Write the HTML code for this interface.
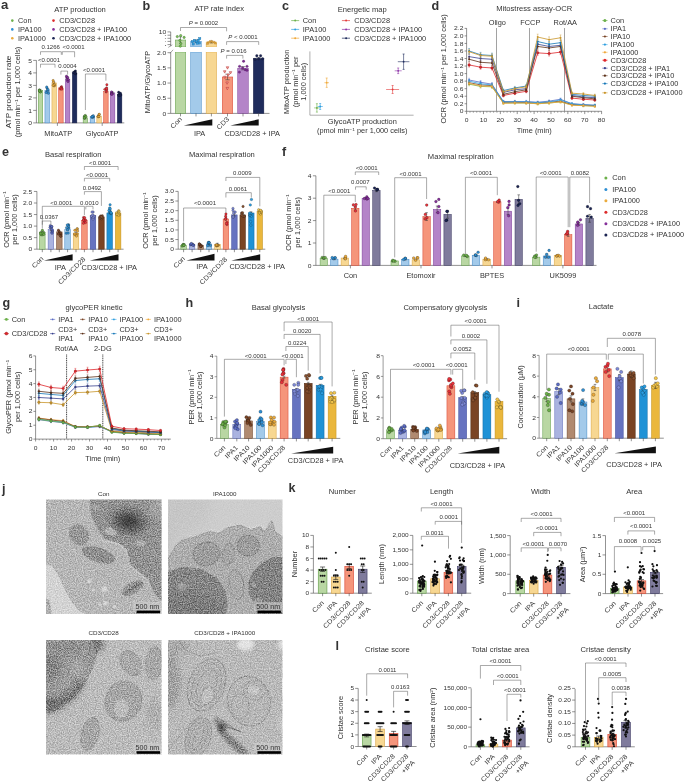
<!DOCTYPE html>
<html lang="en"><head><meta charset="utf-8"><title>Figure</title>
<style>
html,body{margin:0;padding:0;background:#fff}
svg{display:block}
text{font-family:"Liberation Sans",sans-serif;fill:#333}
</style></head><body>
<svg width="685" height="782" viewBox="0 0 685 782">
<defs>
<filter id="grain" x="0" y="0" width="100%" height="100%" color-interpolation-filters="sRGB">
<feTurbulence type="fractalNoise" baseFrequency="0.85" numOctaves="2" seed="5" result="n"/>
<feColorMatrix in="n" type="matrix" values="1.9 0 0 0 -0.45  1.9 0 0 0 -0.45  1.9 0 0 0 -0.45  0 0 0 0 1"/>
</filter>
<filter id="grainc" x="0" y="0" width="100%" height="100%" color-interpolation-filters="sRGB">
<feTurbulence type="fractalNoise" baseFrequency="0.25" numOctaves="3" seed="8" result="n"/>
<feColorMatrix in="n" type="matrix" values="2.6 0 0 0 -0.8  2.6 0 0 0 -0.8  2.6 0 0 0 -0.8  0 0 0 0 1"/>
</filter>
<filter id="b1" x="-30%" y="-30%" width="160%" height="160%"><feGaussianBlur stdDeviation="0.6"/></filter>
<filter id="b2" x="-40%" y="-40%" width="180%" height="180%"><feGaussianBlur stdDeviation="1.6"/></filter>
<filter id="b3" x="-50%" y="-50%" width="200%" height="200%"><feGaussianBlur stdDeviation="3"/></filter>
<filter id="b6" x="-50%" y="-50%" width="200%" height="200%"><feGaussianBlur stdDeviation="7"/></filter>
<clipPath id="cj1"><rect x="46" y="499.4" width="115.6" height="114.6"/></clipPath>
<clipPath id="cj2"><rect x="168" y="499.4" width="114.5" height="114.6"/></clipPath>
<clipPath id="cj3"><rect x="46" y="640" width="115.6" height="114.6"/></clipPath>
<clipPath id="cj4"><rect x="168" y="640" width="114.5" height="114.6"/></clipPath>
</defs>

<text font-size="12" transform="translate(1 8.8) scale(1.1 1)" font-weight="bold" fill="#000">a</text>
<text font-size="6.8" text-anchor="middle" transform="translate(80 11.6) scale(1.12 1)">ATP production</text>
<circle cx="12.3" cy="20.6" r="1.3" fill="#6cb04a"/>
<text font-size="6.6" transform="translate(18 23) scale(1.12 1)">Con</text>
<circle cx="12.3" cy="29.4" r="1.3" fill="#2f8fd3"/>
<text font-size="6.6" transform="translate(18 31.8) scale(1.12 1)">IPA100</text>
<circle cx="12.3" cy="38.2" r="1.3" fill="#eaaa3c"/>
<text font-size="6.6" transform="translate(18 40.6) scale(1.12 1)">IPA1000</text>
<circle cx="53.5" cy="20.6" r="1.3" fill="#dc2a2a"/>
<text font-size="6.6" transform="translate(59.3 23) scale(1.12 1)">CD3/CD28</text>
<circle cx="53.5" cy="29.4" r="1.3" fill="#85309a"/>
<text font-size="6.6" transform="translate(59.3 31.8) scale(1.12 1)">CD3/CD28 + IPA100</text>
<circle cx="53.5" cy="38.2" r="1.3" fill="#1b2452"/>
<text font-size="6.6" transform="translate(59.3 40.6) scale(1.12 1)">CD3/CD28 + IPA1000</text>
<line x1="36.4" y1="60.3" x2="36.4" y2="122.9" stroke="#4a4a4a" stroke-width="0.6"/>
<line x1="33.2" y1="122.9" x2="36.4" y2="122.9" stroke="#4a4a4a" stroke-width="0.6"/>
<text font-size="6" text-anchor="end" transform="translate(32 125) scale(1.12 1)">0</text>
<line x1="33.2" y1="110.4" x2="36.4" y2="110.4" stroke="#4a4a4a" stroke-width="0.6"/>
<text font-size="6" text-anchor="end" transform="translate(32 112.5) scale(1.12 1)">1</text>
<line x1="33.2" y1="97.9" x2="36.4" y2="97.9" stroke="#4a4a4a" stroke-width="0.6"/>
<text font-size="6" text-anchor="end" transform="translate(32 100) scale(1.12 1)">2</text>
<line x1="33.2" y1="85.4" x2="36.4" y2="85.4" stroke="#4a4a4a" stroke-width="0.6"/>
<text font-size="6" text-anchor="end" transform="translate(32 87.5) scale(1.12 1)">3</text>
<line x1="33.2" y1="72.9" x2="36.4" y2="72.9" stroke="#4a4a4a" stroke-width="0.6"/>
<text font-size="6" text-anchor="end" transform="translate(32 75) scale(1.12 1)">4</text>
<line x1="33.2" y1="60.4" x2="36.4" y2="60.4" stroke="#4a4a4a" stroke-width="0.6"/>
<text font-size="6" text-anchor="end" transform="translate(32 62.5) scale(1.12 1)">5</text>
<line x1="36.4" y1="122.9" x2="124.3" y2="122.9" stroke="#4a4a4a" stroke-width="0.6"/>
<line x1="57.4" y1="122.9" x2="57.4" y2="125.9" stroke="#4a4a4a" stroke-width="0.6"/>
<line x1="102.2" y1="122.9" x2="102.2" y2="125.9" stroke="#4a4a4a" stroke-width="0.6"/>
<rect x="38.25" y="90.4" width="4.5" height="32.5" fill="#b9d7a3" stroke="#5e9c45" stroke-width="0.5"/>
<path d="M40.5 89.4V91.4M39.5 89.4H41.5M39.5 91.4H41.5" stroke="#333" stroke-width="0.5" fill="none"/>
<circle cx="39.44" cy="91.06" r="1.2" fill="#6cb04a" stroke="#00000099" stroke-width="0.35"/>
<circle cx="40.52" cy="91.71" r="1.2" fill="#6cb04a" stroke="#00000099" stroke-width="0.35"/>
<circle cx="39.39" cy="89.83" r="1.2" fill="#6cb04a" stroke="#00000099" stroke-width="0.35"/>
<circle cx="40.34" cy="92" r="1.2" fill="#6cb04a" stroke="#00000099" stroke-width="0.35"/>
<circle cx="39.47" cy="90.27" r="1.2" fill="#6cb04a" stroke="#00000099" stroke-width="0.35"/>
<circle cx="39.52" cy="90.9" r="1.2" fill="#6cb04a" stroke="#00000099" stroke-width="0.35"/>
<rect x="44.95" y="90.4" width="4.5" height="32.5" fill="#a3caea" stroke="#3d86c6" stroke-width="0.5"/>
<path d="M47.2 89.4V91.4M46.2 89.4H48.2M46.2 91.4H48.2" stroke="#333" stroke-width="0.5" fill="none"/>
<circle cx="47.39" cy="90.97" r="1.2" fill="#2f8fd3" stroke="#00000099" stroke-width="0.35"/>
<circle cx="46.95" cy="87.95" r="1.2" fill="#2f8fd3" stroke="#00000099" stroke-width="0.35"/>
<circle cx="48.34" cy="93.22" r="1.2" fill="#2f8fd3" stroke="#00000099" stroke-width="0.35"/>
<circle cx="46.11" cy="92.48" r="1.2" fill="#2f8fd3" stroke="#00000099" stroke-width="0.35"/>
<circle cx="48.06" cy="89.44" r="1.2" fill="#2f8fd3" stroke="#00000099" stroke-width="0.35"/>
<circle cx="46.7" cy="87.04" r="1.2" fill="#2f8fd3" stroke="#00000099" stroke-width="0.35"/>
<rect x="51.95" y="82.9" width="4.5" height="40" fill="#f7d792" stroke="#d9a441" stroke-width="0.5"/>
<path d="M54.2 81.9V83.9M53.2 81.9H55.2M53.2 83.9H55.2" stroke="#333" stroke-width="0.5" fill="none"/>
<circle cx="54.53" cy="85.57" r="1.2" fill="#eaaa3c" stroke="#00000099" stroke-width="0.35"/>
<circle cx="53.89" cy="85.77" r="1.2" fill="#eaaa3c" stroke="#00000099" stroke-width="0.35"/>
<circle cx="54.31" cy="84.34" r="1.2" fill="#eaaa3c" stroke="#00000099" stroke-width="0.35"/>
<circle cx="53.15" cy="80.53" r="1.2" fill="#eaaa3c" stroke="#00000099" stroke-width="0.35"/>
<circle cx="53.14" cy="85.29" r="1.2" fill="#eaaa3c" stroke="#00000099" stroke-width="0.35"/>
<circle cx="53.49" cy="82.29" r="1.2" fill="#eaaa3c" stroke="#00000099" stroke-width="0.35"/>
<rect x="58.65" y="87.9" width="4.5" height="35" fill="#f5957b" stroke="#d8432f" stroke-width="0.5"/>
<path d="M60.9 86.9V88.9M59.9 86.9H61.9M59.9 88.9H61.9" stroke="#333" stroke-width="0.5" fill="none"/>
<circle cx="61.61" cy="86.77" r="1.2" fill="#e8323a" stroke="#00000099" stroke-width="0.35"/>
<circle cx="61.38" cy="88.35" r="1.2" fill="#e8323a" stroke="#00000099" stroke-width="0.35"/>
<circle cx="60.29" cy="89.06" r="1.2" fill="#e8323a" stroke="#00000099" stroke-width="0.35"/>
<circle cx="61.08" cy="87.37" r="1.2" fill="#e8323a" stroke="#00000099" stroke-width="0.35"/>
<circle cx="60.96" cy="88.19" r="1.2" fill="#e8323a" stroke="#00000099" stroke-width="0.35"/>
<circle cx="61.8" cy="89.15" r="1.2" fill="#e8323a" stroke="#00000099" stroke-width="0.35"/>
<rect x="65.35" y="79.15" width="4.5" height="43.75" fill="#b484c8" stroke="#7d3c98" stroke-width="0.5"/>
<path d="M67.6 78.15V80.15M66.6 78.15H68.6M66.6 80.15H68.6" stroke="#333" stroke-width="0.5" fill="none"/>
<circle cx="66.76" cy="77.72" r="1.2" fill="#85309a" stroke="#00000099" stroke-width="0.35"/>
<circle cx="67.57" cy="80.48" r="1.2" fill="#85309a" stroke="#00000099" stroke-width="0.35"/>
<circle cx="66.49" cy="76.15" r="1.2" fill="#85309a" stroke="#00000099" stroke-width="0.35"/>
<circle cx="68" cy="81.54" r="1.2" fill="#85309a" stroke="#00000099" stroke-width="0.35"/>
<circle cx="68.23" cy="79.66" r="1.2" fill="#85309a" stroke="#00000099" stroke-width="0.35"/>
<circle cx="67.78" cy="77.54" r="1.2" fill="#85309a" stroke="#00000099" stroke-width="0.35"/>
<rect x="72.35" y="72.9" width="4.5" height="50" fill="#1f2c5c" stroke="#141d45" stroke-width="0.5"/>
<path d="M74.6 71.9V73.9M73.6 71.9H75.6M73.6 73.9H75.6" stroke="#333" stroke-width="0.5" fill="none"/>
<circle cx="75.42" cy="71.02" r="1.2" fill="#1b2452" stroke="#00000099" stroke-width="0.35"/>
<circle cx="75.67" cy="73.83" r="1.2" fill="#1b2452" stroke="#00000099" stroke-width="0.35"/>
<circle cx="74.54" cy="71.92" r="1.2" fill="#1b2452" stroke="#00000099" stroke-width="0.35"/>
<circle cx="74.99" cy="72.43" r="1.2" fill="#1b2452" stroke="#00000099" stroke-width="0.35"/>
<circle cx="73.55" cy="72.5" r="1.2" fill="#1b2452" stroke="#00000099" stroke-width="0.35"/>
<circle cx="75.08" cy="73.12" r="1.2" fill="#1b2452" stroke="#00000099" stroke-width="0.35"/>
<rect x="83.15" y="117.9" width="4.5" height="5" fill="#b9d7a3" stroke="#5e9c45" stroke-width="0.5"/>
<path d="M85.4 116.9V118.9M84.4 116.9H86.4M84.4 118.9H86.4" stroke="#333" stroke-width="0.5" fill="none"/>
<circle cx="84.25" cy="116.81" r="1.2" fill="#6cb04a" stroke="#00000099" stroke-width="0.35"/>
<circle cx="85.31" cy="115.43" r="1.2" fill="#6cb04a" stroke="#00000099" stroke-width="0.35"/>
<circle cx="84.6" cy="116.11" r="1.2" fill="#6cb04a" stroke="#00000099" stroke-width="0.35"/>
<circle cx="84.48" cy="118.26" r="1.2" fill="#6cb04a" stroke="#00000099" stroke-width="0.35"/>
<circle cx="84.34" cy="117.86" r="1.2" fill="#6cb04a" stroke="#00000099" stroke-width="0.35"/>
<circle cx="86.04" cy="116.73" r="1.2" fill="#6cb04a" stroke="#00000099" stroke-width="0.35"/>
<rect x="90.15" y="116.65" width="4.5" height="6.25" fill="#a3caea" stroke="#3d86c6" stroke-width="0.5"/>
<path d="M92.4 115.65V117.65M91.4 115.65H93.4M91.4 117.65H93.4" stroke="#333" stroke-width="0.5" fill="none"/>
<circle cx="92.52" cy="117.14" r="1.2" fill="#2f8fd3" stroke="#00000099" stroke-width="0.35"/>
<circle cx="93.32" cy="116.9" r="1.2" fill="#2f8fd3" stroke="#00000099" stroke-width="0.35"/>
<circle cx="93.17" cy="116.62" r="1.2" fill="#2f8fd3" stroke="#00000099" stroke-width="0.35"/>
<circle cx="93.27" cy="115.66" r="1.2" fill="#2f8fd3" stroke="#00000099" stroke-width="0.35"/>
<circle cx="91.87" cy="117.24" r="1.2" fill="#2f8fd3" stroke="#00000099" stroke-width="0.35"/>
<circle cx="92.2" cy="116.5" r="1.2" fill="#2f8fd3" stroke="#00000099" stroke-width="0.35"/>
<rect x="96.85" y="116.03" width="4.5" height="6.88" fill="#f7d792" stroke="#d9a441" stroke-width="0.5"/>
<path d="M99.1 115.03V117.03M98.1 115.03H100.1M98.1 117.03H100.1" stroke="#333" stroke-width="0.5" fill="none"/>
<circle cx="98.46" cy="116.07" r="1.2" fill="#eaaa3c" stroke="#00000099" stroke-width="0.35"/>
<circle cx="99.06" cy="114.5" r="1.2" fill="#eaaa3c" stroke="#00000099" stroke-width="0.35"/>
<circle cx="99.31" cy="114.28" r="1.2" fill="#eaaa3c" stroke="#00000099" stroke-width="0.35"/>
<circle cx="98.53" cy="116.7" r="1.2" fill="#eaaa3c" stroke="#00000099" stroke-width="0.35"/>
<circle cx="97.91" cy="116.62" r="1.2" fill="#eaaa3c" stroke="#00000099" stroke-width="0.35"/>
<circle cx="98.91" cy="116.45" r="1.2" fill="#eaaa3c" stroke="#00000099" stroke-width="0.35"/>
<rect x="103.65" y="91.65" width="4.5" height="31.25" fill="#f5957b" stroke="#d8432f" stroke-width="0.5"/>
<path d="M105.9 90.65V92.65M104.9 90.65H106.9M104.9 92.65H106.9" stroke="#333" stroke-width="0.5" fill="none"/>
<circle cx="106.32" cy="91.72" r="1.2" fill="#e8323a" stroke="#00000099" stroke-width="0.35"/>
<circle cx="104.83" cy="89.35" r="1.2" fill="#e8323a" stroke="#00000099" stroke-width="0.35"/>
<circle cx="106.86" cy="84.71" r="1.2" fill="#e8323a" stroke="#00000099" stroke-width="0.35"/>
<circle cx="106.57" cy="87.86" r="1.2" fill="#e8323a" stroke="#00000099" stroke-width="0.35"/>
<circle cx="106.8" cy="89.96" r="1.2" fill="#e8323a" stroke="#00000099" stroke-width="0.35"/>
<circle cx="106.61" cy="88.74" r="1.2" fill="#e8323a" stroke="#00000099" stroke-width="0.35"/>
<rect x="110.35" y="92.9" width="4.5" height="30" fill="#b484c8" stroke="#7d3c98" stroke-width="0.5"/>
<path d="M112.6 91.9V93.9M111.6 91.9H113.6M111.6 93.9H113.6" stroke="#333" stroke-width="0.5" fill="none"/>
<circle cx="111.9" cy="92.83" r="1.2" fill="#85309a" stroke="#00000099" stroke-width="0.35"/>
<circle cx="111.79" cy="92.8" r="1.2" fill="#85309a" stroke="#00000099" stroke-width="0.35"/>
<circle cx="112.22" cy="93.99" r="1.2" fill="#85309a" stroke="#00000099" stroke-width="0.35"/>
<circle cx="111.53" cy="91.86" r="1.2" fill="#85309a" stroke="#00000099" stroke-width="0.35"/>
<circle cx="111.4" cy="94.15" r="1.2" fill="#85309a" stroke="#00000099" stroke-width="0.35"/>
<circle cx="111.76" cy="94.13" r="1.2" fill="#85309a" stroke="#00000099" stroke-width="0.35"/>
<rect x="117.35" y="94.15" width="4.5" height="28.75" fill="#1f2c5c" stroke="#141d45" stroke-width="0.5"/>
<path d="M119.6 93.15V95.15M118.6 93.15H120.6M118.6 95.15H120.6" stroke="#333" stroke-width="0.5" fill="none"/>
<circle cx="119.01" cy="95.24" r="1.2" fill="#1b2452" stroke="#00000099" stroke-width="0.35"/>
<circle cx="119.23" cy="94.2" r="1.2" fill="#1b2452" stroke="#00000099" stroke-width="0.35"/>
<circle cx="119.27" cy="95.55" r="1.2" fill="#1b2452" stroke="#00000099" stroke-width="0.35"/>
<circle cx="118.69" cy="92.15" r="1.2" fill="#1b2452" stroke="#00000099" stroke-width="0.35"/>
<circle cx="120.44" cy="93.19" r="1.2" fill="#1b2452" stroke="#00000099" stroke-width="0.35"/>
<circle cx="120.78" cy="95.06" r="1.2" fill="#1b2452" stroke="#00000099" stroke-width="0.35"/>
<text font-size="6.6" text-anchor="middle" transform="translate(58.2 136.2) scale(1.12 1)">MitoATP</text>
<text font-size="6.6" text-anchor="middle" transform="translate(102.2 136.2) scale(1.12 1)">GlycoATP</text>
<text font-size="6.6" text-anchor="middle" transform="translate(10.8 92) rotate(-90) scale(1.25 1)">ATP production rate</text>
<text font-size="6.6" text-anchor="middle" transform="translate(20.3 92) rotate(-90) scale(1.12 1)">(pmol min<tspan dy="-2.4" font-size="4.4">−1</tspan><tspan dy="2.4"> per 1,000 cells)</tspan></text>
<path d="M40.5 54.8V51.7H61.3V54.8" stroke="#555" stroke-width="0.5" fill="none"/>
<path d="M62.3 54.8V51.7H74.6V57.2" stroke="#555" stroke-width="0.5" fill="none"/>
<text font-size="5.4" text-anchor="middle" transform="translate(50.7 49.2) scale(1.12 1)">0.1266</text>
<text font-size="5.4" text-anchor="middle" transform="translate(73.6 49.2) scale(1.12 1)">&lt;0.0001</text>
<path d="M40.5 67.6V64.2H55V67.6" stroke="#555" stroke-width="0.5" fill="none"/>
<text font-size="5.4" text-anchor="middle" transform="translate(49 62.4) scale(1.12 1)">&lt;0.0001</text>
<path d="M60.9 74.6V71.1H67.6V74.6" stroke="#555" stroke-width="0.5" fill="none"/>
<text font-size="5.4" text-anchor="middle" transform="translate(67.4 68) scale(1.12 1)">0.0004</text>
<path d="M85.4 110V74H105.9V80.7" stroke="#555" stroke-width="0.5" fill="none"/>
<text font-size="5.4" text-anchor="middle" transform="translate(94 71.6) scale(1.12 1)">&lt;0.0001</text>
<text font-size="12" transform="translate(142.5 9.5) scale(1.05 1)" font-weight="bold" fill="#000">b</text>
<text font-size="6.8" text-anchor="middle" transform="translate(219.3 11.4) scale(1.12 1)">ATP rate index</text>
<line x1="170.7" y1="52.4" x2="170.7" y2="113.4" stroke="#4a4a4a" stroke-width="0.6"/>
<line x1="167.5" y1="113.4" x2="170.7" y2="113.4" stroke="#4a4a4a" stroke-width="0.6"/>
<text font-size="6" text-anchor="end" transform="translate(166.3 115.5) scale(1.12 1)">0</text>
<line x1="167.5" y1="98.23" x2="170.7" y2="98.23" stroke="#4a4a4a" stroke-width="0.6"/>
<text font-size="6" text-anchor="end" transform="translate(166.3 100.33) scale(1.12 1)">0.5</text>
<line x1="167.5" y1="83.05" x2="170.7" y2="83.05" stroke="#4a4a4a" stroke-width="0.6"/>
<text font-size="6" text-anchor="end" transform="translate(166.3 85.15) scale(1.12 1)">1.0</text>
<line x1="167.5" y1="67.88" x2="170.7" y2="67.88" stroke="#4a4a4a" stroke-width="0.6"/>
<text font-size="6" text-anchor="end" transform="translate(166.3 69.97) scale(1.12 1)">1.5</text>
<line x1="167.5" y1="52.7" x2="170.7" y2="52.7" stroke="#4a4a4a" stroke-width="0.6"/>
<text font-size="6" text-anchor="end" transform="translate(166.3 54.8) scale(1.12 1)">2.0</text>
<line x1="170.7" y1="113.4" x2="269.5" y2="113.4" stroke="#4a4a4a" stroke-width="0.6"/>
<line x1="170.7" y1="31.9" x2="170.7" y2="46.2" stroke="#4a4a4a" stroke-width="0.6"/>
<line x1="167.5" y1="31.9" x2="170.7" y2="31.9" stroke="#4a4a4a" stroke-width="0.6"/>
<line x1="167.5" y1="35.2" x2="170.7" y2="35.2" stroke="#4a4a4a" stroke-width="0.6"/>
<line x1="167.5" y1="38.3" x2="170.7" y2="38.3" stroke="#4a4a4a" stroke-width="0.6"/>
<line x1="167.5" y1="41.4" x2="170.7" y2="41.4" stroke="#4a4a4a" stroke-width="0.6"/>
<line x1="167.5" y1="44.6" x2="170.7" y2="44.6" stroke="#4a4a4a" stroke-width="0.6"/>
<text font-size="6" text-anchor="end" transform="translate(166.3 34.3) scale(1.12 1)">10</text>
<text font-size="2.4" text-anchor="end" transform="translate(166.3 36.4) scale(1.12 1)">8</text>
<text font-size="2.4" text-anchor="end" transform="translate(166.3 39.3) scale(1.12 1)">6</text>
<text font-size="2.4" text-anchor="end" transform="translate(166.3 42.4) scale(1.12 1)">4</text>
<text font-size="2.4" text-anchor="end" transform="translate(166.3 45.6) scale(1.12 1)">2</text>
<line x1="168.3" y1="47.4" x2="172.3" y2="44.8" stroke="#4a4a4a" stroke-width="0.5"/>
<line x1="170.1" y1="53.2" x2="173.1" y2="49.8" stroke="#4a4a4a" stroke-width="0.5"/>
<rect x="175.25" y="52" width="10.5" height="61.4" fill="#b9d7a3" stroke="#5e9c45" stroke-width="0.5"/>
<rect x="175.25" y="40" width="10.5" height="7" fill="#b9d7a3" stroke="#5e9c45" stroke-width="0.5"/>
<rect x="174.75" y="47" width="11.5" height="5" fill="#fff"/>
<rect x="190.75" y="52" width="10.5" height="61.4" fill="#a3caea" stroke="#3d86c6" stroke-width="0.5"/>
<rect x="190.75" y="41.2" width="10.5" height="5.8" fill="#a3caea" stroke="#3d86c6" stroke-width="0.5"/>
<rect x="190.25" y="47" width="11.5" height="5" fill="#fff"/>
<rect x="206.15" y="52" width="10.5" height="61.4" fill="#f7d792" stroke="#d9a441" stroke-width="0.5"/>
<rect x="206.15" y="42" width="10.5" height="5" fill="#f7d792" stroke="#d9a441" stroke-width="0.5"/>
<rect x="205.65" y="47" width="11.5" height="5" fill="#fff"/>
<path d="M180.5 36.8V43.2M179 36.8H182M179 43.2H182" stroke="#333" stroke-width="0.5" fill="none"/>
<path d="M196 39.8V42.6M194.5 39.8H197.5M194.5 42.6H197.5" stroke="#333" stroke-width="0.5" fill="none"/>
<path d="M211.4 41V43M209.9 41H212.9M209.9 43H212.9" stroke="#333" stroke-width="0.5" fill="none"/>
<circle cx="177.3" cy="36.6" r="1.15" fill="#7dc05a" stroke="#3e7a2a" stroke-width="0.5"/>
<circle cx="180.7" cy="35.6" r="1.15" fill="#7dc05a" stroke="#3e7a2a" stroke-width="0.5"/>
<circle cx="184.1" cy="37.4" r="1.15" fill="#7dc05a" stroke="#3e7a2a" stroke-width="0.5"/>
<circle cx="179.9" cy="40.4" r="1.15" fill="#7dc05a" stroke="#3e7a2a" stroke-width="0.5"/>
<circle cx="180.8" cy="43.6" r="1.15" fill="#7dc05a" stroke="#3e7a2a" stroke-width="0.5"/>
<circle cx="180.3" cy="46.2" r="1.15" fill="#7dc05a" stroke="#3e7a2a" stroke-width="0.5"/>
<rect x="191.35" y="40.55" width="2.1" height="2.1" fill="#2f9fe0" stroke="#1b6fa8" stroke-width="0.4"/>
<rect x="193.35" y="39.35" width="2.1" height="2.1" fill="#2f9fe0" stroke="#1b6fa8" stroke-width="0.4"/>
<rect x="195.35" y="40.75" width="2.1" height="2.1" fill="#2f9fe0" stroke="#1b6fa8" stroke-width="0.4"/>
<rect x="197.15" y="39.15" width="2.1" height="2.1" fill="#2f9fe0" stroke="#1b6fa8" stroke-width="0.4"/>
<rect x="198.75" y="37.55" width="2.1" height="2.1" fill="#2f9fe0" stroke="#1b6fa8" stroke-width="0.4"/>
<rect x="192.15" y="42.95" width="2.1" height="2.1" fill="#2f9fe0" stroke="#1b6fa8" stroke-width="0.4"/>
<rect x="196.15" y="42.15" width="2.1" height="2.1" fill="#2f9fe0" stroke="#1b6fa8" stroke-width="0.4"/>
<rect x="198.35" y="41.95" width="2.1" height="2.1" fill="#2f9fe0" stroke="#1b6fa8" stroke-width="0.4"/>
<path d="M206.9 43.4L209.1 43.4L208 41.3Z" stroke="#b07a1e" stroke-width="0.4" fill="#f0b244"/>
<path d="M208.5 42.4L210.7 42.4L209.6 40.3Z" stroke="#b07a1e" stroke-width="0.4" fill="#f0b244"/>
<path d="M210.1 42L212.3 42L211.2 39.9Z" stroke="#b07a1e" stroke-width="0.4" fill="#f0b244"/>
<path d="M211.7 42.6L213.9 42.6L212.8 40.5Z" stroke="#b07a1e" stroke-width="0.4" fill="#f0b244"/>
<path d="M213.3 43L215.5 43L214.4 40.9Z" stroke="#b07a1e" stroke-width="0.4" fill="#f0b244"/>
<path d="M214.3 44L216.5 44L215.4 41.9Z" stroke="#b07a1e" stroke-width="0.4" fill="#f0b244"/>
<path d="M206.3 44.4L208.5 44.4L207.4 42.3Z" stroke="#b07a1e" stroke-width="0.4" fill="#f0b244"/>
<rect x="222.25" y="76.98" width="10.5" height="36.42" fill="#f5957b" stroke="#d8432f" stroke-width="0.5"/>
<rect x="237.75" y="68.18" width="10.5" height="45.22" fill="#b484c8" stroke="#7d3c98" stroke-width="0.5"/>
<rect x="253.35" y="58.62" width="10.5" height="54.78" fill="#1f2c5c" stroke="#141d45" stroke-width="0.5"/>
<path d="M227.5 74.18V79.78M225.3 74.18H229.7M225.3 79.78H229.7" stroke="#333" stroke-width="0.5" fill="none"/>
<path d="M243 66.58V69.78M240.8 66.58H245.2M240.8 69.78H245.2" stroke="#333" stroke-width="0.5" fill="none"/>
<path d="M258.6 57.72V59.52M256.4 57.72H260.8M256.4 59.52H260.8" stroke="#333" stroke-width="0.5" fill="none"/>
<path d="M226 87.41L228.6 87.41L227.3 89.81Z" stroke="#b3242a" stroke-width="0.5" fill="#f7b0a0"/>
<path d="M225.8 81.95L228.4 81.95L227.1 84.35Z" stroke="#b3242a" stroke-width="0.5" fill="#f7b0a0"/>
<path d="M223.6 76.18L226.2 76.18L224.9 78.58Z" stroke="#b3242a" stroke-width="0.5" fill="#f7b0a0"/>
<path d="M226.8 74.06L229.4 74.06L228.1 76.46Z" stroke="#b3242a" stroke-width="0.5" fill="#f7b0a0"/>
<path d="M223.4 70.72L226 70.72L224.7 73.12Z" stroke="#b3242a" stroke-width="0.5" fill="#f7b0a0"/>
<path d="M229.2 71.63L231.8 71.63L230.5 74.03Z" stroke="#b3242a" stroke-width="0.5" fill="#f7b0a0"/>
<path d="M226.2 66.78L228.8 66.78L227.5 69.17Z" stroke="#b3242a" stroke-width="0.5" fill="#f7b0a0"/>
<circle cx="239.4" cy="72.12" r="1.2" fill="#7b2d8e" stroke="#4f1a60" stroke-width="0.3"/>
<circle cx="239.6" cy="66.36" r="1.2" fill="#7b2d8e" stroke="#4f1a60" stroke-width="0.3"/>
<circle cx="242.6" cy="67.88" r="1.2" fill="#7b2d8e" stroke="#4f1a60" stroke-width="0.3"/>
<circle cx="245.2" cy="69.7" r="1.2" fill="#7b2d8e" stroke="#4f1a60" stroke-width="0.3"/>
<circle cx="247" cy="70.3" r="1.2" fill="#7b2d8e" stroke="#4f1a60" stroke-width="0.3"/>
<circle cx="247" cy="66.36" r="1.2" fill="#7b2d8e" stroke="#4f1a60" stroke-width="0.3"/>
<circle cx="243.6" cy="61.2" r="1.2" fill="#7b2d8e" stroke="#4f1a60" stroke-width="0.3"/>
<circle cx="255" cy="59.38" r="1.25" fill="#1b2452" stroke="#0d1330" stroke-width="0.3"/>
<circle cx="256.8" cy="55.74" r="1.25" fill="#1b2452" stroke="#0d1330" stroke-width="0.3"/>
<circle cx="258.8" cy="58.77" r="1.25" fill="#1b2452" stroke="#0d1330" stroke-width="0.3"/>
<circle cx="260.6" cy="55.74" r="1.25" fill="#1b2452" stroke="#0d1330" stroke-width="0.3"/>
<circle cx="262.6" cy="58.77" r="1.25" fill="#1b2452" stroke="#0d1330" stroke-width="0.3"/>
<line x1="180.5" y1="113.4" x2="180.5" y2="116.4" stroke="#4a4a4a" stroke-width="0.6"/>
<line x1="196" y1="113.4" x2="196" y2="116.4" stroke="#4a4a4a" stroke-width="0.6"/>
<line x1="211.4" y1="113.4" x2="211.4" y2="116.4" stroke="#4a4a4a" stroke-width="0.6"/>
<line x1="227.5" y1="113.4" x2="227.5" y2="116.4" stroke="#4a4a4a" stroke-width="0.6"/>
<line x1="243" y1="113.4" x2="243" y2="116.4" stroke="#4a4a4a" stroke-width="0.6"/>
<line x1="258.6" y1="113.4" x2="258.6" y2="116.4" stroke="#4a4a4a" stroke-width="0.6"/>
<path d="M180.5 31V27.5H226.6V31.3" stroke="#555" stroke-width="0.5" fill="none"/>
<text font-size="5.4" text-anchor="middle" transform="translate(203.5 24.6) scale(1.12 1)"><tspan font-style="italic">P</tspan> = 0.0002</text>
<path d="M226.6 44.9V41.6H258.7V44.9" stroke="#555" stroke-width="0.5" fill="none"/>
<text font-size="5.4" text-anchor="middle" transform="translate(242.9 39.4) scale(1.12 1)"><tspan font-style="italic">P</tspan> &lt; 0.0001</text>
<path d="M226.6 58.6V55.4H242.9V58.6" stroke="#555" stroke-width="0.5" fill="none"/>
<text font-size="5.4" text-anchor="middle" transform="translate(233.6 52.6) scale(1.12 1)"><tspan font-style="italic">P</tspan> = 0.016</text>
<text font-size="6.6" text-anchor="end" transform="translate(182.5 119.5) rotate(-45) scale(1.12 1)">Con</text>
<path d="M183.8 125.6L212.3 125.6L212.3 119.3Z" stroke="none" stroke-width="0.6" fill="#111"/>
<text font-size="6.6" text-anchor="middle" transform="translate(199.6 136.4) scale(1.12 1)">IPA</text>
<text font-size="6.6" text-anchor="end" transform="translate(229.6 119.5) rotate(-45) scale(1.12 1)">CD3</text>
<path d="M230.3 125.6L258.7 125.6L258.7 119.3Z" stroke="none" stroke-width="0.6" fill="#111"/>
<text font-size="6.6" text-anchor="middle" transform="translate(252.2 136.4) scale(1.12 1)">CD3/CD28 + IPA</text>
<text font-size="6.6" text-anchor="middle" transform="translate(150 82) rotate(-90) scale(1.12 1)">MitoATP/GlycoATP</text>
<text font-size="12" transform="translate(282 9.5) scale(1.05 1)" font-weight="bold" fill="#000">c</text>
<text font-size="6.8" text-anchor="middle" transform="translate(362.2 11.6) scale(1.12 1)">Energetic map</text>
<line x1="291.2" y1="20.6" x2="299.2" y2="20.6" stroke="#6cb04a" stroke-width="0.7"/>
<circle cx="295.2" cy="20.6" r="1" fill="#6cb04a"/>
<text font-size="6.6" transform="translate(302.7 23) scale(1.12 1)">Con</text>
<line x1="291.2" y1="29.4" x2="299.2" y2="29.4" stroke="#2f9fe0" stroke-width="0.7"/>
<circle cx="295.2" cy="29.4" r="1" fill="#2f9fe0"/>
<text font-size="6.6" transform="translate(302.7 31.8) scale(1.12 1)">IPA100</text>
<line x1="291.2" y1="38.2" x2="299.2" y2="38.2" stroke="#f0a93a" stroke-width="0.7"/>
<circle cx="295.2" cy="38.2" r="1" fill="#f0a93a"/>
<text font-size="6.6" transform="translate(302.7 40.6) scale(1.12 1)">IPA1000</text>
<line x1="341.9" y1="20.6" x2="350" y2="20.6" stroke="#e23b3b" stroke-width="0.7"/>
<circle cx="346.1" cy="20.6" r="1" fill="#e23b3b"/>
<text font-size="6.6" transform="translate(354.3 23) scale(1.12 1)">CD3/CD28</text>
<line x1="341.9" y1="29.4" x2="350" y2="29.4" stroke="#8e35a8" stroke-width="0.7"/>
<circle cx="346.1" cy="29.4" r="1" fill="#8e35a8"/>
<text font-size="6.6" transform="translate(354.3 31.8) scale(1.12 1)">CD3/CD28 + IPA100</text>
<line x1="341.9" y1="38.2" x2="350" y2="38.2" stroke="#1f2c5c" stroke-width="0.7"/>
<circle cx="346.1" cy="38.2" r="1" fill="#1f2c5c"/>
<text font-size="6.6" transform="translate(354.3 40.6) scale(1.12 1)">CD3/CD28 + IPA1000</text>
<path d="M309.9 51.4V115.2H413.6" stroke="#777" stroke-width="0.6" fill="none"/>
<path d="M314.1 107.9H319.7M316.9 103.7V112.1M315.9 103.7H317.9M315.9 112.1H317.9" stroke="#6cb04a" stroke-width="0.6" fill="none"/>
<circle cx="316.9" cy="107.9" r="0.9" fill="#6cb04a"/>
<path d="M317.6 106.5H322.8M320.2 103.5V109.5M319.2 103.5H321.2M319.2 109.5H321.2" stroke="#2f9fe0" stroke-width="0.6" fill="none"/>
<circle cx="320.2" cy="106.5" r="0.9" fill="#2f9fe0"/>
<path d="M324.4 82.7H329M326.7 78V87.4M325.7 78H327.7M325.7 87.4H327.7" stroke="#f0a93a" stroke-width="0.6" fill="none"/>
<circle cx="326.7" cy="82.7" r="0.9" fill="#f0a93a"/>
<path d="M386.1 89.5H399.1M392.6 85.5V93.5M391.6 85.5H393.6M391.6 93.5H393.6" stroke="#e23b3b" stroke-width="0.6" fill="none"/>
<circle cx="392.6" cy="89.5" r="0.9" fill="#e23b3b"/>
<path d="M394.7 70.8H401.7M398.2 68V73.6M397.2 68H399.2M397.2 73.6H399.2" stroke="#8e35a8" stroke-width="0.6" fill="none"/>
<circle cx="398.2" cy="70.8" r="0.9" fill="#8e35a8"/>
<path d="M397.8 61.7H409.4M403.6 54V69.4M402.6 54H404.6M402.6 69.4H404.6" stroke="#1f2c5c" stroke-width="0.6" fill="none"/>
<circle cx="403.6" cy="61.7" r="0.9" fill="#1f2c5c"/>
<text font-size="6.6" text-anchor="middle" transform="translate(362.2 124.2) scale(1.12 1)">GlycoATP production</text>
<text font-size="6.6" text-anchor="middle" transform="translate(362.2 133.2) scale(1.12 1)">(pmol min<tspan dy="-2.4" font-size="4.4">−1</tspan><tspan dy="2.4"> per 1,000 cells)</tspan></text>
<text font-size="6.6" text-anchor="middle" transform="translate(289.3 81.8) rotate(-90) scale(1.12 1)">MitoATP production</text>
<text font-size="6.6" text-anchor="middle" transform="translate(297.6 81.8) rotate(-90) scale(1.12 1)">(pmol min<tspan dy="-2.4" font-size="4.4">−1</tspan><tspan dy="2.4"> per</tspan></text>
<text font-size="6.6" text-anchor="middle" transform="translate(305.8 81.8) rotate(-90) scale(1.12 1)">1,000 cells)</text>
<text font-size="12" transform="translate(431.5 9.5) scale(1.05 1)" font-weight="bold" fill="#000">d</text>
<text font-size="6.8" text-anchor="middle" transform="translate(534.2 10.6) scale(1.12 1)">Mitostress assay-OCR</text>
<line x1="466.6" y1="28.2" x2="466.6" y2="111.3" stroke="#4a4a4a" stroke-width="0.6"/>
<line x1="464.6" y1="111.3" x2="466.6" y2="111.3" stroke="#4a4a4a" stroke-width="0.6"/>
<text font-size="6" text-anchor="end" transform="translate(463.4 113.4) scale(1.12 1)">0</text>
<line x1="464.6" y1="103.76" x2="466.6" y2="103.76" stroke="#4a4a4a" stroke-width="0.6"/>
<text font-size="6" text-anchor="end" transform="translate(463.4 105.86) scale(1.12 1)">0.2</text>
<line x1="464.6" y1="96.22" x2="466.6" y2="96.22" stroke="#4a4a4a" stroke-width="0.6"/>
<text font-size="6" text-anchor="end" transform="translate(463.4 98.32) scale(1.12 1)">0.4</text>
<line x1="464.6" y1="88.68" x2="466.6" y2="88.68" stroke="#4a4a4a" stroke-width="0.6"/>
<text font-size="6" text-anchor="end" transform="translate(463.4 90.78) scale(1.12 1)">0.6</text>
<line x1="464.6" y1="81.14" x2="466.6" y2="81.14" stroke="#4a4a4a" stroke-width="0.6"/>
<text font-size="6" text-anchor="end" transform="translate(463.4 83.24) scale(1.12 1)">0.8</text>
<line x1="464.6" y1="73.6" x2="466.6" y2="73.6" stroke="#4a4a4a" stroke-width="0.6"/>
<text font-size="6" text-anchor="end" transform="translate(463.4 75.7) scale(1.12 1)">1.0</text>
<line x1="464.6" y1="66.06" x2="466.6" y2="66.06" stroke="#4a4a4a" stroke-width="0.6"/>
<text font-size="6" text-anchor="end" transform="translate(463.4 68.16) scale(1.12 1)">1.2</text>
<line x1="464.6" y1="58.52" x2="466.6" y2="58.52" stroke="#4a4a4a" stroke-width="0.6"/>
<text font-size="6" text-anchor="end" transform="translate(463.4 60.62) scale(1.12 1)">1.4</text>
<line x1="464.6" y1="50.98" x2="466.6" y2="50.98" stroke="#4a4a4a" stroke-width="0.6"/>
<text font-size="6" text-anchor="end" transform="translate(463.4 53.08) scale(1.12 1)">1.6</text>
<line x1="464.6" y1="43.44" x2="466.6" y2="43.44" stroke="#4a4a4a" stroke-width="0.6"/>
<text font-size="6" text-anchor="end" transform="translate(463.4 45.54) scale(1.12 1)">1.8</text>
<line x1="464.6" y1="35.9" x2="466.6" y2="35.9" stroke="#4a4a4a" stroke-width="0.6"/>
<text font-size="6" text-anchor="end" transform="translate(463.4 38) scale(1.12 1)">2.0</text>
<line x1="464.6" y1="28.36" x2="466.6" y2="28.36" stroke="#4a4a4a" stroke-width="0.6"/>
<text font-size="6" text-anchor="end" transform="translate(463.4 30.46) scale(1.12 1)">2.2</text>
<line x1="466.6" y1="111.3" x2="601.8" y2="111.3" stroke="#4a4a4a" stroke-width="0.6"/>
<line x1="466.6" y1="111.3" x2="466.6" y2="114.1" stroke="#4a4a4a" stroke-width="0.6"/>
<text font-size="6" text-anchor="middle" transform="translate(466.6 121.9) scale(1.12 1)">0</text>
<line x1="469.98" y1="111.3" x2="469.98" y2="112.8" stroke="#4a4a4a" stroke-width="0.45"/>
<line x1="473.35" y1="111.3" x2="473.35" y2="112.8" stroke="#4a4a4a" stroke-width="0.45"/>
<line x1="476.73" y1="111.3" x2="476.73" y2="112.8" stroke="#4a4a4a" stroke-width="0.45"/>
<line x1="480.1" y1="111.3" x2="480.1" y2="112.8" stroke="#4a4a4a" stroke-width="0.45"/>
<line x1="483.48" y1="111.3" x2="483.48" y2="114.1" stroke="#4a4a4a" stroke-width="0.6"/>
<text font-size="6" text-anchor="middle" transform="translate(483.48 121.9) scale(1.12 1)">10</text>
<line x1="486.85" y1="111.3" x2="486.85" y2="112.8" stroke="#4a4a4a" stroke-width="0.45"/>
<line x1="490.23" y1="111.3" x2="490.23" y2="112.8" stroke="#4a4a4a" stroke-width="0.45"/>
<line x1="493.6" y1="111.3" x2="493.6" y2="112.8" stroke="#4a4a4a" stroke-width="0.45"/>
<line x1="496.98" y1="111.3" x2="496.98" y2="112.8" stroke="#4a4a4a" stroke-width="0.45"/>
<line x1="500.35" y1="111.3" x2="500.35" y2="114.1" stroke="#4a4a4a" stroke-width="0.6"/>
<text font-size="6" text-anchor="middle" transform="translate(500.35 121.9) scale(1.12 1)">20</text>
<line x1="503.73" y1="111.3" x2="503.73" y2="112.8" stroke="#4a4a4a" stroke-width="0.45"/>
<line x1="507.1" y1="111.3" x2="507.1" y2="112.8" stroke="#4a4a4a" stroke-width="0.45"/>
<line x1="510.48" y1="111.3" x2="510.48" y2="112.8" stroke="#4a4a4a" stroke-width="0.45"/>
<line x1="513.85" y1="111.3" x2="513.85" y2="112.8" stroke="#4a4a4a" stroke-width="0.45"/>
<line x1="517.23" y1="111.3" x2="517.23" y2="114.1" stroke="#4a4a4a" stroke-width="0.6"/>
<text font-size="6" text-anchor="middle" transform="translate(517.23 121.9) scale(1.12 1)">30</text>
<line x1="520.6" y1="111.3" x2="520.6" y2="112.8" stroke="#4a4a4a" stroke-width="0.45"/>
<line x1="523.98" y1="111.3" x2="523.98" y2="112.8" stroke="#4a4a4a" stroke-width="0.45"/>
<line x1="527.35" y1="111.3" x2="527.35" y2="112.8" stroke="#4a4a4a" stroke-width="0.45"/>
<line x1="530.73" y1="111.3" x2="530.73" y2="112.8" stroke="#4a4a4a" stroke-width="0.45"/>
<line x1="534.1" y1="111.3" x2="534.1" y2="114.1" stroke="#4a4a4a" stroke-width="0.6"/>
<text font-size="6" text-anchor="middle" transform="translate(534.1 121.9) scale(1.12 1)">40</text>
<line x1="537.48" y1="111.3" x2="537.48" y2="112.8" stroke="#4a4a4a" stroke-width="0.45"/>
<line x1="540.85" y1="111.3" x2="540.85" y2="112.8" stroke="#4a4a4a" stroke-width="0.45"/>
<line x1="544.23" y1="111.3" x2="544.23" y2="112.8" stroke="#4a4a4a" stroke-width="0.45"/>
<line x1="547.6" y1="111.3" x2="547.6" y2="112.8" stroke="#4a4a4a" stroke-width="0.45"/>
<line x1="550.98" y1="111.3" x2="550.98" y2="114.1" stroke="#4a4a4a" stroke-width="0.6"/>
<text font-size="6" text-anchor="middle" transform="translate(550.98 121.9) scale(1.12 1)">50</text>
<line x1="554.35" y1="111.3" x2="554.35" y2="112.8" stroke="#4a4a4a" stroke-width="0.45"/>
<line x1="557.73" y1="111.3" x2="557.73" y2="112.8" stroke="#4a4a4a" stroke-width="0.45"/>
<line x1="561.1" y1="111.3" x2="561.1" y2="112.8" stroke="#4a4a4a" stroke-width="0.45"/>
<line x1="564.48" y1="111.3" x2="564.48" y2="112.8" stroke="#4a4a4a" stroke-width="0.45"/>
<line x1="567.85" y1="111.3" x2="567.85" y2="114.1" stroke="#4a4a4a" stroke-width="0.6"/>
<text font-size="6" text-anchor="middle" transform="translate(567.85 121.9) scale(1.12 1)">60</text>
<line x1="571.23" y1="111.3" x2="571.23" y2="112.8" stroke="#4a4a4a" stroke-width="0.45"/>
<line x1="574.6" y1="111.3" x2="574.6" y2="112.8" stroke="#4a4a4a" stroke-width="0.45"/>
<line x1="577.98" y1="111.3" x2="577.98" y2="112.8" stroke="#4a4a4a" stroke-width="0.45"/>
<line x1="581.35" y1="111.3" x2="581.35" y2="112.8" stroke="#4a4a4a" stroke-width="0.45"/>
<line x1="584.73" y1="111.3" x2="584.73" y2="114.1" stroke="#4a4a4a" stroke-width="0.6"/>
<text font-size="6" text-anchor="middle" transform="translate(584.73 121.9) scale(1.12 1)">70</text>
<line x1="588.1" y1="111.3" x2="588.1" y2="112.8" stroke="#4a4a4a" stroke-width="0.45"/>
<line x1="591.48" y1="111.3" x2="591.48" y2="112.8" stroke="#4a4a4a" stroke-width="0.45"/>
<line x1="594.85" y1="111.3" x2="594.85" y2="112.8" stroke="#4a4a4a" stroke-width="0.45"/>
<line x1="598.23" y1="111.3" x2="598.23" y2="112.8" stroke="#4a4a4a" stroke-width="0.45"/>
<line x1="601.6" y1="111.3" x2="601.6" y2="114.1" stroke="#4a4a4a" stroke-width="0.6"/>
<text font-size="6" text-anchor="middle" transform="translate(601.6 121.9) scale(1.12 1)">80</text>
<line x1="496.5" y1="28" x2="496.5" y2="111.3" stroke="#8a8a8a" stroke-width="0.8"/>
<text font-size="6.6" text-anchor="middle" transform="translate(497.3 24.5) scale(1.12 1)">Oligo</text>
<line x1="529.5" y1="28" x2="529.5" y2="111.3" stroke="#8a8a8a" stroke-width="0.8"/>
<text font-size="6.6" text-anchor="middle" transform="translate(530.3 24.5) scale(1.12 1)">FCCP</text>
<line x1="564.5" y1="28" x2="564.5" y2="111.3" stroke="#8a8a8a" stroke-width="0.8"/>
<text font-size="6.6" text-anchor="middle" transform="translate(565.3 24.5) scale(1.12 1)">Rot/AA</text>
<text font-size="6.6" text-anchor="middle" transform="translate(534.2 133.4) scale(1.12 1)">Time (min)</text>
<text font-size="6.6" text-anchor="middle" transform="translate(446.4 68.9) rotate(-90) scale(1.12 1)">OCR (pmol min<tspan dy="-2.4" font-size="4.4">−1</tspan><tspan dy="2.4"> per 1,000 cells)</tspan></text>
<path d="M469.13 84.16L480.56 86.42L491.98 86.79L503.4 103.01L514.83 103.01L526.25 103.01L537.68 103.76L549.1 103.01L560.53 101.88L571.95 104.89L583.38 105.64L594.8 106.02" stroke="#6cb04a" stroke-width="0.8" fill="none"/>
<path d="M469.13 82.54V85.78M468.23 82.54H470.03M468.23 85.78H470.03" stroke="#6cb04a" stroke-width="0.4" fill="none"/>
<circle cx="469.13" cy="84.16" r="0.95" fill="#6cb04a"/>
<path d="M480.56 84.86V87.98M479.66 84.86H481.46M479.66 87.98H481.46" stroke="#6cb04a" stroke-width="0.4" fill="none"/>
<circle cx="480.56" cy="86.42" r="0.95" fill="#6cb04a"/>
<path d="M491.98 85.24V88.34M491.08 85.24H492.88M491.08 88.34H492.88" stroke="#6cb04a" stroke-width="0.4" fill="none"/>
<circle cx="491.98" cy="86.79" r="0.95" fill="#6cb04a"/>
<path d="M503.4 101.89V104.13M502.5 101.89H504.3M502.5 104.13H504.3" stroke="#6cb04a" stroke-width="0.4" fill="none"/>
<circle cx="503.4" cy="103.01" r="0.95" fill="#6cb04a"/>
<path d="M514.83 101.89V104.13M513.93 101.89H515.73M513.93 104.13H515.73" stroke="#6cb04a" stroke-width="0.4" fill="none"/>
<circle cx="514.83" cy="103.01" r="0.95" fill="#6cb04a"/>
<path d="M526.25 101.89V104.13M525.35 101.89H527.15M525.35 104.13H527.15" stroke="#6cb04a" stroke-width="0.4" fill="none"/>
<circle cx="526.25" cy="103.01" r="0.95" fill="#6cb04a"/>
<path d="M537.68 102.66V104.86M536.78 102.66H538.58M536.78 104.86H538.58" stroke="#6cb04a" stroke-width="0.4" fill="none"/>
<circle cx="537.68" cy="103.76" r="0.95" fill="#6cb04a"/>
<path d="M549.1 101.89V104.13M548.2 101.89H550M548.2 104.13H550" stroke="#6cb04a" stroke-width="0.4" fill="none"/>
<circle cx="549.1" cy="103.01" r="0.95" fill="#6cb04a"/>
<path d="M560.53 100.72V103.03M559.63 100.72H561.43M559.63 103.03H561.43" stroke="#6cb04a" stroke-width="0.4" fill="none"/>
<circle cx="560.53" cy="101.88" r="0.95" fill="#6cb04a"/>
<path d="M571.95 103.82V105.96M571.05 103.82H572.85M571.05 105.96H572.85" stroke="#6cb04a" stroke-width="0.4" fill="none"/>
<circle cx="571.95" cy="104.89" r="0.95" fill="#6cb04a"/>
<path d="M583.38 104.59V106.69M582.48 104.59H584.27M582.48 106.69H584.27" stroke="#6cb04a" stroke-width="0.4" fill="none"/>
<circle cx="583.38" cy="105.64" r="0.95" fill="#6cb04a"/>
<path d="M594.8 104.98V107.06M593.9 104.98H595.7M593.9 107.06H595.7" stroke="#6cb04a" stroke-width="0.4" fill="none"/>
<circle cx="594.8" cy="106.02" r="0.95" fill="#6cb04a"/>
<line x1="602.3" y1="20.5" x2="607.6" y2="20.5" stroke="#6cb04a" stroke-width="0.6"/>
<circle cx="604.9" cy="20.5" r="1.5" fill="#6cb04a"/>
<text font-size="6.6" transform="translate(610.6 22.8) scale(1.12 1)">Con</text>
<path d="M469.13 80.01L480.56 82.27L491.98 84.16L503.4 101.5L514.83 101.5L526.25 101.5L537.68 102.25L549.1 101.12L560.53 99.24L571.95 103.76L583.38 104.51L594.8 105.27" stroke="#5b6cc4" stroke-width="0.8" fill="none"/>
<path d="M469.13 78.28V81.74M468.23 78.28H470.03M468.23 81.74H470.03" stroke="#5b6cc4" stroke-width="0.4" fill="none"/>
<circle cx="469.13" cy="80.01" r="0.95" fill="#5b6cc4"/>
<path d="M480.56 80.6V83.94M479.66 80.6H481.46M479.66 83.94H481.46" stroke="#5b6cc4" stroke-width="0.4" fill="none"/>
<circle cx="480.56" cy="82.27" r="0.95" fill="#5b6cc4"/>
<path d="M491.98 82.54V85.78M491.08 82.54H492.88M491.08 85.78H492.88" stroke="#5b6cc4" stroke-width="0.4" fill="none"/>
<circle cx="491.98" cy="84.16" r="0.95" fill="#5b6cc4"/>
<path d="M503.4 100.34V102.66M502.5 100.34H504.3M502.5 102.66H504.3" stroke="#5b6cc4" stroke-width="0.4" fill="none"/>
<circle cx="503.4" cy="101.5" r="0.95" fill="#5b6cc4"/>
<path d="M514.83 100.34V102.66M513.93 100.34H515.73M513.93 102.66H515.73" stroke="#5b6cc4" stroke-width="0.4" fill="none"/>
<circle cx="514.83" cy="101.5" r="0.95" fill="#5b6cc4"/>
<path d="M526.25 100.34V102.66M525.35 100.34H527.15M525.35 102.66H527.15" stroke="#5b6cc4" stroke-width="0.4" fill="none"/>
<circle cx="526.25" cy="101.5" r="0.95" fill="#5b6cc4"/>
<path d="M537.68 101.11V103.39M536.78 101.11H538.58M536.78 103.39H538.58" stroke="#5b6cc4" stroke-width="0.4" fill="none"/>
<circle cx="537.68" cy="102.25" r="0.95" fill="#5b6cc4"/>
<path d="M549.1 99.95V102.29M548.2 99.95H550M548.2 102.29H550" stroke="#5b6cc4" stroke-width="0.4" fill="none"/>
<circle cx="549.1" cy="101.12" r="0.95" fill="#5b6cc4"/>
<path d="M560.53 98.02V100.46M559.63 98.02H561.43M559.63 100.46H561.43" stroke="#5b6cc4" stroke-width="0.4" fill="none"/>
<circle cx="560.53" cy="99.24" r="0.95" fill="#5b6cc4"/>
<path d="M571.95 102.66V104.86M571.05 102.66H572.85M571.05 104.86H572.85" stroke="#5b6cc4" stroke-width="0.4" fill="none"/>
<circle cx="571.95" cy="103.76" r="0.95" fill="#5b6cc4"/>
<path d="M583.38 103.43V105.59M582.48 103.43H584.27M582.48 105.59H584.27" stroke="#5b6cc4" stroke-width="0.4" fill="none"/>
<circle cx="583.38" cy="104.51" r="0.95" fill="#5b6cc4"/>
<path d="M594.8 104.21V106.33M593.9 104.21H595.7M593.9 106.33H595.7" stroke="#5b6cc4" stroke-width="0.4" fill="none"/>
<circle cx="594.8" cy="105.27" r="0.95" fill="#5b6cc4"/>
<line x1="602.3" y1="28.8" x2="607.6" y2="28.8" stroke="#5b6cc4" stroke-width="0.6"/>
<circle cx="604.9" cy="28.8" r="1.1" fill="#5b6cc4"/>
<text font-size="6.6" transform="translate(610.6 31.1) scale(1.12 1)">IPA1</text>
<path d="M469.13 82.65L480.56 84.91L491.98 85.66L503.4 102.25L514.83 102.25L526.25 102.63L537.68 103.01L549.1 102.25L560.53 101.12L571.95 104.51L583.38 105.27L594.8 105.64" stroke="#7a4527" stroke-width="0.8" fill="none"/>
<path d="M469.13 80.99V84.31M468.23 80.99H470.03M468.23 84.31H470.03" stroke="#7a4527" stroke-width="0.4" fill="none"/>
<circle cx="469.13" cy="82.65" r="0.95" fill="#7a4527"/>
<path d="M480.56 83.31V86.51M479.66 83.31H481.46M479.66 86.51H481.46" stroke="#7a4527" stroke-width="0.4" fill="none"/>
<circle cx="480.56" cy="84.91" r="0.95" fill="#7a4527"/>
<path d="M491.98 84.08V87.24M491.08 84.08H492.88M491.08 87.24H492.88" stroke="#7a4527" stroke-width="0.4" fill="none"/>
<circle cx="491.98" cy="85.66" r="0.95" fill="#7a4527"/>
<path d="M503.4 101.11V103.39M502.5 101.11H504.3M502.5 103.39H504.3" stroke="#7a4527" stroke-width="0.4" fill="none"/>
<circle cx="503.4" cy="102.25" r="0.95" fill="#7a4527"/>
<path d="M514.83 101.11V103.39M513.93 101.11H515.73M513.93 103.39H515.73" stroke="#7a4527" stroke-width="0.4" fill="none"/>
<circle cx="514.83" cy="102.25" r="0.95" fill="#7a4527"/>
<path d="M526.25 101.5V103.76M525.35 101.5H527.15M525.35 103.76H527.15" stroke="#7a4527" stroke-width="0.4" fill="none"/>
<circle cx="526.25" cy="102.63" r="0.95" fill="#7a4527"/>
<path d="M537.68 101.89V104.13M536.78 101.89H538.58M536.78 104.13H538.58" stroke="#7a4527" stroke-width="0.4" fill="none"/>
<circle cx="537.68" cy="103.01" r="0.95" fill="#7a4527"/>
<path d="M549.1 101.11V103.39M548.2 101.11H550M548.2 103.39H550" stroke="#7a4527" stroke-width="0.4" fill="none"/>
<circle cx="549.1" cy="102.25" r="0.95" fill="#7a4527"/>
<path d="M560.53 99.95V102.29M559.63 99.95H561.43M559.63 102.29H561.43" stroke="#7a4527" stroke-width="0.4" fill="none"/>
<circle cx="560.53" cy="101.12" r="0.95" fill="#7a4527"/>
<path d="M571.95 103.43V105.59M571.05 103.43H572.85M571.05 105.59H572.85" stroke="#7a4527" stroke-width="0.4" fill="none"/>
<circle cx="571.95" cy="104.51" r="0.95" fill="#7a4527"/>
<path d="M583.38 104.21V106.33M582.48 104.21H584.27M582.48 106.33H584.27" stroke="#7a4527" stroke-width="0.4" fill="none"/>
<circle cx="583.38" cy="105.27" r="0.95" fill="#7a4527"/>
<path d="M594.8 104.59V106.69M593.9 104.59H595.7M593.9 106.69H595.7" stroke="#7a4527" stroke-width="0.4" fill="none"/>
<circle cx="594.8" cy="105.64" r="0.95" fill="#7a4527"/>
<line x1="602.3" y1="36.5" x2="607.6" y2="36.5" stroke="#7a4527" stroke-width="0.6"/>
<circle cx="604.9" cy="36.5" r="1.1" fill="#7a4527"/>
<text font-size="6.6" transform="translate(610.6 38.8) scale(1.12 1)">IPA10</text>
<path d="M469.13 81.14L480.56 83.78L491.98 84.91L503.4 101.88L514.83 101.88L526.25 101.88L537.68 102.63L549.1 101.88L560.53 99.99L571.95 103.76L583.38 104.89L594.8 105.27" stroke="#2f9fe0" stroke-width="0.8" fill="none"/>
<path d="M469.13 79.44V82.84M468.23 79.44H470.03M468.23 82.84H470.03" stroke="#2f9fe0" stroke-width="0.4" fill="none"/>
<circle cx="469.13" cy="81.14" r="0.95" fill="#2f9fe0"/>
<path d="M480.56 82.15V85.41M479.66 82.15H481.46M479.66 85.41H481.46" stroke="#2f9fe0" stroke-width="0.4" fill="none"/>
<circle cx="480.56" cy="83.78" r="0.95" fill="#2f9fe0"/>
<path d="M491.98 83.31V86.51M491.08 83.31H492.88M491.08 86.51H492.88" stroke="#2f9fe0" stroke-width="0.4" fill="none"/>
<circle cx="491.98" cy="84.91" r="0.95" fill="#2f9fe0"/>
<path d="M503.4 100.72V103.03M502.5 100.72H504.3M502.5 103.03H504.3" stroke="#2f9fe0" stroke-width="0.4" fill="none"/>
<circle cx="503.4" cy="101.88" r="0.95" fill="#2f9fe0"/>
<path d="M514.83 100.72V103.03M513.93 100.72H515.73M513.93 103.03H515.73" stroke="#2f9fe0" stroke-width="0.4" fill="none"/>
<circle cx="514.83" cy="101.88" r="0.95" fill="#2f9fe0"/>
<path d="M526.25 100.72V103.03M525.35 100.72H527.15M525.35 103.03H527.15" stroke="#2f9fe0" stroke-width="0.4" fill="none"/>
<circle cx="526.25" cy="101.88" r="0.95" fill="#2f9fe0"/>
<path d="M537.68 101.5V103.76M536.78 101.5H538.58M536.78 103.76H538.58" stroke="#2f9fe0" stroke-width="0.4" fill="none"/>
<circle cx="537.68" cy="102.63" r="0.95" fill="#2f9fe0"/>
<path d="M549.1 100.72V103.03M548.2 100.72H550M548.2 103.03H550" stroke="#2f9fe0" stroke-width="0.4" fill="none"/>
<circle cx="549.1" cy="101.88" r="0.95" fill="#2f9fe0"/>
<path d="M560.53 98.79V101.19M559.63 98.79H561.43M559.63 101.19H561.43" stroke="#2f9fe0" stroke-width="0.4" fill="none"/>
<circle cx="560.53" cy="99.99" r="0.95" fill="#2f9fe0"/>
<path d="M571.95 102.66V104.86M571.05 102.66H572.85M571.05 104.86H572.85" stroke="#2f9fe0" stroke-width="0.4" fill="none"/>
<circle cx="571.95" cy="103.76" r="0.95" fill="#2f9fe0"/>
<path d="M583.38 103.82V105.96M582.48 103.82H584.27M582.48 105.96H584.27" stroke="#2f9fe0" stroke-width="0.4" fill="none"/>
<circle cx="583.38" cy="104.89" r="0.95" fill="#2f9fe0"/>
<path d="M594.8 104.21V106.33M593.9 104.21H595.7M593.9 106.33H595.7" stroke="#2f9fe0" stroke-width="0.4" fill="none"/>
<circle cx="594.8" cy="105.27" r="0.95" fill="#2f9fe0"/>
<line x1="602.3" y1="44.6" x2="607.6" y2="44.6" stroke="#2f9fe0" stroke-width="0.6"/>
<circle cx="604.9" cy="44.6" r="1.1" fill="#2f9fe0"/>
<text font-size="6.6" transform="translate(610.6 46.9) scale(1.12 1)">IPA100</text>
<path d="M469.13 83.4L480.56 86.04L491.98 86.42L503.4 103.38L514.83 103.01L526.25 103.01L537.68 103.76L549.1 103.01L560.53 101.88L571.95 105.27L583.38 105.64L594.8 106.4" stroke="#f0a93a" stroke-width="0.8" fill="none"/>
<path d="M469.13 81.76V85.04M468.23 81.76H470.03M468.23 85.04H470.03" stroke="#f0a93a" stroke-width="0.4" fill="none"/>
<circle cx="469.13" cy="83.4" r="0.95" fill="#f0a93a"/>
<path d="M480.56 84.47V87.61M479.66 84.47H481.46M479.66 87.61H481.46" stroke="#f0a93a" stroke-width="0.4" fill="none"/>
<circle cx="480.56" cy="86.04" r="0.95" fill="#f0a93a"/>
<path d="M491.98 84.86V87.98M491.08 84.86H492.88M491.08 87.98H492.88" stroke="#f0a93a" stroke-width="0.4" fill="none"/>
<circle cx="491.98" cy="86.42" r="0.95" fill="#f0a93a"/>
<path d="M503.4 102.27V104.49M502.5 102.27H504.3M502.5 104.49H504.3" stroke="#f0a93a" stroke-width="0.4" fill="none"/>
<circle cx="503.4" cy="103.38" r="0.95" fill="#f0a93a"/>
<path d="M514.83 101.89V104.13M513.93 101.89H515.73M513.93 104.13H515.73" stroke="#f0a93a" stroke-width="0.4" fill="none"/>
<circle cx="514.83" cy="103.01" r="0.95" fill="#f0a93a"/>
<path d="M526.25 101.89V104.13M525.35 101.89H527.15M525.35 104.13H527.15" stroke="#f0a93a" stroke-width="0.4" fill="none"/>
<circle cx="526.25" cy="103.01" r="0.95" fill="#f0a93a"/>
<path d="M537.68 102.66V104.86M536.78 102.66H538.58M536.78 104.86H538.58" stroke="#f0a93a" stroke-width="0.4" fill="none"/>
<circle cx="537.68" cy="103.76" r="0.95" fill="#f0a93a"/>
<path d="M549.1 101.89V104.13M548.2 101.89H550M548.2 104.13H550" stroke="#f0a93a" stroke-width="0.4" fill="none"/>
<circle cx="549.1" cy="103.01" r="0.95" fill="#f0a93a"/>
<path d="M560.53 100.72V103.03M559.63 100.72H561.43M559.63 103.03H561.43" stroke="#f0a93a" stroke-width="0.4" fill="none"/>
<circle cx="560.53" cy="101.88" r="0.95" fill="#f0a93a"/>
<path d="M571.95 104.21V106.33M571.05 104.21H572.85M571.05 106.33H572.85" stroke="#f0a93a" stroke-width="0.4" fill="none"/>
<circle cx="571.95" cy="105.27" r="0.95" fill="#f0a93a"/>
<path d="M583.38 104.59V106.69M582.48 104.59H584.27M582.48 106.69H584.27" stroke="#f0a93a" stroke-width="0.4" fill="none"/>
<circle cx="583.38" cy="105.64" r="0.95" fill="#f0a93a"/>
<path d="M594.8 105.37V107.43M593.9 105.37H595.7M593.9 107.43H595.7" stroke="#f0a93a" stroke-width="0.4" fill="none"/>
<circle cx="594.8" cy="106.4" r="0.95" fill="#f0a93a"/>
<line x1="602.3" y1="52.3" x2="607.6" y2="52.3" stroke="#f0a93a" stroke-width="0.6"/>
<circle cx="604.9" cy="52.3" r="1.1" fill="#f0a93a"/>
<text font-size="6.6" transform="translate(610.6 54.6) scale(1.12 1)">IPA1000</text>
<path d="M469.13 64.93L480.56 67.19L491.98 67.94L503.4 95.47L514.83 93.2L526.25 91.32L537.68 52.86L549.1 53.62L560.53 52.11L571.95 98.1L583.38 99.24L594.8 99.99" stroke="#e0262b" stroke-width="0.8" fill="none"/>
<path d="M469.13 62.8V67.06M468.23 62.8H470.03M468.23 67.06H470.03" stroke="#e0262b" stroke-width="0.4" fill="none"/>
<circle cx="469.13" cy="64.93" r="1.25" fill="#e0262b" stroke="#7a1015" stroke-width="0.35"/>
<path d="M480.56 65.12V69.26M479.66 65.12H481.46M479.66 69.26H481.46" stroke="#e0262b" stroke-width="0.4" fill="none"/>
<circle cx="480.56" cy="67.19" r="1.25" fill="#e0262b" stroke="#7a1015" stroke-width="0.35"/>
<path d="M491.98 65.89V69.99M491.08 65.89H492.88M491.08 69.99H492.88" stroke="#e0262b" stroke-width="0.4" fill="none"/>
<circle cx="491.98" cy="67.94" r="1.25" fill="#e0262b" stroke="#7a1015" stroke-width="0.35"/>
<path d="M503.4 94.15V96.79M502.5 94.15H504.3M502.5 96.79H504.3" stroke="#e0262b" stroke-width="0.4" fill="none"/>
<circle cx="503.4" cy="95.47" r="1.25" fill="#e0262b" stroke="#7a1015" stroke-width="0.35"/>
<path d="M514.83 91.82V94.58M513.93 91.82H515.73M513.93 94.58H515.73" stroke="#e0262b" stroke-width="0.4" fill="none"/>
<circle cx="514.83" cy="93.2" r="1.25" fill="#e0262b" stroke="#7a1015" stroke-width="0.35"/>
<path d="M526.25 89.89V92.75M525.35 89.89H527.15M525.35 92.75H527.15" stroke="#e0262b" stroke-width="0.4" fill="none"/>
<circle cx="526.25" cy="91.32" r="1.25" fill="#e0262b" stroke="#7a1015" stroke-width="0.35"/>
<path d="M537.68 50.41V55.31M536.78 50.41H538.58M536.78 55.31H538.58" stroke="#e0262b" stroke-width="0.4" fill="none"/>
<circle cx="537.68" cy="52.86" r="1.25" fill="#e0262b" stroke="#7a1015" stroke-width="0.35"/>
<path d="M549.1 51.19V56.05M548.2 51.19H550M548.2 56.05H550" stroke="#e0262b" stroke-width="0.4" fill="none"/>
<circle cx="549.1" cy="53.62" r="1.25" fill="#e0262b" stroke="#7a1015" stroke-width="0.35"/>
<path d="M560.53 49.64V54.58M559.63 49.64H561.43M559.63 54.58H561.43" stroke="#e0262b" stroke-width="0.4" fill="none"/>
<circle cx="560.53" cy="52.11" r="1.25" fill="#e0262b" stroke="#7a1015" stroke-width="0.35"/>
<path d="M571.95 96.85V99.35M571.05 96.85H572.85M571.05 99.35H572.85" stroke="#e0262b" stroke-width="0.4" fill="none"/>
<circle cx="571.95" cy="98.1" r="1.25" fill="#e0262b" stroke="#7a1015" stroke-width="0.35"/>
<path d="M583.38 98.02V100.46M582.48 98.02H584.27M582.48 100.46H584.27" stroke="#e0262b" stroke-width="0.4" fill="none"/>
<circle cx="583.38" cy="99.24" r="1.25" fill="#e0262b" stroke="#7a1015" stroke-width="0.35"/>
<path d="M594.8 98.79V101.19M593.9 98.79H595.7M593.9 101.19H595.7" stroke="#e0262b" stroke-width="0.4" fill="none"/>
<circle cx="594.8" cy="99.99" r="1.25" fill="#e0262b" stroke="#7a1015" stroke-width="0.35"/>
<line x1="602.3" y1="60.2" x2="607.6" y2="60.2" stroke="#e0262b" stroke-width="0.6"/>
<circle cx="604.9" cy="60.2" r="1.5" fill="#e0262b"/>
<text font-size="6.6" transform="translate(610.6 62.5) scale(1.12 1)">CD3/CD28</text>
<path d="M469.13 56.63L480.56 58.52L491.98 59.27L503.4 92.45L514.83 89.81L526.25 88.68L537.68 44.19L549.1 46.46L560.53 45.32L571.95 95.47L583.38 96.97L594.8 97.73" stroke="#39418f" stroke-width="0.8" fill="none"/>
<path d="M469.13 54.28V58.98M468.23 54.28H470.03M468.23 58.98H470.03" stroke="#39418f" stroke-width="0.4" fill="none"/>
<circle cx="469.13" cy="56.63" r="0.95" fill="#39418f"/>
<path d="M480.56 56.22V60.82M479.66 56.22H481.46M479.66 60.82H481.46" stroke="#39418f" stroke-width="0.4" fill="none"/>
<circle cx="480.56" cy="58.52" r="0.95" fill="#39418f"/>
<path d="M491.98 56.99V61.55M491.08 56.99H492.88M491.08 61.55H492.88" stroke="#39418f" stroke-width="0.4" fill="none"/>
<circle cx="491.98" cy="59.27" r="0.95" fill="#39418f"/>
<path d="M503.4 91.05V93.85M502.5 91.05H504.3M502.5 93.85H504.3" stroke="#39418f" stroke-width="0.4" fill="none"/>
<circle cx="503.4" cy="92.45" r="0.95" fill="#39418f"/>
<path d="M514.83 88.34V91.28M513.93 88.34H515.73M513.93 91.28H515.73" stroke="#39418f" stroke-width="0.4" fill="none"/>
<circle cx="514.83" cy="89.81" r="0.95" fill="#39418f"/>
<path d="M526.25 87.18V90.18M525.35 87.18H527.15M525.35 90.18H527.15" stroke="#39418f" stroke-width="0.4" fill="none"/>
<circle cx="526.25" cy="88.68" r="0.95" fill="#39418f"/>
<path d="M537.68 41.51V46.87M536.78 41.51H538.58M536.78 46.87H538.58" stroke="#39418f" stroke-width="0.4" fill="none"/>
<circle cx="537.68" cy="44.19" r="0.95" fill="#39418f"/>
<path d="M549.1 43.84V49.08M548.2 43.84H550M548.2 49.08H550" stroke="#39418f" stroke-width="0.4" fill="none"/>
<circle cx="549.1" cy="46.46" r="0.95" fill="#39418f"/>
<path d="M560.53 42.67V47.97M559.63 42.67H561.43M559.63 47.97H561.43" stroke="#39418f" stroke-width="0.4" fill="none"/>
<circle cx="560.53" cy="45.32" r="0.95" fill="#39418f"/>
<path d="M571.95 94.15V96.79M571.05 94.15H572.85M571.05 96.79H572.85" stroke="#39418f" stroke-width="0.4" fill="none"/>
<circle cx="571.95" cy="95.47" r="0.95" fill="#39418f"/>
<path d="M583.38 95.69V98.25M582.48 95.69H584.27M582.48 98.25H584.27" stroke="#39418f" stroke-width="0.4" fill="none"/>
<circle cx="583.38" cy="96.97" r="0.95" fill="#39418f"/>
<path d="M594.8 96.47V98.99M593.9 96.47H595.7M593.9 98.99H595.7" stroke="#39418f" stroke-width="0.4" fill="none"/>
<circle cx="594.8" cy="97.73" r="0.95" fill="#39418f"/>
<line x1="602.3" y1="68.2" x2="607.6" y2="68.2" stroke="#39418f" stroke-width="0.6"/>
<circle cx="604.9" cy="68.2" r="1.1" fill="#39418f"/>
<text font-size="6.6" transform="translate(610.6 70.5) scale(1.12 1)">CD3/CD28 + IPA1</text>
<path d="M469.13 59.27L480.56 62.29L491.98 63.04L503.4 94.33L514.83 91.7L526.25 89.81L537.68 46.46L549.1 47.96L560.53 46.46L571.95 96.22L583.38 97.73L594.8 98.86" stroke="#5d3119" stroke-width="0.8" fill="none"/>
<path d="M469.13 56.99V61.55M468.23 56.99H470.03M468.23 61.55H470.03" stroke="#5d3119" stroke-width="0.4" fill="none"/>
<circle cx="469.13" cy="59.27" r="0.95" fill="#5d3119"/>
<path d="M480.56 60.09V64.49M479.66 60.09H481.46M479.66 64.49H481.46" stroke="#5d3119" stroke-width="0.4" fill="none"/>
<circle cx="480.56" cy="62.29" r="0.95" fill="#5d3119"/>
<path d="M491.98 60.86V65.22M491.08 60.86H492.88M491.08 65.22H492.88" stroke="#5d3119" stroke-width="0.4" fill="none"/>
<circle cx="491.98" cy="63.04" r="0.95" fill="#5d3119"/>
<path d="M503.4 92.98V95.68M502.5 92.98H504.3M502.5 95.68H504.3" stroke="#5d3119" stroke-width="0.4" fill="none"/>
<circle cx="503.4" cy="94.33" r="0.95" fill="#5d3119"/>
<path d="M514.83 90.28V93.12M513.93 90.28H515.73M513.93 93.12H515.73" stroke="#5d3119" stroke-width="0.4" fill="none"/>
<circle cx="514.83" cy="91.7" r="0.95" fill="#5d3119"/>
<path d="M526.25 88.34V91.28M525.35 88.34H527.15M525.35 91.28H527.15" stroke="#5d3119" stroke-width="0.4" fill="none"/>
<circle cx="526.25" cy="89.81" r="0.95" fill="#5d3119"/>
<path d="M537.68 43.84V49.08M536.78 43.84H538.58M536.78 49.08H538.58" stroke="#5d3119" stroke-width="0.4" fill="none"/>
<circle cx="537.68" cy="46.46" r="0.95" fill="#5d3119"/>
<path d="M549.1 45.38V50.54M548.2 45.38H550M548.2 50.54H550" stroke="#5d3119" stroke-width="0.4" fill="none"/>
<circle cx="549.1" cy="47.96" r="0.95" fill="#5d3119"/>
<path d="M560.53 43.84V49.08M559.63 43.84H561.43M559.63 49.08H561.43" stroke="#5d3119" stroke-width="0.4" fill="none"/>
<circle cx="560.53" cy="46.46" r="0.95" fill="#5d3119"/>
<path d="M571.95 94.92V97.52M571.05 94.92H572.85M571.05 97.52H572.85" stroke="#5d3119" stroke-width="0.4" fill="none"/>
<circle cx="571.95" cy="96.22" r="0.95" fill="#5d3119"/>
<path d="M583.38 96.47V98.99M582.48 96.47H584.27M582.48 98.99H584.27" stroke="#5d3119" stroke-width="0.4" fill="none"/>
<circle cx="583.38" cy="97.73" r="0.95" fill="#5d3119"/>
<path d="M594.8 97.63V100.09M593.9 97.63H595.7M593.9 100.09H595.7" stroke="#5d3119" stroke-width="0.4" fill="none"/>
<circle cx="594.8" cy="98.86" r="0.95" fill="#5d3119"/>
<line x1="602.3" y1="75.7" x2="607.6" y2="75.7" stroke="#5d3119" stroke-width="0.6"/>
<circle cx="604.9" cy="75.7" r="1.1" fill="#5d3119"/>
<text font-size="6.6" transform="translate(610.6 78) scale(1.12 1)">CD3/CD28 + IPA10</text>
<path d="M469.13 50.98L480.56 54.75L491.98 55.5L503.4 90.56L514.83 87.93L526.25 86.04L537.68 41.55L549.1 44.19L560.53 42.69L571.95 94.33L583.38 95.47L594.8 96.22" stroke="#1577b8" stroke-width="0.8" fill="none"/>
<path d="M469.13 48.48V53.48M468.23 48.48H470.03M468.23 53.48H470.03" stroke="#1577b8" stroke-width="0.4" fill="none"/>
<circle cx="469.13" cy="50.98" r="0.95" fill="#1577b8"/>
<path d="M480.56 52.35V57.15M479.66 52.35H481.46M479.66 57.15H481.46" stroke="#1577b8" stroke-width="0.4" fill="none"/>
<circle cx="480.56" cy="54.75" r="0.95" fill="#1577b8"/>
<path d="M491.98 53.12V57.88M491.08 53.12H492.88M491.08 57.88H492.88" stroke="#1577b8" stroke-width="0.4" fill="none"/>
<circle cx="491.98" cy="55.5" r="0.95" fill="#1577b8"/>
<path d="M503.4 89.11V92.02M502.5 89.11H504.3M502.5 92.02H504.3" stroke="#1577b8" stroke-width="0.4" fill="none"/>
<circle cx="503.4" cy="90.56" r="0.95" fill="#1577b8"/>
<path d="M514.83 86.41V89.45M513.93 86.41H515.73M513.93 89.45H515.73" stroke="#1577b8" stroke-width="0.4" fill="none"/>
<circle cx="514.83" cy="87.93" r="0.95" fill="#1577b8"/>
<path d="M526.25 84.47V87.61M525.35 84.47H527.15M525.35 87.61H527.15" stroke="#1577b8" stroke-width="0.4" fill="none"/>
<circle cx="526.25" cy="86.04" r="0.95" fill="#1577b8"/>
<path d="M537.68 38.8V44.3M536.78 38.8H538.58M536.78 44.3H538.58" stroke="#1577b8" stroke-width="0.4" fill="none"/>
<circle cx="537.68" cy="41.55" r="0.95" fill="#1577b8"/>
<path d="M549.1 41.51V46.87M548.2 41.51H550M548.2 46.87H550" stroke="#1577b8" stroke-width="0.4" fill="none"/>
<circle cx="549.1" cy="44.19" r="0.95" fill="#1577b8"/>
<path d="M560.53 39.97V45.41M559.63 39.97H561.43M559.63 45.41H561.43" stroke="#1577b8" stroke-width="0.4" fill="none"/>
<circle cx="560.53" cy="42.69" r="0.95" fill="#1577b8"/>
<path d="M571.95 92.98V95.68M571.05 92.98H572.85M571.05 95.68H572.85" stroke="#1577b8" stroke-width="0.4" fill="none"/>
<circle cx="571.95" cy="94.33" r="0.95" fill="#1577b8"/>
<path d="M583.38 94.15V96.79M582.48 94.15H584.27M582.48 96.79H584.27" stroke="#1577b8" stroke-width="0.4" fill="none"/>
<circle cx="583.38" cy="95.47" r="0.95" fill="#1577b8"/>
<path d="M594.8 94.92V97.52M593.9 94.92H595.7M593.9 97.52H595.7" stroke="#1577b8" stroke-width="0.4" fill="none"/>
<circle cx="594.8" cy="96.22" r="0.95" fill="#1577b8"/>
<line x1="602.3" y1="83.6" x2="607.6" y2="83.6" stroke="#1577b8" stroke-width="0.6"/>
<circle cx="604.9" cy="83.6" r="1.1" fill="#1577b8"/>
<text font-size="6.6" transform="translate(610.6 85.9) scale(1.12 1)">CD3/CD28 + IPA100</text>
<path d="M469.13 51.73L480.56 55.5L491.98 56.26L503.4 91.7L514.83 88.68L526.25 86.79L537.68 37.03L549.1 39.67L560.53 37.78L571.95 93.2L583.38 93.96L594.8 95.47" stroke="#c9952a" stroke-width="0.8" fill="none"/>
<path d="M469.13 49.25V54.21M468.23 49.25H470.03M468.23 54.21H470.03" stroke="#c9952a" stroke-width="0.4" fill="none"/>
<circle cx="469.13" cy="51.73" r="0.95" fill="#c9952a"/>
<path d="M480.56 53.12V57.88M479.66 53.12H481.46M479.66 57.88H481.46" stroke="#c9952a" stroke-width="0.4" fill="none"/>
<circle cx="480.56" cy="55.5" r="0.95" fill="#c9952a"/>
<path d="M491.98 53.9V58.62M491.08 53.9H492.88M491.08 58.62H492.88" stroke="#c9952a" stroke-width="0.4" fill="none"/>
<circle cx="491.98" cy="56.26" r="0.95" fill="#c9952a"/>
<path d="M503.4 90.28V93.12M502.5 90.28H504.3M502.5 93.12H504.3" stroke="#c9952a" stroke-width="0.4" fill="none"/>
<circle cx="503.4" cy="91.7" r="0.95" fill="#c9952a"/>
<path d="M514.83 87.18V90.18M513.93 87.18H515.73M513.93 90.18H515.73" stroke="#c9952a" stroke-width="0.4" fill="none"/>
<circle cx="514.83" cy="88.68" r="0.95" fill="#c9952a"/>
<path d="M526.25 85.24V88.34M525.35 85.24H527.15M525.35 88.34H527.15" stroke="#c9952a" stroke-width="0.4" fill="none"/>
<circle cx="526.25" cy="86.79" r="0.95" fill="#c9952a"/>
<path d="M537.68 34.16V39.9M536.78 34.16H538.58M536.78 39.9H538.58" stroke="#c9952a" stroke-width="0.4" fill="none"/>
<circle cx="537.68" cy="37.03" r="0.95" fill="#c9952a"/>
<path d="M549.1 36.87V42.47M548.2 36.87H550M548.2 42.47H550" stroke="#c9952a" stroke-width="0.4" fill="none"/>
<circle cx="549.1" cy="39.67" r="0.95" fill="#c9952a"/>
<path d="M560.53 34.93V40.63M559.63 34.93H561.43M559.63 40.63H561.43" stroke="#c9952a" stroke-width="0.4" fill="none"/>
<circle cx="560.53" cy="37.78" r="0.95" fill="#c9952a"/>
<path d="M571.95 91.82V94.58M571.05 91.82H572.85M571.05 94.58H572.85" stroke="#c9952a" stroke-width="0.4" fill="none"/>
<circle cx="571.95" cy="93.2" r="0.95" fill="#c9952a"/>
<path d="M583.38 92.6V95.32M582.48 92.6H584.27M582.48 95.32H584.27" stroke="#c9952a" stroke-width="0.4" fill="none"/>
<circle cx="583.38" cy="93.96" r="0.95" fill="#c9952a"/>
<path d="M594.8 94.15V96.79M593.9 94.15H595.7M593.9 96.79H595.7" stroke="#c9952a" stroke-width="0.4" fill="none"/>
<circle cx="594.8" cy="95.47" r="0.95" fill="#c9952a"/>
<line x1="602.3" y1="92.8" x2="607.6" y2="92.8" stroke="#c9952a" stroke-width="0.6"/>
<circle cx="604.9" cy="92.8" r="1.1" fill="#c9952a"/>
<text font-size="6.6" transform="translate(610.6 95.1) scale(1.12 1)">CD3/CD28 + IPA1000</text>
<text font-size="12" transform="translate(2 155.5) scale(1.05 1)" font-weight="bold" fill="#000">e</text>
<text font-size="6.8" text-anchor="middle" transform="translate(73.2 157.2) scale(1.12 1)">Basal respiration</text>
<line x1="36.9" y1="191.4" x2="36.9" y2="249.2" stroke="#4a4a4a" stroke-width="0.6"/>
<line x1="33.9" y1="249.2" x2="36.9" y2="249.2" stroke="#4a4a4a" stroke-width="0.6"/>
<text font-size="6" text-anchor="end" transform="translate(32.3 251.3) scale(1.12 1)">0</text>
<line x1="33.9" y1="237.65" x2="36.9" y2="237.65" stroke="#4a4a4a" stroke-width="0.6"/>
<text font-size="6" text-anchor="end" transform="translate(32.3 239.75) scale(1.12 1)">0.5</text>
<line x1="33.9" y1="226.1" x2="36.9" y2="226.1" stroke="#4a4a4a" stroke-width="0.6"/>
<text font-size="6" text-anchor="end" transform="translate(32.3 228.2) scale(1.12 1)">1.0</text>
<line x1="33.9" y1="214.55" x2="36.9" y2="214.55" stroke="#4a4a4a" stroke-width="0.6"/>
<text font-size="6" text-anchor="end" transform="translate(32.3 216.65) scale(1.12 1)">1.5</text>
<line x1="33.9" y1="203" x2="36.9" y2="203" stroke="#4a4a4a" stroke-width="0.6"/>
<text font-size="6" text-anchor="end" transform="translate(32.3 205.1) scale(1.12 1)">2.0</text>
<line x1="33.9" y1="191.45" x2="36.9" y2="191.45" stroke="#4a4a4a" stroke-width="0.6"/>
<text font-size="6" text-anchor="end" transform="translate(32.3 193.55) scale(1.12 1)">2.5</text>
<line x1="36.9" y1="249.2" x2="123.6" y2="249.2" stroke="#4a4a4a" stroke-width="0.6"/>
<rect x="39.5" y="232.34" width="5.6" height="16.86" fill="#b9d7a3" stroke="#5e9c45" stroke-width="0.5"/>
<line x1="42.3" y1="249.2" x2="42.3" y2="252.2" stroke="#4a4a4a" stroke-width="0.6"/>
<path d="M42.3 231.41V233.26M41.2 231.41H43.4M41.2 233.26H43.4" stroke="#333" stroke-width="0.5" fill="none"/>
<circle cx="40.77" cy="232.54" r="1.25" fill="#6cb04a" stroke="#00000099" stroke-width="0.35"/>
<circle cx="43.74" cy="232.43" r="1.25" fill="#6cb04a" stroke="#00000099" stroke-width="0.35"/>
<circle cx="42.39" cy="234.82" r="1.25" fill="#6cb04a" stroke="#00000099" stroke-width="0.35"/>
<circle cx="41.17" cy="234.73" r="1.25" fill="#6cb04a" stroke="#00000099" stroke-width="0.35"/>
<circle cx="42.44" cy="233.28" r="1.25" fill="#6cb04a" stroke="#00000099" stroke-width="0.35"/>
<circle cx="40.79" cy="233.75" r="1.25" fill="#6cb04a" stroke="#00000099" stroke-width="0.35"/>
<circle cx="42.39" cy="230.36" r="1.25" fill="#6cb04a" stroke="#00000099" stroke-width="0.35"/>
<circle cx="43.83" cy="234.37" r="1.25" fill="#6cb04a" stroke="#00000099" stroke-width="0.35"/>
<rect x="48.1" y="229.56" width="5.6" height="19.63" fill="#aab3e0" stroke="#5a68b8" stroke-width="0.5"/>
<line x1="50.9" y1="249.2" x2="50.9" y2="252.2" stroke="#4a4a4a" stroke-width="0.6"/>
<path d="M50.9 228.64V230.49M49.8 228.64H52M49.8 230.49H52" stroke="#333" stroke-width="0.5" fill="none"/>
<circle cx="50.35" cy="225.64" r="1.25" fill="#5b6cc4" stroke="#00000099" stroke-width="0.35"/>
<circle cx="50.01" cy="227.44" r="1.25" fill="#5b6cc4" stroke="#00000099" stroke-width="0.35"/>
<circle cx="51.9" cy="232.15" r="1.25" fill="#5b6cc4" stroke="#00000099" stroke-width="0.35"/>
<circle cx="52.45" cy="231.01" r="1.25" fill="#5b6cc4" stroke="#00000099" stroke-width="0.35"/>
<circle cx="52.03" cy="233.16" r="1.25" fill="#5b6cc4" stroke="#00000099" stroke-width="0.35"/>
<circle cx="51.88" cy="226.63" r="1.25" fill="#5b6cc4" stroke="#00000099" stroke-width="0.35"/>
<circle cx="51.92" cy="229.21" r="1.25" fill="#5b6cc4" stroke="#00000099" stroke-width="0.35"/>
<circle cx="51.67" cy="226.55" r="1.25" fill="#5b6cc4" stroke="#00000099" stroke-width="0.35"/>
<rect x="56.5" y="231.88" width="5.6" height="17.32" fill="#b08a70" stroke="#6f4226" stroke-width="0.5"/>
<line x1="59.3" y1="249.2" x2="59.3" y2="252.2" stroke="#4a4a4a" stroke-width="0.6"/>
<path d="M59.3 230.95V232.8M58.2 230.95H60.4M58.2 232.8H60.4" stroke="#333" stroke-width="0.5" fill="none"/>
<circle cx="60.76" cy="234.34" r="1.25" fill="#7a4527" stroke="#00000099" stroke-width="0.35"/>
<circle cx="59.13" cy="231.72" r="1.25" fill="#7a4527" stroke="#00000099" stroke-width="0.35"/>
<circle cx="60.7" cy="233.18" r="1.25" fill="#7a4527" stroke="#00000099" stroke-width="0.35"/>
<circle cx="60.86" cy="236.12" r="1.25" fill="#7a4527" stroke="#00000099" stroke-width="0.35"/>
<circle cx="60.76" cy="236.13" r="1.25" fill="#7a4527" stroke="#00000099" stroke-width="0.35"/>
<circle cx="58.87" cy="233.86" r="1.25" fill="#7a4527" stroke="#00000099" stroke-width="0.35"/>
<circle cx="58.41" cy="234.04" r="1.25" fill="#7a4527" stroke="#00000099" stroke-width="0.35"/>
<circle cx="58.43" cy="230.14" r="1.25" fill="#7a4527" stroke="#00000099" stroke-width="0.35"/>
<rect x="64.8" y="229.56" width="5.6" height="19.63" fill="#a3caea" stroke="#3d86c6" stroke-width="0.5"/>
<line x1="67.6" y1="249.2" x2="67.6" y2="252.2" stroke="#4a4a4a" stroke-width="0.6"/>
<path d="M67.6 228.64V230.49M66.5 228.64H68.7M66.5 230.49H68.7" stroke="#333" stroke-width="0.5" fill="none"/>
<circle cx="66.27" cy="233.21" r="1.25" fill="#2f8fd3" stroke="#00000099" stroke-width="0.35"/>
<circle cx="68.11" cy="233.12" r="1.25" fill="#2f8fd3" stroke="#00000099" stroke-width="0.35"/>
<circle cx="68.91" cy="228.07" r="1.25" fill="#2f8fd3" stroke="#00000099" stroke-width="0.35"/>
<circle cx="68.5" cy="224.76" r="1.25" fill="#2f8fd3" stroke="#00000099" stroke-width="0.35"/>
<circle cx="68.4" cy="225.48" r="1.25" fill="#2f8fd3" stroke="#00000099" stroke-width="0.35"/>
<circle cx="67.53" cy="229.81" r="1.25" fill="#2f8fd3" stroke="#00000099" stroke-width="0.35"/>
<circle cx="66.57" cy="227.73" r="1.25" fill="#2f8fd3" stroke="#00000099" stroke-width="0.35"/>
<circle cx="68.53" cy="225.97" r="1.25" fill="#2f8fd3" stroke="#00000099" stroke-width="0.35"/>
<rect x="73.2" y="233.03" width="5.6" height="16.17" fill="#f7d792" stroke="#d9a441" stroke-width="0.5"/>
<line x1="76" y1="249.2" x2="76" y2="252.2" stroke="#4a4a4a" stroke-width="0.6"/>
<path d="M76 232.11V233.95M74.9 232.11H77.1M74.9 233.95H77.1" stroke="#333" stroke-width="0.5" fill="none"/>
<circle cx="74.81" cy="234.54" r="1.25" fill="#eaaa3c" stroke="#00000099" stroke-width="0.35"/>
<circle cx="74.88" cy="230.32" r="1.25" fill="#eaaa3c" stroke="#00000099" stroke-width="0.35"/>
<circle cx="77.3" cy="228.78" r="1.25" fill="#eaaa3c" stroke="#00000099" stroke-width="0.35"/>
<circle cx="76.98" cy="233.97" r="1.25" fill="#eaaa3c" stroke="#00000099" stroke-width="0.35"/>
<circle cx="74.87" cy="233.92" r="1.25" fill="#eaaa3c" stroke="#00000099" stroke-width="0.35"/>
<circle cx="77.04" cy="229" r="1.25" fill="#eaaa3c" stroke="#00000099" stroke-width="0.35"/>
<circle cx="77.54" cy="231" r="1.25" fill="#eaaa3c" stroke="#00000099" stroke-width="0.35"/>
<circle cx="76.5" cy="236" r="1.25" fill="#eaaa3c" stroke="#00000099" stroke-width="0.35"/>
<rect x="81.6" y="220.32" width="5.6" height="28.88" fill="#f5957b" stroke="#d8432f" stroke-width="0.5"/>
<line x1="84.4" y1="249.2" x2="84.4" y2="252.2" stroke="#4a4a4a" stroke-width="0.6"/>
<path d="M84.4 219.4V221.25M83.3 219.4H85.5M83.3 221.25H85.5" stroke="#333" stroke-width="0.5" fill="none"/>
<circle cx="84.19" cy="221.22" r="1.25" fill="#e8323a" stroke="#00000099" stroke-width="0.35"/>
<circle cx="85.59" cy="220.03" r="1.25" fill="#e8323a" stroke="#00000099" stroke-width="0.35"/>
<circle cx="85.44" cy="222.54" r="1.25" fill="#e8323a" stroke="#00000099" stroke-width="0.35"/>
<circle cx="83.48" cy="223.24" r="1.25" fill="#e8323a" stroke="#00000099" stroke-width="0.35"/>
<circle cx="83.61" cy="217.5" r="1.25" fill="#e8323a" stroke="#00000099" stroke-width="0.35"/>
<circle cx="83.74" cy="219.43" r="1.25" fill="#e8323a" stroke="#00000099" stroke-width="0.35"/>
<circle cx="83.57" cy="220.17" r="1.25" fill="#e8323a" stroke="#00000099" stroke-width="0.35"/>
<circle cx="84.68" cy="217.72" r="1.25" fill="#e8323a" stroke="#00000099" stroke-width="0.35"/>
<rect x="90.2" y="215.7" width="5.6" height="33.5" fill="#6673c0" stroke="#3d4a9c" stroke-width="0.5"/>
<line x1="93" y1="249.2" x2="93" y2="252.2" stroke="#4a4a4a" stroke-width="0.6"/>
<path d="M93 214.78V216.63M91.9 214.78H94.1M91.9 216.63H94.1" stroke="#333" stroke-width="0.5" fill="none"/>
<circle cx="92.75" cy="217.87" r="1.25" fill="#7e8ad8" stroke="#00000099" stroke-width="0.35"/>
<circle cx="94.34" cy="216.43" r="1.25" fill="#7e8ad8" stroke="#00000099" stroke-width="0.35"/>
<circle cx="93.01" cy="219.03" r="1.25" fill="#7e8ad8" stroke="#00000099" stroke-width="0.35"/>
<circle cx="93.1" cy="212.01" r="1.25" fill="#7e8ad8" stroke="#00000099" stroke-width="0.35"/>
<circle cx="93.08" cy="217.02" r="1.25" fill="#7e8ad8" stroke="#00000099" stroke-width="0.35"/>
<circle cx="91.46" cy="216.08" r="1.25" fill="#7e8ad8" stroke="#00000099" stroke-width="0.35"/>
<circle cx="92.81" cy="214.95" r="1.25" fill="#7e8ad8" stroke="#00000099" stroke-width="0.35"/>
<circle cx="91.99" cy="212.06" r="1.25" fill="#7e8ad8" stroke="#00000099" stroke-width="0.35"/>
<rect x="98.6" y="216.86" width="5.6" height="32.34" fill="#7a4424" stroke="#4e2a12" stroke-width="0.5"/>
<line x1="101.4" y1="249.2" x2="101.4" y2="252.2" stroke="#4a4a4a" stroke-width="0.6"/>
<path d="M101.4 215.94V217.78M100.3 215.94H102.5M100.3 217.78H102.5" stroke="#333" stroke-width="0.5" fill="none"/>
<circle cx="101.58" cy="218.65" r="1.25" fill="#86502f" stroke="#00000099" stroke-width="0.35"/>
<circle cx="102.31" cy="215.78" r="1.25" fill="#86502f" stroke="#00000099" stroke-width="0.35"/>
<circle cx="100.14" cy="218.04" r="1.25" fill="#86502f" stroke="#00000099" stroke-width="0.35"/>
<circle cx="101.59" cy="216.96" r="1.25" fill="#86502f" stroke="#00000099" stroke-width="0.35"/>
<circle cx="100.6" cy="216.05" r="1.25" fill="#86502f" stroke="#00000099" stroke-width="0.35"/>
<circle cx="100.69" cy="216.66" r="1.25" fill="#86502f" stroke="#00000099" stroke-width="0.35"/>
<circle cx="102.27" cy="217.49" r="1.25" fill="#86502f" stroke="#00000099" stroke-width="0.35"/>
<circle cx="101.42" cy="216.79" r="1.25" fill="#86502f" stroke="#00000099" stroke-width="0.35"/>
<rect x="106.9" y="212.93" width="5.6" height="36.27" fill="#1f92d6" stroke="#146aa3" stroke-width="0.5"/>
<line x1="109.7" y1="249.2" x2="109.7" y2="252.2" stroke="#4a4a4a" stroke-width="0.6"/>
<path d="M109.7 212.01V213.86M108.6 212.01H110.8M108.6 213.86H110.8" stroke="#333" stroke-width="0.5" fill="none"/>
<circle cx="109.55" cy="212.19" r="1.25" fill="#2b9fe3" stroke="#00000099" stroke-width="0.35"/>
<circle cx="109.81" cy="209.81" r="1.25" fill="#2b9fe3" stroke="#00000099" stroke-width="0.35"/>
<circle cx="109.63" cy="207.98" r="1.25" fill="#2b9fe3" stroke="#00000099" stroke-width="0.35"/>
<circle cx="111.11" cy="213.61" r="1.25" fill="#2b9fe3" stroke="#00000099" stroke-width="0.35"/>
<circle cx="110.34" cy="211.58" r="1.25" fill="#2b9fe3" stroke="#00000099" stroke-width="0.35"/>
<circle cx="110.9" cy="212.87" r="1.25" fill="#2b9fe3" stroke="#00000099" stroke-width="0.35"/>
<circle cx="111.11" cy="212.79" r="1.25" fill="#2b9fe3" stroke="#00000099" stroke-width="0.35"/>
<circle cx="108.93" cy="210.62" r="1.25" fill="#2b9fe3" stroke="#00000099" stroke-width="0.35"/>
<rect x="115.3" y="212.93" width="5.6" height="36.27" fill="#eab73c" stroke="#c08f1e" stroke-width="0.5"/>
<line x1="118.1" y1="249.2" x2="118.1" y2="252.2" stroke="#4a4a4a" stroke-width="0.6"/>
<path d="M118.1 212.01V213.86M117 212.01H119.2M117 213.86H119.2" stroke="#333" stroke-width="0.5" fill="none"/>
<circle cx="116.73" cy="212.65" r="1.25" fill="#f3c64c" stroke="#00000099" stroke-width="0.35"/>
<circle cx="118.64" cy="210.8" r="1.25" fill="#f3c64c" stroke="#00000099" stroke-width="0.35"/>
<circle cx="119.01" cy="211.3" r="1.25" fill="#f3c64c" stroke="#00000099" stroke-width="0.35"/>
<circle cx="119.37" cy="214.68" r="1.25" fill="#f3c64c" stroke="#00000099" stroke-width="0.35"/>
<circle cx="116.99" cy="214.75" r="1.25" fill="#f3c64c" stroke="#00000099" stroke-width="0.35"/>
<circle cx="118.79" cy="213.21" r="1.25" fill="#f3c64c" stroke="#00000099" stroke-width="0.35"/>
<circle cx="118.61" cy="214.99" r="1.25" fill="#f3c64c" stroke="#00000099" stroke-width="0.35"/>
<circle cx="116.96" cy="214.18" r="1.25" fill="#f3c64c" stroke="#00000099" stroke-width="0.35"/>
<circle cx="110.08" cy="204.85" r="1.25" fill="#2b9fe3" stroke="#00000099" stroke-width="0.35"/>
<circle cx="110.17" cy="208.77" r="1.25" fill="#2b9fe3" stroke="#00000099" stroke-width="0.35"/>
<circle cx="67.32" cy="224.94" r="1.25" fill="#2f8fd3" stroke="#00000099" stroke-width="0.35"/>
<path d="M84.4 170V166.5H118.1V170" stroke="#555" stroke-width="0.5" fill="none"/>
<text font-size="5.4" text-anchor="middle" transform="translate(100.1 165.2) scale(1.12 1)">&lt;0.0001</text>
<path d="M84.4 181.4V178.3H109.7V181.4" stroke="#555" stroke-width="0.5" fill="none"/>
<text font-size="5.4" text-anchor="middle" transform="translate(97 177.2) scale(1.12 1)">&lt;0.0001</text>
<path d="M84.4 194.7V191.6H101.4V205.9" stroke="#555" stroke-width="0.5" fill="none"/>
<text font-size="5.4" text-anchor="middle" transform="translate(92 189.5) scale(1.12 1)">0.0492</text>
<path d="M42.3 228.5V206.3H84.4V215.2" stroke="#555" stroke-width="0.5" fill="none"/>
<text font-size="5.4" text-anchor="middle" transform="translate(61.3 204.7) scale(1.12 1)">&lt;0.0001</text>
<path d="M85.8 209.4V206.3H93V209.4" stroke="#555" stroke-width="0.5" fill="none"/>
<text font-size="5.4" text-anchor="middle" transform="translate(89.3 204.7) scale(1.12 1)">0.0010</text>
<path d="M42.3 224.7V221H50.9V224.7" stroke="#555" stroke-width="0.5" fill="none"/>
<text font-size="5.4" text-anchor="middle" transform="translate(49 218.7) scale(1.12 1)">0.0367</text>
<text font-size="6.6" text-anchor="end" transform="translate(44 259) rotate(-45) scale(1.12 1)">Con</text>
<path d="M43.9 260.5L72.6 260.5L72.6 254.3Z" stroke="none" stroke-width="0.6" fill="#111"/>
<text font-size="6.6" text-anchor="middle" transform="translate(60.3 269.9) scale(1.12 1)">IPA</text>
<text font-size="6.6" text-anchor="end" transform="translate(86 259.5) rotate(-45) scale(1.12 1)">CD3/CD28</text>
<path d="M89.9 260.5L118.5 260.5L118.5 254.3Z" stroke="none" stroke-width="0.6" fill="#111"/>
<text font-size="6.6" text-anchor="middle" transform="translate(109.3 269.9) scale(1.12 1)">CD3/CD28 + IPA</text>
<text font-size="6.6" text-anchor="middle" transform="translate(8.6 219.6) rotate(-90) scale(1.12 1)">OCR (pmol min<tspan dy="-2.4" font-size="4.4">−1</tspan></text>
<text font-size="6.6" text-anchor="middle" transform="translate(17.2 219.6) rotate(-90) scale(1.12 1)">per 1,000 cells)</text>
<text font-size="6.8" text-anchor="middle" transform="translate(221.9 157.2) scale(1.12 1)">Maximal respiration</text>
<line x1="178.2" y1="191.4" x2="178.2" y2="249.2" stroke="#4a4a4a" stroke-width="0.6"/>
<line x1="175.4" y1="249.2" x2="178.2" y2="249.2" stroke="#4a4a4a" stroke-width="0.6"/>
<text font-size="6" text-anchor="end" transform="translate(174 251.3) scale(1.12 1)">0</text>
<line x1="175.4" y1="239.56" x2="178.2" y2="239.56" stroke="#4a4a4a" stroke-width="0.6"/>
<text font-size="6" text-anchor="end" transform="translate(174 241.66) scale(1.12 1)">0.5</text>
<line x1="175.4" y1="229.93" x2="178.2" y2="229.93" stroke="#4a4a4a" stroke-width="0.6"/>
<text font-size="6" text-anchor="end" transform="translate(174 232.03) scale(1.12 1)">1.0</text>
<line x1="175.4" y1="220.29" x2="178.2" y2="220.29" stroke="#4a4a4a" stroke-width="0.6"/>
<text font-size="6" text-anchor="end" transform="translate(174 222.39) scale(1.12 1)">1.5</text>
<line x1="175.4" y1="210.66" x2="178.2" y2="210.66" stroke="#4a4a4a" stroke-width="0.6"/>
<text font-size="6" text-anchor="end" transform="translate(174 212.76) scale(1.12 1)">2.0</text>
<line x1="175.4" y1="201.02" x2="178.2" y2="201.02" stroke="#4a4a4a" stroke-width="0.6"/>
<text font-size="6" text-anchor="end" transform="translate(174 203.12) scale(1.12 1)">2.5</text>
<line x1="175.4" y1="191.39" x2="178.2" y2="191.39" stroke="#4a4a4a" stroke-width="0.6"/>
<text font-size="6" text-anchor="end" transform="translate(174 193.49) scale(1.12 1)">3.0</text>
<line x1="178.2" y1="249.2" x2="265.3" y2="249.2" stroke="#4a4a4a" stroke-width="0.6"/>
<rect x="180.85" y="245.35" width="5.5" height="3.85" fill="#b9d7a3" stroke="#5e9c45" stroke-width="0.5"/>
<line x1="183.6" y1="249.2" x2="183.6" y2="252.2" stroke="#4a4a4a" stroke-width="0.6"/>
<path d="M183.6 244.19V246.5M182.5 244.19H184.7M182.5 246.5H184.7" stroke="#333" stroke-width="0.5" fill="none"/>
<circle cx="183.65" cy="244.47" r="1.25" fill="#6cb04a" stroke="#00000099" stroke-width="0.35"/>
<circle cx="183.09" cy="245.54" r="1.25" fill="#6cb04a" stroke="#00000099" stroke-width="0.35"/>
<circle cx="182.63" cy="245.37" r="1.25" fill="#6cb04a" stroke="#00000099" stroke-width="0.35"/>
<circle cx="183.02" cy="244.4" r="1.25" fill="#6cb04a" stroke="#00000099" stroke-width="0.35"/>
<circle cx="184.31" cy="244.71" r="1.25" fill="#6cb04a" stroke="#00000099" stroke-width="0.35"/>
<circle cx="182.06" cy="246" r="1.25" fill="#6cb04a" stroke="#00000099" stroke-width="0.35"/>
<circle cx="183.77" cy="245.48" r="1.25" fill="#6cb04a" stroke="#00000099" stroke-width="0.35"/>
<rect x="189.35" y="244.38" width="5.5" height="4.82" fill="#aab3e0" stroke="#5a68b8" stroke-width="0.5"/>
<line x1="192.1" y1="249.2" x2="192.1" y2="252.2" stroke="#4a4a4a" stroke-width="0.6"/>
<path d="M192.1 243.23V245.54M191 243.23H193.2M191 245.54H193.2" stroke="#333" stroke-width="0.5" fill="none"/>
<circle cx="193.02" cy="244.5" r="1.25" fill="#5b6cc4" stroke="#00000099" stroke-width="0.35"/>
<circle cx="193.61" cy="245.31" r="1.25" fill="#5b6cc4" stroke="#00000099" stroke-width="0.35"/>
<circle cx="190.84" cy="244.71" r="1.25" fill="#5b6cc4" stroke="#00000099" stroke-width="0.35"/>
<circle cx="191.35" cy="244.14" r="1.25" fill="#5b6cc4" stroke="#00000099" stroke-width="0.35"/>
<circle cx="190.63" cy="244.36" r="1.25" fill="#5b6cc4" stroke="#00000099" stroke-width="0.35"/>
<circle cx="192.99" cy="245.22" r="1.25" fill="#5b6cc4" stroke="#00000099" stroke-width="0.35"/>
<circle cx="191.37" cy="243.45" r="1.25" fill="#5b6cc4" stroke="#00000099" stroke-width="0.35"/>
<rect x="197.95" y="245.35" width="5.5" height="3.85" fill="#b08a70" stroke="#6f4226" stroke-width="0.5"/>
<line x1="200.7" y1="249.2" x2="200.7" y2="252.2" stroke="#4a4a4a" stroke-width="0.6"/>
<path d="M200.7 244.19V246.5M199.6 244.19H201.8M199.6 246.5H201.8" stroke="#333" stroke-width="0.5" fill="none"/>
<circle cx="200.93" cy="246.49" r="1.25" fill="#7a4527" stroke="#00000099" stroke-width="0.35"/>
<circle cx="201.34" cy="245.59" r="1.25" fill="#7a4527" stroke="#00000099" stroke-width="0.35"/>
<circle cx="199.39" cy="244.08" r="1.25" fill="#7a4527" stroke="#00000099" stroke-width="0.35"/>
<circle cx="199.28" cy="244.36" r="1.25" fill="#7a4527" stroke="#00000099" stroke-width="0.35"/>
<circle cx="201.3" cy="246.09" r="1.25" fill="#7a4527" stroke="#00000099" stroke-width="0.35"/>
<circle cx="200.46" cy="246.43" r="1.25" fill="#7a4527" stroke="#00000099" stroke-width="0.35"/>
<circle cx="199.33" cy="244.05" r="1.25" fill="#7a4527" stroke="#00000099" stroke-width="0.35"/>
<rect x="206.25" y="244" width="5.5" height="5.2" fill="#a3caea" stroke="#3d86c6" stroke-width="0.5"/>
<line x1="209" y1="249.2" x2="209" y2="252.2" stroke="#4a4a4a" stroke-width="0.6"/>
<path d="M209 242.84V245.15M207.9 242.84H210.1M207.9 245.15H210.1" stroke="#333" stroke-width="0.5" fill="none"/>
<circle cx="208.85" cy="242.31" r="1.25" fill="#2f8fd3" stroke="#00000099" stroke-width="0.35"/>
<circle cx="208.49" cy="243.48" r="1.25" fill="#2f8fd3" stroke="#00000099" stroke-width="0.35"/>
<circle cx="209.17" cy="242.83" r="1.25" fill="#2f8fd3" stroke="#00000099" stroke-width="0.35"/>
<circle cx="210.37" cy="245.6" r="1.25" fill="#2f8fd3" stroke="#00000099" stroke-width="0.35"/>
<circle cx="208.26" cy="242.62" r="1.25" fill="#2f8fd3" stroke="#00000099" stroke-width="0.35"/>
<circle cx="207.81" cy="245.67" r="1.25" fill="#2f8fd3" stroke="#00000099" stroke-width="0.35"/>
<circle cx="209.09" cy="242.6" r="1.25" fill="#2f8fd3" stroke="#00000099" stroke-width="0.35"/>
<rect x="214.75" y="244.38" width="5.5" height="4.82" fill="#f7d792" stroke="#d9a441" stroke-width="0.5"/>
<line x1="217.5" y1="249.2" x2="217.5" y2="252.2" stroke="#4a4a4a" stroke-width="0.6"/>
<path d="M217.5 243.23V245.54M216.4 243.23H218.6M216.4 245.54H218.6" stroke="#333" stroke-width="0.5" fill="none"/>
<circle cx="218.33" cy="245.19" r="1.25" fill="#eaaa3c" stroke="#00000099" stroke-width="0.35"/>
<circle cx="216.83" cy="245.59" r="1.25" fill="#eaaa3c" stroke="#00000099" stroke-width="0.35"/>
<circle cx="217.5" cy="245.43" r="1.25" fill="#eaaa3c" stroke="#00000099" stroke-width="0.35"/>
<circle cx="216.47" cy="245.77" r="1.25" fill="#eaaa3c" stroke="#00000099" stroke-width="0.35"/>
<circle cx="217.01" cy="245.3" r="1.25" fill="#eaaa3c" stroke="#00000099" stroke-width="0.35"/>
<circle cx="215.96" cy="244.96" r="1.25" fill="#eaaa3c" stroke="#00000099" stroke-width="0.35"/>
<circle cx="216.7" cy="244.98" r="1.25" fill="#eaaa3c" stroke="#00000099" stroke-width="0.35"/>
<rect x="223.15" y="218.95" width="5.5" height="30.25" fill="#f5957b" stroke="#d8432f" stroke-width="0.5"/>
<line x1="225.9" y1="249.2" x2="225.9" y2="252.2" stroke="#4a4a4a" stroke-width="0.6"/>
<path d="M225.9 217.79V220.1M224.8 217.79H227M224.8 220.1H227" stroke="#333" stroke-width="0.5" fill="none"/>
<circle cx="226.92" cy="224.55" r="1.25" fill="#e8323a" stroke="#00000099" stroke-width="0.35"/>
<circle cx="225.68" cy="216.25" r="1.25" fill="#e8323a" stroke="#00000099" stroke-width="0.35"/>
<circle cx="225.88" cy="218.36" r="1.25" fill="#e8323a" stroke="#00000099" stroke-width="0.35"/>
<circle cx="226.97" cy="222.54" r="1.25" fill="#e8323a" stroke="#00000099" stroke-width="0.35"/>
<circle cx="225.56" cy="219.24" r="1.25" fill="#e8323a" stroke="#00000099" stroke-width="0.35"/>
<circle cx="225.92" cy="213.92" r="1.25" fill="#e8323a" stroke="#00000099" stroke-width="0.35"/>
<circle cx="226.5" cy="223.5" r="1.25" fill="#e8323a" stroke="#00000099" stroke-width="0.35"/>
<rect x="231.65" y="214.9" width="5.5" height="34.3" fill="#6673c0" stroke="#3d4a9c" stroke-width="0.5"/>
<line x1="234.4" y1="249.2" x2="234.4" y2="252.2" stroke="#4a4a4a" stroke-width="0.6"/>
<path d="M234.4 213.74V216.06M233.3 213.74H235.5M233.3 216.06H235.5" stroke="#333" stroke-width="0.5" fill="none"/>
<circle cx="232.97" cy="208.39" r="1.25" fill="#7e8ad8" stroke="#00000099" stroke-width="0.35"/>
<circle cx="233.22" cy="217.02" r="1.25" fill="#7e8ad8" stroke="#00000099" stroke-width="0.35"/>
<circle cx="233.03" cy="210.42" r="1.25" fill="#7e8ad8" stroke="#00000099" stroke-width="0.35"/>
<circle cx="235.17" cy="212.11" r="1.25" fill="#7e8ad8" stroke="#00000099" stroke-width="0.35"/>
<circle cx="233.62" cy="213.07" r="1.25" fill="#7e8ad8" stroke="#00000099" stroke-width="0.35"/>
<circle cx="233.32" cy="216.18" r="1.25" fill="#7e8ad8" stroke="#00000099" stroke-width="0.35"/>
<circle cx="233.07" cy="216.96" r="1.25" fill="#7e8ad8" stroke="#00000099" stroke-width="0.35"/>
<rect x="239.95" y="214.9" width="5.5" height="34.3" fill="#7a4424" stroke="#4e2a12" stroke-width="0.5"/>
<line x1="242.7" y1="249.2" x2="242.7" y2="252.2" stroke="#4a4a4a" stroke-width="0.6"/>
<path d="M242.7 213.74V216.06M241.6 213.74H243.8M241.6 216.06H243.8" stroke="#333" stroke-width="0.5" fill="none"/>
<circle cx="241.6" cy="212.93" r="1.25" fill="#86502f" stroke="#00000099" stroke-width="0.35"/>
<circle cx="242.53" cy="212.76" r="1.25" fill="#86502f" stroke="#00000099" stroke-width="0.35"/>
<circle cx="241.94" cy="213.91" r="1.25" fill="#86502f" stroke="#00000099" stroke-width="0.35"/>
<circle cx="244.18" cy="216.16" r="1.25" fill="#86502f" stroke="#00000099" stroke-width="0.35"/>
<circle cx="244.21" cy="216.39" r="1.25" fill="#86502f" stroke="#00000099" stroke-width="0.35"/>
<circle cx="242.85" cy="216.1" r="1.25" fill="#86502f" stroke="#00000099" stroke-width="0.35"/>
<circle cx="241.88" cy="215.13" r="1.25" fill="#86502f" stroke="#00000099" stroke-width="0.35"/>
<rect x="248.55" y="212.97" width="5.5" height="36.23" fill="#1f92d6" stroke="#146aa3" stroke-width="0.5"/>
<line x1="251.3" y1="249.2" x2="251.3" y2="252.2" stroke="#4a4a4a" stroke-width="0.6"/>
<path d="M251.3 211.82V214.13M250.2 211.82H252.4M250.2 214.13H252.4" stroke="#333" stroke-width="0.5" fill="none"/>
<circle cx="250.34" cy="204.9" r="1.25" fill="#2b9fe3" stroke="#00000099" stroke-width="0.35"/>
<circle cx="251.32" cy="216.28" r="1.25" fill="#2b9fe3" stroke="#00000099" stroke-width="0.35"/>
<circle cx="249.72" cy="215.46" r="1.25" fill="#2b9fe3" stroke="#00000099" stroke-width="0.35"/>
<circle cx="250.55" cy="221.63" r="1.25" fill="#2b9fe3" stroke="#00000099" stroke-width="0.35"/>
<circle cx="249.99" cy="215.03" r="1.25" fill="#2b9fe3" stroke="#00000099" stroke-width="0.35"/>
<circle cx="250.98" cy="213.41" r="1.25" fill="#2b9fe3" stroke="#00000099" stroke-width="0.35"/>
<circle cx="249.83" cy="212.92" r="1.25" fill="#2b9fe3" stroke="#00000099" stroke-width="0.35"/>
<rect x="257.05" y="211.24" width="5.5" height="37.96" fill="#eab73c" stroke="#c08f1e" stroke-width="0.5"/>
<line x1="259.8" y1="249.2" x2="259.8" y2="252.2" stroke="#4a4a4a" stroke-width="0.6"/>
<path d="M259.8 210.08V212.39M258.7 210.08H260.9M258.7 212.39H260.9" stroke="#333" stroke-width="0.5" fill="none"/>
<circle cx="260.49" cy="214" r="1.25" fill="#f3c64c" stroke="#00000099" stroke-width="0.35"/>
<circle cx="261.01" cy="212.37" r="1.25" fill="#f3c64c" stroke="#00000099" stroke-width="0.35"/>
<circle cx="259.45" cy="212.78" r="1.25" fill="#f3c64c" stroke="#00000099" stroke-width="0.35"/>
<circle cx="259.24" cy="210.74" r="1.25" fill="#f3c64c" stroke="#00000099" stroke-width="0.35"/>
<circle cx="261.35" cy="211.07" r="1.25" fill="#f3c64c" stroke="#00000099" stroke-width="0.35"/>
<circle cx="258.68" cy="209.79" r="1.25" fill="#f3c64c" stroke="#00000099" stroke-width="0.35"/>
<circle cx="260.52" cy="210.33" r="1.25" fill="#f3c64c" stroke="#00000099" stroke-width="0.35"/>
<circle cx="251.44" cy="199.48" r="1.25" fill="#2b9fe3" stroke="#00000099" stroke-width="0.35"/>
<circle cx="250.84" cy="225.11" r="1.25" fill="#2b9fe3" stroke="#00000099" stroke-width="0.35"/>
<circle cx="243.04" cy="206.42" r="1.25" fill="#86502f" stroke="#00000099" stroke-width="0.35"/>
<path d="M225.9 181V177.4H259.8V206.3" stroke="#555" stroke-width="0.5" fill="none"/>
<text font-size="5.4" text-anchor="middle" transform="translate(242.3 175) scale(1.12 1)">0.0009</text>
<path d="M225.9 197.5V192.7H251.3V197.5" stroke="#555" stroke-width="0.5" fill="none"/>
<text font-size="5.4" text-anchor="middle" transform="translate(237.9 190.6) scale(1.12 1)">0.0061</text>
<path d="M183.6 241.3V208H225.9V212.9" stroke="#555" stroke-width="0.5" fill="none"/>
<text font-size="5.4" text-anchor="middle" transform="translate(205 205.4) scale(1.12 1)">&lt;0.0001</text>
<text font-size="6.6" text-anchor="end" transform="translate(185.5 259) rotate(-45) scale(1.12 1)">Con</text>
<path d="M186.4 260.5L214.5 260.5L214.5 253.8Z" stroke="none" stroke-width="0.6" fill="#111"/>
<text font-size="6.6" text-anchor="middle" transform="translate(201.9 268.9) scale(1.12 1)">IPA</text>
<text font-size="6.6" text-anchor="end" transform="translate(227.6 259.8) rotate(-45) scale(1.12 1)">CD3/CD28</text>
<path d="M231.3 260.5L260.2 260.5L260.2 254.3Z" stroke="none" stroke-width="0.6" fill="#111"/>
<text font-size="6.6" text-anchor="middle" transform="translate(257.2 268.9) scale(1.12 1)">CD3/CD28 + IPA</text>
<text font-size="6.6" text-anchor="middle" transform="translate(148.3 220.5) rotate(-90) scale(1.12 1)">OCR (pmol min<tspan dy="-2.4" font-size="4.4">−1</tspan></text>
<text font-size="6.6" text-anchor="middle" transform="translate(157.2 220.5) rotate(-90) scale(1.12 1)">per 1,000 cells)</text>
<text font-size="12" transform="translate(282 155.5) scale(1.05 1)" font-weight="bold" fill="#000">f</text>
<text font-size="6.8" text-anchor="middle" transform="translate(460.8 159) scale(1.12 1)">Maximal respiration</text>
<line x1="315.9" y1="175.8" x2="315.9" y2="265.4" stroke="#4a4a4a" stroke-width="0.6"/>
<line x1="312.9" y1="265.4" x2="315.9" y2="265.4" stroke="#4a4a4a" stroke-width="0.6"/>
<text font-size="6" text-anchor="end" transform="translate(311.5 267.5) scale(1.12 1)">0</text>
<line x1="312.9" y1="243" x2="315.9" y2="243" stroke="#4a4a4a" stroke-width="0.6"/>
<text font-size="6" text-anchor="end" transform="translate(311.5 245.1) scale(1.12 1)">1</text>
<line x1="312.9" y1="220.6" x2="315.9" y2="220.6" stroke="#4a4a4a" stroke-width="0.6"/>
<text font-size="6" text-anchor="end" transform="translate(311.5 222.7) scale(1.12 1)">2</text>
<line x1="312.9" y1="198.2" x2="315.9" y2="198.2" stroke="#4a4a4a" stroke-width="0.6"/>
<text font-size="6" text-anchor="end" transform="translate(311.5 200.3) scale(1.12 1)">3</text>
<line x1="312.9" y1="175.8" x2="315.9" y2="175.8" stroke="#4a4a4a" stroke-width="0.6"/>
<text font-size="6" text-anchor="end" transform="translate(311.5 177.9) scale(1.12 1)">4</text>
<line x1="315.9" y1="265.4" x2="596.5" y2="265.4" stroke="#4a4a4a" stroke-width="0.6"/>
<rect x="320.1" y="258.68" width="7.4" height="6.72" fill="#b9d7a3" stroke="#5e9c45" stroke-width="0.5"/>
<path d="M323.8 258.08V259.28M322.5 258.08H325.1M322.5 259.28H325.1" stroke="#333" stroke-width="0.5" fill="none"/>
<circle cx="322.21" cy="257.48" r="1.35" fill="#6cb04a" stroke="#00000099" stroke-width="0.35"/>
<circle cx="323.9" cy="258.05" r="1.35" fill="#6cb04a" stroke="#00000099" stroke-width="0.35"/>
<circle cx="323.82" cy="257.82" r="1.35" fill="#6cb04a" stroke="#00000099" stroke-width="0.35"/>
<circle cx="325.27" cy="257.65" r="1.35" fill="#6cb04a" stroke="#00000099" stroke-width="0.35"/>
<rect x="330.6" y="259.13" width="7.4" height="6.27" fill="#a3caea" stroke="#3d86c6" stroke-width="0.5"/>
<path d="M334.3 258.53V259.73M333 258.53H335.6M333 259.73H335.6" stroke="#333" stroke-width="0.5" fill="none"/>
<circle cx="335.1" cy="257.86" r="1.35" fill="#2f8fd3" stroke="#00000099" stroke-width="0.35"/>
<circle cx="335.15" cy="257.8" r="1.35" fill="#2f8fd3" stroke="#00000099" stroke-width="0.35"/>
<circle cx="333.11" cy="258.45" r="1.35" fill="#2f8fd3" stroke="#00000099" stroke-width="0.35"/>
<circle cx="332.24" cy="257.62" r="1.35" fill="#2f8fd3" stroke="#00000099" stroke-width="0.35"/>
<rect x="341.1" y="258.01" width="7.4" height="7.39" fill="#f7d792" stroke="#d9a441" stroke-width="0.5"/>
<path d="M344.8 257.34V258.68M343.5 257.34H346.1M343.5 258.68H346.1" stroke="#333" stroke-width="0.5" fill="none"/>
<circle cx="345.06" cy="258.65" r="1.35" fill="#eaaa3c" stroke="#00000099" stroke-width="0.35"/>
<circle cx="345.36" cy="257.92" r="1.35" fill="#eaaa3c" stroke="#00000099" stroke-width="0.35"/>
<circle cx="345.36" cy="258.74" r="1.35" fill="#eaaa3c" stroke="#00000099" stroke-width="0.35"/>
<circle cx="345.59" cy="256.39" r="1.35" fill="#eaaa3c" stroke="#00000099" stroke-width="0.35"/>
<rect x="351.6" y="208.28" width="7.4" height="57.12" fill="#f5957b" stroke="#d8432f" stroke-width="0.5"/>
<path d="M355.3 206.6V209.96M354 206.6H356.6M354 209.96H356.6" stroke="#333" stroke-width="0.5" fill="none"/>
<circle cx="355.31" cy="207.02" r="1.35" fill="#e8323a" stroke="#00000099" stroke-width="0.35"/>
<circle cx="355.45" cy="210.94" r="1.35" fill="#e8323a" stroke="#00000099" stroke-width="0.35"/>
<circle cx="356" cy="204.54" r="1.35" fill="#e8323a" stroke="#00000099" stroke-width="0.35"/>
<circle cx="353.39" cy="204.93" r="1.35" fill="#e8323a" stroke="#00000099" stroke-width="0.35"/>
<rect x="362.1" y="198.2" width="7.4" height="67.2" fill="#b484c8" stroke="#7d3c98" stroke-width="0.5"/>
<path d="M365.8 197.53V198.87M364.5 197.53H367.1M364.5 198.87H367.1" stroke="#333" stroke-width="0.5" fill="none"/>
<circle cx="366.81" cy="196.9" r="1.35" fill="#85309a" stroke="#00000099" stroke-width="0.35"/>
<circle cx="364.5" cy="198.46" r="1.35" fill="#85309a" stroke="#00000099" stroke-width="0.35"/>
<circle cx="366.86" cy="199.04" r="1.35" fill="#85309a" stroke="#00000099" stroke-width="0.35"/>
<circle cx="367.89" cy="198.42" r="1.35" fill="#85309a" stroke="#00000099" stroke-width="0.35"/>
<rect x="372.7" y="190.36" width="7.4" height="75.04" fill="#7f7b9c" stroke="#3b3860" stroke-width="0.5"/>
<path d="M376.4 189.02V191.7M375.1 189.02H377.7M375.1 191.7H377.7" stroke="#333" stroke-width="0.5" fill="none"/>
<circle cx="377.57" cy="189.32" r="1.35" fill="#1b2452" stroke="#00000099" stroke-width="0.35"/>
<circle cx="376.91" cy="190.04" r="1.35" fill="#1b2452" stroke="#00000099" stroke-width="0.35"/>
<circle cx="377.03" cy="189.42" r="1.35" fill="#1b2452" stroke="#00000099" stroke-width="0.35"/>
<circle cx="374.54" cy="188.1" r="1.35" fill="#1b2452" stroke="#00000099" stroke-width="0.35"/>
<line x1="350.4" y1="265.4" x2="350.4" y2="268.4" stroke="#4a4a4a" stroke-width="0.6"/>
<text font-size="6.6" text-anchor="middle" transform="translate(350.4 277.8) scale(1.12 1)">Con</text>
<rect x="391" y="260.92" width="7.4" height="4.48" fill="#b9d7a3" stroke="#5e9c45" stroke-width="0.5"/>
<path d="M394.7 260.32V261.52M393.4 260.32H396M393.4 261.52H396" stroke="#333" stroke-width="0.5" fill="none"/>
<circle cx="395" cy="261.22" r="1.35" fill="#6cb04a" stroke="#00000099" stroke-width="0.35"/>
<circle cx="392.55" cy="261.05" r="1.35" fill="#6cb04a" stroke="#00000099" stroke-width="0.35"/>
<circle cx="392.77" cy="260.26" r="1.35" fill="#6cb04a" stroke="#00000099" stroke-width="0.35"/>
<circle cx="393.68" cy="260.97" r="1.35" fill="#6cb04a" stroke="#00000099" stroke-width="0.35"/>
<rect x="401.6" y="259.35" width="7.4" height="6.05" fill="#a3caea" stroke="#3d86c6" stroke-width="0.5"/>
<path d="M405.3 258.75V259.95M404 258.75H406.6M404 259.95H406.6" stroke="#333" stroke-width="0.5" fill="none"/>
<circle cx="405.37" cy="258.44" r="1.35" fill="#2f8fd3" stroke="#00000099" stroke-width="0.35"/>
<circle cx="405.14" cy="258.39" r="1.35" fill="#2f8fd3" stroke="#00000099" stroke-width="0.35"/>
<circle cx="405.15" cy="258.43" r="1.35" fill="#2f8fd3" stroke="#00000099" stroke-width="0.35"/>
<circle cx="403.62" cy="259.47" r="1.35" fill="#2f8fd3" stroke="#00000099" stroke-width="0.35"/>
<rect x="412.1" y="259.8" width="7.4" height="5.6" fill="#f7d792" stroke="#d9a441" stroke-width="0.5"/>
<path d="M415.8 259.13V260.47M414.5 259.13H417.1M414.5 260.47H417.1" stroke="#333" stroke-width="0.5" fill="none"/>
<circle cx="413.68" cy="257.99" r="1.35" fill="#eaaa3c" stroke="#00000099" stroke-width="0.35"/>
<circle cx="415.62" cy="260.23" r="1.35" fill="#eaaa3c" stroke="#00000099" stroke-width="0.35"/>
<circle cx="417.21" cy="257.72" r="1.35" fill="#eaaa3c" stroke="#00000099" stroke-width="0.35"/>
<circle cx="417.86" cy="257.86" r="1.35" fill="#eaaa3c" stroke="#00000099" stroke-width="0.35"/>
<rect x="422.9" y="216.57" width="7.4" height="48.83" fill="#f5957b" stroke="#d8432f" stroke-width="0.5"/>
<path d="M426.6 212.65V220.49M425.3 212.65H427.9M425.3 220.49H427.9" stroke="#333" stroke-width="0.5" fill="none"/>
<circle cx="425.33" cy="214.38" r="1.35" fill="#e8323a" stroke="#00000099" stroke-width="0.35"/>
<circle cx="426.96" cy="217.78" r="1.35" fill="#e8323a" stroke="#00000099" stroke-width="0.35"/>
<circle cx="425.02" cy="218.89" r="1.35" fill="#e8323a" stroke="#00000099" stroke-width="0.35"/>
<circle cx="426.71" cy="205.05" r="1.35" fill="#e8323a" stroke="#00000099" stroke-width="0.35"/>
<rect x="433.4" y="209.4" width="7.4" height="56" fill="#b484c8" stroke="#7d3c98" stroke-width="0.5"/>
<path d="M437.1 206.04V212.76M435.8 206.04H438.4M435.8 212.76H438.4" stroke="#333" stroke-width="0.5" fill="none"/>
<circle cx="438.8" cy="199.41" r="1.35" fill="#85309a" stroke="#00000099" stroke-width="0.35"/>
<circle cx="437.99" cy="212.64" r="1.35" fill="#85309a" stroke="#00000099" stroke-width="0.35"/>
<circle cx="435.92" cy="201.55" r="1.35" fill="#85309a" stroke="#00000099" stroke-width="0.35"/>
<circle cx="438.85" cy="206.57" r="1.35" fill="#85309a" stroke="#00000099" stroke-width="0.35"/>
<rect x="443.9" y="214.33" width="7.4" height="51.07" fill="#7f7b9c" stroke="#3b3860" stroke-width="0.5"/>
<path d="M447.6 210.41V218.25M446.3 210.41H448.9M446.3 218.25H448.9" stroke="#333" stroke-width="0.5" fill="none"/>
<circle cx="447.38" cy="211.45" r="1.35" fill="#1b2452" stroke="#00000099" stroke-width="0.35"/>
<circle cx="446.73" cy="220.13" r="1.35" fill="#1b2452" stroke="#00000099" stroke-width="0.35"/>
<circle cx="446.02" cy="220.53" r="1.35" fill="#1b2452" stroke="#00000099" stroke-width="0.35"/>
<circle cx="446.91" cy="211.35" r="1.35" fill="#1b2452" stroke="#00000099" stroke-width="0.35"/>
<line x1="421" y1="265.4" x2="421" y2="268.4" stroke="#4a4a4a" stroke-width="0.6"/>
<text font-size="6.6" text-anchor="middle" transform="translate(421 277.8) scale(1.12 1)">Etomoxir</text>
<rect x="461.7" y="255.99" width="7.4" height="9.41" fill="#b9d7a3" stroke="#5e9c45" stroke-width="0.5"/>
<path d="M465.4 255.39V256.59M464.1 255.39H466.7M464.1 256.59H466.7" stroke="#333" stroke-width="0.5" fill="none"/>
<circle cx="466.89" cy="256.02" r="1.35" fill="#6cb04a" stroke="#00000099" stroke-width="0.35"/>
<circle cx="463.73" cy="255.17" r="1.35" fill="#6cb04a" stroke="#00000099" stroke-width="0.35"/>
<circle cx="467.28" cy="256.53" r="1.35" fill="#6cb04a" stroke="#00000099" stroke-width="0.35"/>
<circle cx="466.34" cy="255.32" r="1.35" fill="#6cb04a" stroke="#00000099" stroke-width="0.35"/>
<rect x="472.2" y="255.32" width="7.4" height="10.08" fill="#a3caea" stroke="#3d86c6" stroke-width="0.5"/>
<path d="M475.9 254.2V256.44M474.6 254.2H477.2M474.6 256.44H477.2" stroke="#333" stroke-width="0.5" fill="none"/>
<circle cx="478.09" cy="252.27" r="1.35" fill="#2f8fd3" stroke="#00000099" stroke-width="0.35"/>
<circle cx="476.29" cy="255.55" r="1.35" fill="#2f8fd3" stroke="#00000099" stroke-width="0.35"/>
<circle cx="475.29" cy="255.11" r="1.35" fill="#2f8fd3" stroke="#00000099" stroke-width="0.35"/>
<circle cx="475.58" cy="255" r="1.35" fill="#2f8fd3" stroke="#00000099" stroke-width="0.35"/>
<rect x="482.9" y="259.13" width="7.4" height="6.27" fill="#f7d792" stroke="#d9a441" stroke-width="0.5"/>
<path d="M486.6 258.53V259.73M485.3 258.53H487.9M485.3 259.73H487.9" stroke="#333" stroke-width="0.5" fill="none"/>
<circle cx="485.66" cy="259.25" r="1.35" fill="#eaaa3c" stroke="#00000099" stroke-width="0.35"/>
<circle cx="488.52" cy="259.74" r="1.35" fill="#eaaa3c" stroke="#00000099" stroke-width="0.35"/>
<circle cx="485.5" cy="259.63" r="1.35" fill="#eaaa3c" stroke="#00000099" stroke-width="0.35"/>
<circle cx="485.57" cy="258.05" r="1.35" fill="#eaaa3c" stroke="#00000099" stroke-width="0.35"/>
<rect x="493.6" y="201.78" width="7.4" height="63.62" fill="#f5957b" stroke="#d8432f" stroke-width="0.5"/>
<path d="M497.3 201.18V202.38M496 201.18H498.6M496 202.38H498.6" stroke="#333" stroke-width="0.5" fill="none"/>
<circle cx="498.99" cy="201.31" r="1.35" fill="#e8323a" stroke="#00000099" stroke-width="0.35"/>
<circle cx="498.67" cy="202.17" r="1.35" fill="#e8323a" stroke="#00000099" stroke-width="0.35"/>
<circle cx="497.88" cy="201.68" r="1.35" fill="#e8323a" stroke="#00000099" stroke-width="0.35"/>
<circle cx="499.12" cy="200.11" r="1.35" fill="#e8323a" stroke="#00000099" stroke-width="0.35"/>
<rect x="504.3" y="211.19" width="7.4" height="54.21" fill="#b484c8" stroke="#7d3c98" stroke-width="0.5"/>
<path d="M508 207.83V214.55M506.7 207.83H509.3M506.7 214.55H509.3" stroke="#333" stroke-width="0.5" fill="none"/>
<circle cx="509.02" cy="201.4" r="1.35" fill="#85309a" stroke="#00000099" stroke-width="0.35"/>
<circle cx="507.78" cy="207.71" r="1.35" fill="#85309a" stroke="#00000099" stroke-width="0.35"/>
<circle cx="509.11" cy="204.96" r="1.35" fill="#85309a" stroke="#00000099" stroke-width="0.35"/>
<circle cx="508.64" cy="215.77" r="1.35" fill="#85309a" stroke="#00000099" stroke-width="0.35"/>
<rect x="515" y="199.32" width="7.4" height="66.08" fill="#7f7b9c" stroke="#3b3860" stroke-width="0.5"/>
<path d="M518.7 194.84V203.8M517.4 194.84H520M517.4 203.8H520" stroke="#333" stroke-width="0.5" fill="none"/>
<circle cx="518.58" cy="200.33" r="1.35" fill="#1b2452" stroke="#00000099" stroke-width="0.35"/>
<circle cx="518.01" cy="205.43" r="1.35" fill="#1b2452" stroke="#00000099" stroke-width="0.35"/>
<circle cx="517.81" cy="186.56" r="1.35" fill="#1b2452" stroke="#00000099" stroke-width="0.35"/>
<circle cx="519.75" cy="203.75" r="1.35" fill="#1b2452" stroke="#00000099" stroke-width="0.35"/>
<line x1="492" y1="265.4" x2="492" y2="268.4" stroke="#4a4a4a" stroke-width="0.6"/>
<text font-size="6.6" text-anchor="middle" transform="translate(492 277.8) scale(1.12 1)">BPTES</text>
<rect x="532.5" y="257.11" width="7.4" height="8.29" fill="#b9d7a3" stroke="#5e9c45" stroke-width="0.5"/>
<path d="M536.2 256.44V257.78M534.9 256.44H537.5M534.9 257.78H537.5" stroke="#333" stroke-width="0.5" fill="none"/>
<circle cx="536.45" cy="255.04" r="1.35" fill="#6cb04a" stroke="#00000099" stroke-width="0.35"/>
<circle cx="535.74" cy="257.35" r="1.35" fill="#6cb04a" stroke="#00000099" stroke-width="0.35"/>
<circle cx="534.74" cy="256.07" r="1.35" fill="#6cb04a" stroke="#00000099" stroke-width="0.35"/>
<circle cx="534.71" cy="257.22" r="1.35" fill="#6cb04a" stroke="#00000099" stroke-width="0.35"/>
<rect x="543.2" y="255.99" width="7.4" height="9.41" fill="#a3caea" stroke="#3d86c6" stroke-width="0.5"/>
<path d="M546.9 253.98V258.01M545.6 253.98H548.2M545.6 258.01H548.2" stroke="#333" stroke-width="0.5" fill="none"/>
<circle cx="548.69" cy="257.21" r="1.35" fill="#2f8fd3" stroke="#00000099" stroke-width="0.35"/>
<circle cx="549.08" cy="250.45" r="1.35" fill="#2f8fd3" stroke="#00000099" stroke-width="0.35"/>
<circle cx="546.68" cy="254.41" r="1.35" fill="#2f8fd3" stroke="#00000099" stroke-width="0.35"/>
<circle cx="545.31" cy="257.09" r="1.35" fill="#2f8fd3" stroke="#00000099" stroke-width="0.35"/>
<rect x="554.2" y="255.32" width="7.4" height="10.08" fill="#f7d792" stroke="#d9a441" stroke-width="0.5"/>
<path d="M557.9 254.65V255.99M556.6 254.65H559.2M556.6 255.99H559.2" stroke="#333" stroke-width="0.5" fill="none"/>
<circle cx="556.75" cy="255.77" r="1.35" fill="#eaaa3c" stroke="#00000099" stroke-width="0.35"/>
<circle cx="556.84" cy="256.1" r="1.35" fill="#eaaa3c" stroke="#00000099" stroke-width="0.35"/>
<circle cx="558.21" cy="255.29" r="1.35" fill="#eaaa3c" stroke="#00000099" stroke-width="0.35"/>
<circle cx="559.6" cy="256.1" r="1.35" fill="#eaaa3c" stroke="#00000099" stroke-width="0.35"/>
<rect x="564.5" y="234.71" width="7.4" height="30.69" fill="#f5957b" stroke="#d8432f" stroke-width="0.5"/>
<path d="M568.2 233.03V236.39M566.9 233.03H569.5M566.9 236.39H569.5" stroke="#333" stroke-width="0.5" fill="none"/>
<circle cx="567.66" cy="231.35" r="1.35" fill="#e8323a" stroke="#00000099" stroke-width="0.35"/>
<circle cx="567.49" cy="234.07" r="1.35" fill="#e8323a" stroke="#00000099" stroke-width="0.35"/>
<circle cx="566.27" cy="234.06" r="1.35" fill="#e8323a" stroke="#00000099" stroke-width="0.35"/>
<circle cx="567.22" cy="233.17" r="1.35" fill="#e8323a" stroke="#00000099" stroke-width="0.35"/>
<rect x="575.2" y="223.96" width="7.4" height="41.44" fill="#b484c8" stroke="#7d3c98" stroke-width="0.5"/>
<path d="M578.9 222.62V225.3M577.6 222.62H580.2M577.6 225.3H580.2" stroke="#333" stroke-width="0.5" fill="none"/>
<circle cx="580.5" cy="219.87" r="1.35" fill="#85309a" stroke="#00000099" stroke-width="0.35"/>
<circle cx="577.65" cy="225.3" r="1.35" fill="#85309a" stroke="#00000099" stroke-width="0.35"/>
<circle cx="577.89" cy="222.86" r="1.35" fill="#85309a" stroke="#00000099" stroke-width="0.35"/>
<circle cx="577.79" cy="222.05" r="1.35" fill="#85309a" stroke="#00000099" stroke-width="0.35"/>
<rect x="585.9" y="218.36" width="7.4" height="47.04" fill="#7f7b9c" stroke="#3b3860" stroke-width="0.5"/>
<path d="M589.6 214.44V222.28M588.3 214.44H590.9M588.3 222.28H590.9" stroke="#333" stroke-width="0.5" fill="none"/>
<circle cx="591.24" cy="217.11" r="1.35" fill="#1b2452" stroke="#00000099" stroke-width="0.35"/>
<circle cx="587.5" cy="216.24" r="1.35" fill="#1b2452" stroke="#00000099" stroke-width="0.35"/>
<circle cx="587.54" cy="206.68" r="1.35" fill="#1b2452" stroke="#00000099" stroke-width="0.35"/>
<circle cx="590.52" cy="208.66" r="1.35" fill="#1b2452" stroke="#00000099" stroke-width="0.35"/>
<line x1="562.9" y1="265.4" x2="562.9" y2="268.4" stroke="#4a4a4a" stroke-width="0.6"/>
<text font-size="6.6" text-anchor="middle" transform="translate(562.9 277.8) scale(1.12 1)">UK5099</text>
<path d="M323.8 257.4V195.2H355.3V202" stroke="#555" stroke-width="0.5" fill="none"/>
<text font-size="5.4" text-anchor="middle" transform="translate(339.3 193) scale(1.12 1)">&lt;0.0001</text>
<path d="M355.5 189.7V186.8H366.2V189.7" stroke="#555" stroke-width="0.5" fill="none"/>
<text font-size="5.4" text-anchor="middle" transform="translate(360.3 184.2) scale(1.12 1)">0.0007</text>
<path d="M355.3 175V171.9H378.7V175" stroke="#555" stroke-width="0.5" fill="none"/>
<text font-size="5.4" text-anchor="middle" transform="translate(366.7 169.7) scale(1.12 1)">&lt;0.0001</text>
<path d="M394.7 257.4V177.7H426.6V199" stroke="#555" stroke-width="0.5" fill="none"/>
<text font-size="5.4" text-anchor="middle" transform="translate(410.5 175.5) scale(1.12 1)">&lt;0.0001</text>
<path d="M465.4 254V177.3H497.3V195.2" stroke="#555" stroke-width="0.5" fill="none"/>
<text font-size="5.4" text-anchor="middle" transform="translate(481 175.4) scale(1.12 1)">&lt;0.0001</text>
<path d="M536.2 251.7V177H568.2V227.2" stroke="#555" stroke-width="0.5" fill="none"/>
<text font-size="5.4" text-anchor="middle" transform="translate(550.7 174.8) scale(1.12 1)">&lt;0.0001</text>
<path d="M569.8 227.2V177H589.6V203" stroke="#555" stroke-width="0.5" fill="none"/>
<text font-size="5.4" text-anchor="middle" transform="translate(579.9 174.8) scale(1.12 1)">0.0082</text>
<text font-size="6.6" text-anchor="middle" transform="translate(291.2 222.4) rotate(-90) scale(1.12 1)">OCR (pmol min<tspan dy="-2.4" font-size="4.4">−1</tspan></text>
<text font-size="6.6" text-anchor="middle" transform="translate(300.4 222.4) rotate(-90) scale(1.12 1)">per 1,000 cells)</text>
<circle cx="605.9" cy="178" r="1.5" fill="#6cb04a"/>
<text font-size="6.6" transform="translate(612.2 180.3) scale(1.12 1)">Con</text>
<circle cx="605.9" cy="189.42" r="1.5" fill="#2f8fd3"/>
<text font-size="6.6" transform="translate(612.2 191.72) scale(1.12 1)">IPA100</text>
<circle cx="605.9" cy="200.84" r="1.5" fill="#eaaa3c"/>
<text font-size="6.6" transform="translate(612.2 203.14) scale(1.12 1)">IPA1000</text>
<circle cx="605.9" cy="212.26" r="1.5" fill="#dc2a2a"/>
<text font-size="6.6" transform="translate(612.2 214.56) scale(1.12 1)">CD3/CD28</text>
<circle cx="605.9" cy="223.68" r="1.5" fill="#85309a"/>
<text font-size="6.6" transform="translate(612.2 225.98) scale(1.12 1)">CD3/CD28 + IPA100</text>
<circle cx="605.9" cy="235.1" r="1.5" fill="#1b2452"/>
<text font-size="6.6" transform="translate(612.2 237.4) scale(1.12 1)">CD3/CD28 + IPA1000</text>
<text font-size="12" transform="translate(2.5 306.5) scale(1.05 1)" font-weight="bold" fill="#000">g</text>
<text font-size="6.8" text-anchor="middle" transform="translate(94 310) scale(1.12 1)">glycoPER kinetic</text>
<line x1="3.8" y1="319.4" x2="9" y2="319.4" stroke="#6cb04a" stroke-width="0.6"/>
<circle cx="6.4" cy="319.4" r="1.4" fill="#6cb04a"/>
<text font-size="6.6" transform="translate(11.7 321.8) scale(1.12 1)">Con</text>
<line x1="3.8" y1="333.6" x2="9" y2="333.6" stroke="#e0262b" stroke-width="0.6"/>
<circle cx="6.4" cy="333.6" r="1.5" fill="#e0262b" stroke="#7a1015" stroke-width="0.35"/>
<text font-size="6.6" transform="translate(11.7 336) scale(1.12 1)">CD3/CD28</text>
<line x1="50" y1="319.4" x2="55.2" y2="319.4" stroke="#5b6cc4" stroke-width="0.6"/>
<circle cx="52.6" cy="319.4" r="0.9" fill="#5b6cc4"/>
<text font-size="6.6" transform="translate(58.2 321.8) scale(1.12 1)">IPA1</text>
<line x1="80" y1="319.4" x2="85.2" y2="319.4" stroke="#7a4527" stroke-width="0.6"/>
<circle cx="82.6" cy="319.4" r="0.9" fill="#7a4527"/>
<text font-size="6.6" transform="translate(88.2 321.8) scale(1.12 1)">IPA10</text>
<line x1="111.3" y1="319.4" x2="116.5" y2="319.4" stroke="#2f9fe0" stroke-width="0.6"/>
<circle cx="113.9" cy="319.4" r="0.9" fill="#2f9fe0"/>
<text font-size="6.6" transform="translate(119.5 321.8) scale(1.12 1)">IPA100</text>
<line x1="145.7" y1="319.4" x2="150.9" y2="319.4" stroke="#f0a93a" stroke-width="0.6"/>
<circle cx="148.3" cy="319.4" r="0.9" fill="#f0a93a"/>
<text font-size="6.6" transform="translate(153.9 321.8) scale(1.12 1)">IPA1000</text>
<line x1="50" y1="333.6" x2="55.2" y2="333.6" stroke="#39418f" stroke-width="0.6"/>
<circle cx="52.6" cy="333.6" r="0.9" fill="#39418f"/>
<text font-size="6.6" transform="translate(58.2 332.4) scale(1.12 1)">CD3+</text>
<text font-size="6.6" transform="translate(58.2 340.6) scale(1.12 1)">IPA1</text>
<line x1="80" y1="333.6" x2="85.2" y2="333.6" stroke="#5d3119" stroke-width="0.6"/>
<circle cx="82.6" cy="333.6" r="0.9" fill="#5d3119"/>
<text font-size="6.6" transform="translate(88.2 332.4) scale(1.12 1)">CD3+</text>
<text font-size="6.6" transform="translate(88.2 340.6) scale(1.12 1)">IPA10</text>
<line x1="111.3" y1="333.6" x2="116.5" y2="333.6" stroke="#1577b8" stroke-width="0.6"/>
<circle cx="113.9" cy="333.6" r="0.9" fill="#1577b8"/>
<text font-size="6.6" transform="translate(119.5 332.4) scale(1.12 1)">CD3+</text>
<text font-size="6.6" transform="translate(119.5 340.6) scale(1.12 1)">IPA100</text>
<line x1="145.7" y1="333.6" x2="150.9" y2="333.6" stroke="#c9952a" stroke-width="0.6"/>
<circle cx="148.3" cy="333.6" r="0.9" fill="#c9952a"/>
<text font-size="6.6" transform="translate(153.9 332.4) scale(1.12 1)">CD3+</text>
<text font-size="6.6" transform="translate(153.9 340.6) scale(1.12 1)">IPA1000</text>
<text font-size="6.6" text-anchor="middle" transform="translate(66.6 350.8) scale(1.12 1)">Rot/AA</text>
<text font-size="6.6" text-anchor="middle" transform="translate(102.8 350.8) scale(1.12 1)">2-DG</text>
<line x1="35.6" y1="355.9" x2="35.6" y2="439.1" stroke="#4a4a4a" stroke-width="0.6"/>
<line x1="33.4" y1="439.1" x2="35.6" y2="439.1" stroke="#4a4a4a" stroke-width="0.6"/>
<text font-size="6" text-anchor="end" transform="translate(32.4 441.2) scale(1.12 1)">0</text>
<line x1="33.4" y1="425.23" x2="35.6" y2="425.23" stroke="#4a4a4a" stroke-width="0.6"/>
<text font-size="6" text-anchor="end" transform="translate(32.4 427.33) scale(1.12 1)">1</text>
<line x1="33.4" y1="411.36" x2="35.6" y2="411.36" stroke="#4a4a4a" stroke-width="0.6"/>
<text font-size="6" text-anchor="end" transform="translate(32.4 413.46) scale(1.12 1)">2</text>
<line x1="33.4" y1="397.49" x2="35.6" y2="397.49" stroke="#4a4a4a" stroke-width="0.6"/>
<text font-size="6" text-anchor="end" transform="translate(32.4 399.59) scale(1.12 1)">3</text>
<line x1="33.4" y1="383.62" x2="35.6" y2="383.62" stroke="#4a4a4a" stroke-width="0.6"/>
<text font-size="6" text-anchor="end" transform="translate(32.4 385.72) scale(1.12 1)">4</text>
<line x1="33.4" y1="369.75" x2="35.6" y2="369.75" stroke="#4a4a4a" stroke-width="0.6"/>
<text font-size="6" text-anchor="end" transform="translate(32.4 371.85) scale(1.12 1)">5</text>
<line x1="33.4" y1="355.88" x2="35.6" y2="355.88" stroke="#4a4a4a" stroke-width="0.6"/>
<text font-size="6" text-anchor="end" transform="translate(32.4 357.98) scale(1.12 1)">6</text>
<line x1="35.6" y1="439.1" x2="170.8" y2="439.1" stroke="#4a4a4a" stroke-width="0.6"/>
<line x1="35.6" y1="439.1" x2="35.6" y2="441.5" stroke="#4a4a4a" stroke-width="0.6"/>
<text font-size="6" text-anchor="middle" transform="translate(35.6 449.5) scale(1.12 1)">0</text>
<line x1="39.2" y1="439.1" x2="39.2" y2="440.4" stroke="#4a4a4a" stroke-width="0.5"/>
<line x1="42.79" y1="439.1" x2="42.79" y2="440.4" stroke="#4a4a4a" stroke-width="0.5"/>
<line x1="46.39" y1="439.1" x2="46.39" y2="440.4" stroke="#4a4a4a" stroke-width="0.5"/>
<line x1="49.98" y1="439.1" x2="49.98" y2="440.4" stroke="#4a4a4a" stroke-width="0.5"/>
<line x1="53.58" y1="439.1" x2="53.58" y2="441.5" stroke="#4a4a4a" stroke-width="0.6"/>
<text font-size="6" text-anchor="middle" transform="translate(53.58 449.5) scale(1.12 1)">10</text>
<line x1="57.18" y1="439.1" x2="57.18" y2="440.4" stroke="#4a4a4a" stroke-width="0.5"/>
<line x1="60.77" y1="439.1" x2="60.77" y2="440.4" stroke="#4a4a4a" stroke-width="0.5"/>
<line x1="64.37" y1="439.1" x2="64.37" y2="440.4" stroke="#4a4a4a" stroke-width="0.5"/>
<line x1="67.96" y1="439.1" x2="67.96" y2="440.4" stroke="#4a4a4a" stroke-width="0.5"/>
<line x1="71.56" y1="439.1" x2="71.56" y2="441.5" stroke="#4a4a4a" stroke-width="0.6"/>
<text font-size="6" text-anchor="middle" transform="translate(71.56 449.5) scale(1.12 1)">20</text>
<line x1="75.16" y1="439.1" x2="75.16" y2="440.4" stroke="#4a4a4a" stroke-width="0.5"/>
<line x1="78.75" y1="439.1" x2="78.75" y2="440.4" stroke="#4a4a4a" stroke-width="0.5"/>
<line x1="82.35" y1="439.1" x2="82.35" y2="440.4" stroke="#4a4a4a" stroke-width="0.5"/>
<line x1="85.94" y1="439.1" x2="85.94" y2="440.4" stroke="#4a4a4a" stroke-width="0.5"/>
<line x1="89.54" y1="439.1" x2="89.54" y2="441.5" stroke="#4a4a4a" stroke-width="0.6"/>
<text font-size="6" text-anchor="middle" transform="translate(89.54 449.5) scale(1.12 1)">30</text>
<line x1="93.14" y1="439.1" x2="93.14" y2="440.4" stroke="#4a4a4a" stroke-width="0.5"/>
<line x1="96.73" y1="439.1" x2="96.73" y2="440.4" stroke="#4a4a4a" stroke-width="0.5"/>
<line x1="100.33" y1="439.1" x2="100.33" y2="440.4" stroke="#4a4a4a" stroke-width="0.5"/>
<line x1="103.92" y1="439.1" x2="103.92" y2="440.4" stroke="#4a4a4a" stroke-width="0.5"/>
<line x1="107.52" y1="439.1" x2="107.52" y2="441.5" stroke="#4a4a4a" stroke-width="0.6"/>
<text font-size="6" text-anchor="middle" transform="translate(107.52 449.5) scale(1.12 1)">40</text>
<line x1="111.12" y1="439.1" x2="111.12" y2="440.4" stroke="#4a4a4a" stroke-width="0.5"/>
<line x1="114.71" y1="439.1" x2="114.71" y2="440.4" stroke="#4a4a4a" stroke-width="0.5"/>
<line x1="118.31" y1="439.1" x2="118.31" y2="440.4" stroke="#4a4a4a" stroke-width="0.5"/>
<line x1="121.9" y1="439.1" x2="121.9" y2="440.4" stroke="#4a4a4a" stroke-width="0.5"/>
<line x1="125.5" y1="439.1" x2="125.5" y2="441.5" stroke="#4a4a4a" stroke-width="0.6"/>
<text font-size="6" text-anchor="middle" transform="translate(125.5 449.5) scale(1.12 1)">50</text>
<line x1="129.1" y1="439.1" x2="129.1" y2="440.4" stroke="#4a4a4a" stroke-width="0.5"/>
<line x1="132.69" y1="439.1" x2="132.69" y2="440.4" stroke="#4a4a4a" stroke-width="0.5"/>
<line x1="136.29" y1="439.1" x2="136.29" y2="440.4" stroke="#4a4a4a" stroke-width="0.5"/>
<line x1="139.88" y1="439.1" x2="139.88" y2="440.4" stroke="#4a4a4a" stroke-width="0.5"/>
<line x1="143.48" y1="439.1" x2="143.48" y2="441.5" stroke="#4a4a4a" stroke-width="0.6"/>
<text font-size="6" text-anchor="middle" transform="translate(143.48 449.5) scale(1.12 1)">60</text>
<line x1="147.08" y1="439.1" x2="147.08" y2="440.4" stroke="#4a4a4a" stroke-width="0.5"/>
<line x1="150.67" y1="439.1" x2="150.67" y2="440.4" stroke="#4a4a4a" stroke-width="0.5"/>
<line x1="154.27" y1="439.1" x2="154.27" y2="440.4" stroke="#4a4a4a" stroke-width="0.5"/>
<line x1="157.86" y1="439.1" x2="157.86" y2="440.4" stroke="#4a4a4a" stroke-width="0.5"/>
<line x1="161.46" y1="439.1" x2="161.46" y2="441.5" stroke="#4a4a4a" stroke-width="0.6"/>
<text font-size="6" text-anchor="middle" transform="translate(161.46 449.5) scale(1.12 1)">70</text>
<line x1="165.06" y1="439.1" x2="165.06" y2="440.4" stroke="#4a4a4a" stroke-width="0.5"/>
<line x1="168.65" y1="439.1" x2="168.65" y2="440.4" stroke="#4a4a4a" stroke-width="0.5"/>
<line x1="66.6" y1="354.5" x2="66.6" y2="439.1" stroke="#111" stroke-width="0.8" stroke-dasharray="1.1 0.7"/>
<line x1="102.8" y1="354.5" x2="102.8" y2="439.1" stroke="#111" stroke-width="0.8" stroke-dasharray="1.1 0.7"/>
<text font-size="6.6" text-anchor="middle" transform="translate(102.8 461) scale(1.12 1)">Time (min)</text>
<text font-size="6.6" text-anchor="middle" transform="translate(11.2 396.8) rotate(-90) scale(1.12 1)">GlycoPER (pmol min<tspan dy="-2.4" font-size="4.4">−1</tspan></text>
<text font-size="6.6" text-anchor="middle" transform="translate(20.4 396.8) rotate(-90) scale(1.12 1)">per 1,000 cells)</text>
<path d="M38.84 419.68L51.01 421.35L63.18 422.73L75.35 427.31L87.53 427.45L99.7 426.62L111.87 431.89L124.04 433.14L136.22 433.55L148.39 434.25L160.56 434.52" stroke="#5b6cc4" stroke-width="0.8" fill="none"/>
<path d="M38.84 418.32V421.04M37.94 418.32H39.74M37.94 421.04H39.74" stroke="#5b6cc4" stroke-width="0.4" fill="none"/>
<circle cx="38.84" cy="419.68" r="1.1" fill="#5b6cc4" stroke="#00000077" stroke-width="0.3"/>
<path d="M51.01 420.03V422.66M50.11 420.03H51.91M50.11 422.66H51.91" stroke="#5b6cc4" stroke-width="0.4" fill="none"/>
<circle cx="51.01" cy="421.35" r="1.1" fill="#5b6cc4" stroke="#00000077" stroke-width="0.3"/>
<path d="M63.18 421.46V424.01M62.28 421.46H64.08M62.28 424.01H64.08" stroke="#5b6cc4" stroke-width="0.4" fill="none"/>
<circle cx="63.18" cy="422.73" r="1.1" fill="#5b6cc4" stroke="#00000077" stroke-width="0.3"/>
<path d="M75.35 426.17V428.45M74.45 426.17H76.25M74.45 428.45H76.25" stroke="#5b6cc4" stroke-width="0.4" fill="none"/>
<circle cx="75.35" cy="427.31" r="1.1" fill="#5b6cc4" stroke="#00000077" stroke-width="0.3"/>
<path d="M87.53 426.31V428.59M86.63 426.31H88.43M86.63 428.59H88.43" stroke="#5b6cc4" stroke-width="0.4" fill="none"/>
<circle cx="87.53" cy="427.45" r="1.1" fill="#5b6cc4" stroke="#00000077" stroke-width="0.3"/>
<path d="M99.7 425.46V427.78M98.8 425.46H100.6M98.8 427.78H100.6" stroke="#5b6cc4" stroke-width="0.4" fill="none"/>
<circle cx="99.7" cy="426.62" r="1.1" fill="#5b6cc4" stroke="#00000077" stroke-width="0.3"/>
<path d="M111.87 430.88V432.9M110.97 430.88H112.77M110.97 432.9H112.77" stroke="#5b6cc4" stroke-width="0.4" fill="none"/>
<circle cx="111.87" cy="431.89" r="1.1" fill="#5b6cc4" stroke="#00000077" stroke-width="0.3"/>
<path d="M124.04 432.16V434.11M123.14 432.16H124.94M123.14 434.11H124.94" stroke="#5b6cc4" stroke-width="0.4" fill="none"/>
<circle cx="124.04" cy="433.14" r="1.1" fill="#5b6cc4" stroke="#00000077" stroke-width="0.3"/>
<path d="M136.22 432.59V434.51M135.32 432.59H137.12M135.32 434.51H137.12" stroke="#5b6cc4" stroke-width="0.4" fill="none"/>
<circle cx="136.22" cy="433.55" r="1.1" fill="#5b6cc4" stroke="#00000077" stroke-width="0.3"/>
<path d="M148.39 433.31V435.19M147.49 433.31H149.29M147.49 435.19H149.29" stroke="#5b6cc4" stroke-width="0.4" fill="none"/>
<circle cx="148.39" cy="434.25" r="1.1" fill="#5b6cc4" stroke="#00000077" stroke-width="0.3"/>
<path d="M160.56 433.59V435.45M159.66 433.59H161.46M159.66 435.45H161.46" stroke="#5b6cc4" stroke-width="0.4" fill="none"/>
<circle cx="160.56" cy="434.52" r="1.1" fill="#5b6cc4" stroke="#00000077" stroke-width="0.3"/>
<path d="M38.84 418.99L51.01 420.79L63.18 422.18L75.35 426.89L87.53 427.17L99.7 426.2L111.87 431.47L124.04 432.86L136.22 433.27L148.39 433.83L160.56 434.25" stroke="#2f9fe0" stroke-width="0.8" fill="none"/>
<path d="M38.84 417.61V420.37M37.94 417.61H39.74M37.94 420.37H39.74" stroke="#2f9fe0" stroke-width="0.4" fill="none"/>
<circle cx="38.84" cy="418.99" r="1.1" fill="#2f9fe0" stroke="#00000077" stroke-width="0.3"/>
<path d="M51.01 419.46V422.12M50.11 419.46H51.91M50.11 422.12H51.91" stroke="#2f9fe0" stroke-width="0.4" fill="none"/>
<circle cx="51.01" cy="420.79" r="1.1" fill="#2f9fe0" stroke="#00000077" stroke-width="0.3"/>
<path d="M63.18 420.89V423.47M62.28 420.89H64.08M62.28 423.47H64.08" stroke="#2f9fe0" stroke-width="0.4" fill="none"/>
<circle cx="63.18" cy="422.18" r="1.1" fill="#2f9fe0" stroke="#00000077" stroke-width="0.3"/>
<path d="M75.35 425.74V428.05M74.45 425.74H76.25M74.45 428.05H76.25" stroke="#2f9fe0" stroke-width="0.4" fill="none"/>
<circle cx="75.35" cy="426.89" r="1.1" fill="#2f9fe0" stroke="#00000077" stroke-width="0.3"/>
<path d="M87.53 426.03V428.32M86.63 426.03H88.43M86.63 428.32H88.43" stroke="#2f9fe0" stroke-width="0.4" fill="none"/>
<circle cx="87.53" cy="427.17" r="1.1" fill="#2f9fe0" stroke="#00000077" stroke-width="0.3"/>
<path d="M99.7 425.03V427.37M98.8 425.03H100.6M98.8 427.37H100.6" stroke="#2f9fe0" stroke-width="0.4" fill="none"/>
<circle cx="99.7" cy="426.2" r="1.1" fill="#2f9fe0" stroke="#00000077" stroke-width="0.3"/>
<path d="M111.87 430.45V432.49M110.97 430.45H112.77M110.97 432.49H112.77" stroke="#2f9fe0" stroke-width="0.4" fill="none"/>
<circle cx="111.87" cy="431.47" r="1.1" fill="#2f9fe0" stroke="#00000077" stroke-width="0.3"/>
<path d="M124.04 431.88V433.84M123.14 431.88H124.94M123.14 433.84H124.94" stroke="#2f9fe0" stroke-width="0.4" fill="none"/>
<circle cx="124.04" cy="432.86" r="1.1" fill="#2f9fe0" stroke="#00000077" stroke-width="0.3"/>
<path d="M136.22 432.31V434.24M135.32 432.31H137.12M135.32 434.24H137.12" stroke="#2f9fe0" stroke-width="0.4" fill="none"/>
<circle cx="136.22" cy="433.27" r="1.1" fill="#2f9fe0" stroke="#00000077" stroke-width="0.3"/>
<path d="M148.39 432.88V434.78M147.49 432.88H149.29M147.49 434.78H149.29" stroke="#2f9fe0" stroke-width="0.4" fill="none"/>
<circle cx="148.39" cy="433.83" r="1.1" fill="#2f9fe0" stroke="#00000077" stroke-width="0.3"/>
<path d="M160.56 433.31V435.19M159.66 433.31H161.46M159.66 435.19H161.46" stroke="#2f9fe0" stroke-width="0.4" fill="none"/>
<circle cx="160.56" cy="434.25" r="1.1" fill="#2f9fe0" stroke="#00000077" stroke-width="0.3"/>
<path d="M38.84 418.02L51.01 419.68L63.18 420.65L75.35 426.62L87.53 426.89L99.7 425.92L111.87 431.33L124.04 432.58L136.22 433L148.39 433.55L160.56 434.11" stroke="#f0a93a" stroke-width="0.8" fill="none"/>
<path d="M38.84 416.61V419.43M37.94 416.61H39.74M37.94 419.43H39.74" stroke="#f0a93a" stroke-width="0.4" fill="none"/>
<circle cx="38.84" cy="418.02" r="1.1" fill="#f0a93a" stroke="#00000077" stroke-width="0.3"/>
<path d="M51.01 418.32V421.04M50.11 418.32H51.91M50.11 421.04H51.91" stroke="#f0a93a" stroke-width="0.4" fill="none"/>
<circle cx="51.01" cy="419.68" r="1.1" fill="#f0a93a" stroke="#00000077" stroke-width="0.3"/>
<path d="M63.18 419.32V421.98M62.28 419.32H64.08M62.28 421.98H64.08" stroke="#f0a93a" stroke-width="0.4" fill="none"/>
<circle cx="63.18" cy="420.65" r="1.1" fill="#f0a93a" stroke="#00000077" stroke-width="0.3"/>
<path d="M75.35 425.46V427.78M74.45 425.46H76.25M74.45 427.78H76.25" stroke="#f0a93a" stroke-width="0.4" fill="none"/>
<circle cx="75.35" cy="426.62" r="1.1" fill="#f0a93a" stroke="#00000077" stroke-width="0.3"/>
<path d="M87.53 425.74V428.05M86.63 425.74H88.43M86.63 428.05H88.43" stroke="#f0a93a" stroke-width="0.4" fill="none"/>
<circle cx="87.53" cy="426.89" r="1.1" fill="#f0a93a" stroke="#00000077" stroke-width="0.3"/>
<path d="M99.7 424.74V427.1M98.8 424.74H100.6M98.8 427.1H100.6" stroke="#f0a93a" stroke-width="0.4" fill="none"/>
<circle cx="99.7" cy="425.92" r="1.1" fill="#f0a93a" stroke="#00000077" stroke-width="0.3"/>
<path d="M111.87 430.31V432.36M110.97 430.31H112.77M110.97 432.36H112.77" stroke="#f0a93a" stroke-width="0.4" fill="none"/>
<circle cx="111.87" cy="431.33" r="1.1" fill="#f0a93a" stroke="#00000077" stroke-width="0.3"/>
<path d="M124.04 431.59V433.57M123.14 431.59H124.94M123.14 433.57H124.94" stroke="#f0a93a" stroke-width="0.4" fill="none"/>
<circle cx="124.04" cy="432.58" r="1.1" fill="#f0a93a" stroke="#00000077" stroke-width="0.3"/>
<path d="M136.22 432.02V433.97M135.32 432.02H137.12M135.32 433.97H137.12" stroke="#f0a93a" stroke-width="0.4" fill="none"/>
<circle cx="136.22" cy="433" r="1.1" fill="#f0a93a" stroke="#00000077" stroke-width="0.3"/>
<path d="M148.39 432.59V434.51M147.49 432.59H149.29M147.49 434.51H149.29" stroke="#f0a93a" stroke-width="0.4" fill="none"/>
<circle cx="148.39" cy="433.55" r="1.1" fill="#f0a93a" stroke="#00000077" stroke-width="0.3"/>
<path d="M160.56 433.16V435.05M159.66 433.16H161.46M159.66 435.05H161.46" stroke="#f0a93a" stroke-width="0.4" fill="none"/>
<circle cx="160.56" cy="434.11" r="1.1" fill="#f0a93a" stroke="#00000077" stroke-width="0.3"/>
<path d="M38.84 418.3L51.01 419.96L63.18 421.35L75.35 426.62L87.53 426.89L99.7 425.92L111.87 431.47L124.04 432.72L136.22 433.14L148.39 433.83L160.56 434.38" stroke="#7a4527" stroke-width="0.8" fill="none"/>
<path d="M38.84 416.9V419.69M37.94 416.9H39.74M37.94 419.69H39.74" stroke="#7a4527" stroke-width="0.4" fill="none"/>
<circle cx="38.84" cy="418.3" r="1.1" fill="#7a4527" stroke="#00000077" stroke-width="0.3"/>
<path d="M51.01 418.61V421.31M50.11 418.61H51.91M50.11 421.31H51.91" stroke="#7a4527" stroke-width="0.4" fill="none"/>
<circle cx="51.01" cy="419.96" r="1.1" fill="#7a4527" stroke="#00000077" stroke-width="0.3"/>
<path d="M63.18 420.03V422.66M62.28 420.03H64.08M62.28 422.66H64.08" stroke="#7a4527" stroke-width="0.4" fill="none"/>
<circle cx="63.18" cy="421.35" r="1.1" fill="#7a4527" stroke="#00000077" stroke-width="0.3"/>
<path d="M75.35 425.46V427.78M74.45 425.46H76.25M74.45 427.78H76.25" stroke="#7a4527" stroke-width="0.4" fill="none"/>
<circle cx="75.35" cy="426.62" r="1.1" fill="#7a4527" stroke="#00000077" stroke-width="0.3"/>
<path d="M87.53 425.74V428.05M86.63 425.74H88.43M86.63 428.05H88.43" stroke="#7a4527" stroke-width="0.4" fill="none"/>
<circle cx="87.53" cy="426.89" r="1.1" fill="#7a4527" stroke="#00000077" stroke-width="0.3"/>
<path d="M99.7 424.74V427.1M98.8 424.74H100.6M98.8 427.1H100.6" stroke="#7a4527" stroke-width="0.4" fill="none"/>
<circle cx="99.7" cy="425.92" r="1.1" fill="#7a4527" stroke="#00000077" stroke-width="0.3"/>
<path d="M111.87 430.45V432.49M110.97 430.45H112.77M110.97 432.49H112.77" stroke="#7a4527" stroke-width="0.4" fill="none"/>
<circle cx="111.87" cy="431.47" r="1.1" fill="#7a4527" stroke="#00000077" stroke-width="0.3"/>
<path d="M124.04 431.74V433.7M123.14 431.74H124.94M123.14 433.7H124.94" stroke="#7a4527" stroke-width="0.4" fill="none"/>
<circle cx="124.04" cy="432.72" r="1.1" fill="#7a4527" stroke="#00000077" stroke-width="0.3"/>
<path d="M136.22 432.16V434.11M135.32 432.16H137.12M135.32 434.11H137.12" stroke="#7a4527" stroke-width="0.4" fill="none"/>
<circle cx="136.22" cy="433.14" r="1.1" fill="#7a4527" stroke="#00000077" stroke-width="0.3"/>
<path d="M148.39 432.88V434.78M147.49 432.88H149.29M147.49 434.78H149.29" stroke="#7a4527" stroke-width="0.4" fill="none"/>
<circle cx="148.39" cy="433.83" r="1.1" fill="#7a4527" stroke="#00000077" stroke-width="0.3"/>
<path d="M160.56 433.45V435.32M159.66 433.45H161.46M159.66 435.32H161.46" stroke="#7a4527" stroke-width="0.4" fill="none"/>
<circle cx="160.56" cy="434.38" r="1.1" fill="#7a4527" stroke="#00000077" stroke-width="0.3"/>
<path d="M38.84 419.4L51.01 421.07L63.18 422.46L75.35 427.03L87.53 427.31L99.7 425.51L111.87 432.17L124.04 433.27L136.22 433.55L148.39 434.11L160.56 434.66" stroke="#6cb04a" stroke-width="0.8" fill="none"/>
<path d="M38.84 418.04V420.77M37.94 418.04H39.74M37.94 420.77H39.74" stroke="#6cb04a" stroke-width="0.4" fill="none"/>
<circle cx="38.84" cy="419.4" r="1.3" fill="#6cb04a" stroke="#00000077" stroke-width="0.3"/>
<path d="M51.01 419.75V422.39M50.11 419.75H51.91M50.11 422.39H51.91" stroke="#6cb04a" stroke-width="0.4" fill="none"/>
<circle cx="51.01" cy="421.07" r="1.3" fill="#6cb04a" stroke="#00000077" stroke-width="0.3"/>
<path d="M63.18 421.18V423.74M62.28 421.18H64.08M62.28 423.74H64.08" stroke="#6cb04a" stroke-width="0.4" fill="none"/>
<circle cx="63.18" cy="422.46" r="1.3" fill="#6cb04a" stroke="#00000077" stroke-width="0.3"/>
<path d="M75.35 425.89V428.18M74.45 425.89H76.25M74.45 428.18H76.25" stroke="#6cb04a" stroke-width="0.4" fill="none"/>
<circle cx="75.35" cy="427.03" r="1.3" fill="#6cb04a" stroke="#00000077" stroke-width="0.3"/>
<path d="M87.53 426.17V428.45M86.63 426.17H88.43M86.63 428.45H88.43" stroke="#6cb04a" stroke-width="0.4" fill="none"/>
<circle cx="87.53" cy="427.31" r="1.3" fill="#6cb04a" stroke="#00000077" stroke-width="0.3"/>
<path d="M99.7 424.32V426.7M98.8 424.32H100.6M98.8 426.7H100.6" stroke="#6cb04a" stroke-width="0.4" fill="none"/>
<circle cx="99.7" cy="425.51" r="1.3" fill="#6cb04a" stroke="#00000077" stroke-width="0.3"/>
<path d="M111.87 431.17V433.17M110.97 431.17H112.77M110.97 433.17H112.77" stroke="#6cb04a" stroke-width="0.4" fill="none"/>
<circle cx="111.87" cy="432.17" r="1.3" fill="#6cb04a" stroke="#00000077" stroke-width="0.3"/>
<path d="M124.04 432.31V434.24M123.14 432.31H124.94M123.14 434.24H124.94" stroke="#6cb04a" stroke-width="0.4" fill="none"/>
<circle cx="124.04" cy="433.27" r="1.3" fill="#6cb04a" stroke="#00000077" stroke-width="0.3"/>
<path d="M136.22 432.59V434.51M135.32 432.59H137.12M135.32 434.51H137.12" stroke="#6cb04a" stroke-width="0.4" fill="none"/>
<circle cx="136.22" cy="433.55" r="1.3" fill="#6cb04a" stroke="#00000077" stroke-width="0.3"/>
<path d="M148.39 433.16V435.05M147.49 433.16H149.29M147.49 435.05H149.29" stroke="#6cb04a" stroke-width="0.4" fill="none"/>
<circle cx="148.39" cy="434.11" r="1.3" fill="#6cb04a" stroke="#00000077" stroke-width="0.3"/>
<path d="M160.56 433.73V435.59M159.66 433.73H161.46M159.66 435.59H161.46" stroke="#6cb04a" stroke-width="0.4" fill="none"/>
<circle cx="160.56" cy="434.66" r="1.3" fill="#6cb04a" stroke="#00000077" stroke-width="0.3"/>
<path d="M38.84 402.34L51.01 402.76L63.18 404.7L75.35 392.64L87.53 392.22L99.7 391.25L111.87 430.78L124.04 431.89L136.22 432.17L148.39 432.86L160.56 433.27" stroke="#c9952a" stroke-width="0.8" fill="none"/>
<path d="M38.84 400.48V404.2M37.94 400.48H39.74M37.94 404.2H39.74" stroke="#c9952a" stroke-width="0.4" fill="none"/>
<circle cx="38.84" cy="402.34" r="1.3" fill="#c9952a" stroke="#00000077" stroke-width="0.3"/>
<path d="M51.01 400.91V404.61M50.11 400.91H51.91M50.11 404.61H51.91" stroke="#c9952a" stroke-width="0.4" fill="none"/>
<circle cx="51.01" cy="402.76" r="1.3" fill="#c9952a" stroke="#00000077" stroke-width="0.3"/>
<path d="M63.18 402.91V406.49M62.28 402.91H64.08M62.28 406.49H64.08" stroke="#c9952a" stroke-width="0.4" fill="none"/>
<circle cx="63.18" cy="404.7" r="1.3" fill="#c9952a" stroke="#00000077" stroke-width="0.3"/>
<path d="M75.35 390.5V394.78M74.45 390.5H76.25M74.45 394.78H76.25" stroke="#c9952a" stroke-width="0.4" fill="none"/>
<circle cx="75.35" cy="392.64" r="1.3" fill="#c9952a" stroke="#00000077" stroke-width="0.3"/>
<path d="M87.53 390.07V394.37M86.63 390.07H88.43M86.63 394.37H88.43" stroke="#c9952a" stroke-width="0.4" fill="none"/>
<circle cx="87.53" cy="392.22" r="1.3" fill="#c9952a" stroke="#00000077" stroke-width="0.3"/>
<path d="M99.7 389.07V393.43M98.8 389.07H100.6M98.8 393.43H100.6" stroke="#c9952a" stroke-width="0.4" fill="none"/>
<circle cx="99.7" cy="391.25" r="1.3" fill="#c9952a" stroke="#00000077" stroke-width="0.3"/>
<path d="M111.87 429.74V431.82M110.97 429.74H112.77M110.97 431.82H112.77" stroke="#c9952a" stroke-width="0.4" fill="none"/>
<circle cx="111.87" cy="430.78" r="1.3" fill="#c9952a" stroke="#00000077" stroke-width="0.3"/>
<path d="M124.04 430.88V432.9M123.14 430.88H124.94M123.14 432.9H124.94" stroke="#c9952a" stroke-width="0.4" fill="none"/>
<circle cx="124.04" cy="431.89" r="1.3" fill="#c9952a" stroke="#00000077" stroke-width="0.3"/>
<path d="M136.22 431.17V433.17M135.32 431.17H137.12M135.32 433.17H137.12" stroke="#c9952a" stroke-width="0.4" fill="none"/>
<circle cx="136.22" cy="432.17" r="1.3" fill="#c9952a" stroke="#00000077" stroke-width="0.3"/>
<path d="M148.39 431.88V433.84M147.49 431.88H149.29M147.49 433.84H149.29" stroke="#c9952a" stroke-width="0.4" fill="none"/>
<circle cx="148.39" cy="432.86" r="1.3" fill="#c9952a" stroke="#00000077" stroke-width="0.3"/>
<path d="M160.56 432.31V434.24M159.66 432.31H161.46M159.66 434.24H161.46" stroke="#c9952a" stroke-width="0.4" fill="none"/>
<circle cx="160.56" cy="433.27" r="1.3" fill="#c9952a" stroke="#00000077" stroke-width="0.3"/>
<path d="M38.84 397.49L51.01 398.18L63.18 398.88L75.35 387.09L87.53 386.12L99.7 385.7L111.87 429.39L124.04 431.06L136.22 431.47L148.39 432.17L160.56 432.58" stroke="#39418f" stroke-width="0.8" fill="none"/>
<path d="M38.84 395.49V399.49M37.94 395.49H39.74M37.94 399.49H39.74" stroke="#39418f" stroke-width="0.4" fill="none"/>
<circle cx="38.84" cy="397.49" r="1.1" fill="#39418f" stroke="#00000077" stroke-width="0.3"/>
<path d="M51.01 396.2V400.16M50.11 396.2H51.91M50.11 400.16H51.91" stroke="#39418f" stroke-width="0.4" fill="none"/>
<circle cx="51.01" cy="398.18" r="1.1" fill="#39418f" stroke="#00000077" stroke-width="0.3"/>
<path d="M63.18 396.92V400.84M62.28 396.92H64.08M62.28 400.84H64.08" stroke="#39418f" stroke-width="0.4" fill="none"/>
<circle cx="63.18" cy="398.88" r="1.1" fill="#39418f" stroke="#00000077" stroke-width="0.3"/>
<path d="M75.35 384.79V389.39M74.45 384.79H76.25M74.45 389.39H76.25" stroke="#39418f" stroke-width="0.4" fill="none"/>
<circle cx="75.35" cy="387.09" r="1.1" fill="#39418f" stroke="#00000077" stroke-width="0.3"/>
<path d="M87.53 383.79V388.44M86.63 383.79H88.43M86.63 388.44H88.43" stroke="#39418f" stroke-width="0.4" fill="none"/>
<circle cx="87.53" cy="386.12" r="1.1" fill="#39418f" stroke="#00000077" stroke-width="0.3"/>
<path d="M99.7 383.36V388.04M98.8 383.36H100.6M98.8 388.04H100.6" stroke="#39418f" stroke-width="0.4" fill="none"/>
<circle cx="99.7" cy="385.7" r="1.1" fill="#39418f" stroke="#00000077" stroke-width="0.3"/>
<path d="M111.87 428.31V430.47M110.97 428.31H112.77M110.97 430.47H112.77" stroke="#39418f" stroke-width="0.4" fill="none"/>
<circle cx="111.87" cy="429.39" r="1.1" fill="#39418f" stroke="#00000077" stroke-width="0.3"/>
<path d="M124.04 430.02V432.09M123.14 430.02H124.94M123.14 432.09H124.94" stroke="#39418f" stroke-width="0.4" fill="none"/>
<circle cx="124.04" cy="431.06" r="1.1" fill="#39418f" stroke="#00000077" stroke-width="0.3"/>
<path d="M136.22 430.45V432.49M135.32 430.45H137.12M135.32 432.49H137.12" stroke="#39418f" stroke-width="0.4" fill="none"/>
<circle cx="136.22" cy="431.47" r="1.1" fill="#39418f" stroke="#00000077" stroke-width="0.3"/>
<path d="M148.39 431.17V433.17M147.49 431.17H149.29M147.49 433.17H149.29" stroke="#39418f" stroke-width="0.4" fill="none"/>
<circle cx="148.39" cy="432.17" r="1.1" fill="#39418f" stroke="#00000077" stroke-width="0.3"/>
<path d="M160.56 431.59V433.57M159.66 431.59H161.46M159.66 433.57H161.46" stroke="#39418f" stroke-width="0.4" fill="none"/>
<circle cx="160.56" cy="432.58" r="1.1" fill="#39418f" stroke="#00000077" stroke-width="0.3"/>
<path d="M38.84 393.33L51.01 394.44L63.18 395.41L75.35 380.57L87.53 379.46L99.7 378.77L111.87 428.7L124.04 430.5L136.22 431.19L148.39 431.75L160.56 432.44" stroke="#1577b8" stroke-width="0.8" fill="none"/>
<path d="M38.84 391.21V395.45M37.94 391.21H39.74M37.94 395.45H39.74" stroke="#1577b8" stroke-width="0.4" fill="none"/>
<circle cx="38.84" cy="393.33" r="1.1" fill="#1577b8" stroke="#00000077" stroke-width="0.3"/>
<path d="M51.01 392.35V396.53M50.11 392.35H51.91M50.11 396.53H51.91" stroke="#1577b8" stroke-width="0.4" fill="none"/>
<circle cx="51.01" cy="394.44" r="1.1" fill="#1577b8" stroke="#00000077" stroke-width="0.3"/>
<path d="M63.18 393.35V397.47M62.28 393.35H64.08M62.28 397.47H64.08" stroke="#1577b8" stroke-width="0.4" fill="none"/>
<circle cx="63.18" cy="395.41" r="1.1" fill="#1577b8" stroke="#00000077" stroke-width="0.3"/>
<path d="M75.35 378.08V383.06M74.45 378.08H76.25M74.45 383.06H76.25" stroke="#1577b8" stroke-width="0.4" fill="none"/>
<circle cx="75.35" cy="380.57" r="1.1" fill="#1577b8" stroke="#00000077" stroke-width="0.3"/>
<path d="M87.53 376.94V381.98M86.63 376.94H88.43M86.63 381.98H88.43" stroke="#1577b8" stroke-width="0.4" fill="none"/>
<circle cx="87.53" cy="379.46" r="1.1" fill="#1577b8" stroke="#00000077" stroke-width="0.3"/>
<path d="M99.7 376.23V381.31M98.8 376.23H100.6M98.8 381.31H100.6" stroke="#1577b8" stroke-width="0.4" fill="none"/>
<circle cx="99.7" cy="378.77" r="1.1" fill="#1577b8" stroke="#00000077" stroke-width="0.3"/>
<path d="M111.87 427.6V429.8M110.97 427.6H112.77M110.97 429.8H112.77" stroke="#1577b8" stroke-width="0.4" fill="none"/>
<circle cx="111.87" cy="428.7" r="1.1" fill="#1577b8" stroke="#00000077" stroke-width="0.3"/>
<path d="M124.04 429.45V431.55M123.14 429.45H124.94M123.14 431.55H124.94" stroke="#1577b8" stroke-width="0.4" fill="none"/>
<circle cx="124.04" cy="430.5" r="1.1" fill="#1577b8" stroke="#00000077" stroke-width="0.3"/>
<path d="M136.22 430.17V432.22M135.32 430.17H137.12M135.32 432.22H137.12" stroke="#1577b8" stroke-width="0.4" fill="none"/>
<circle cx="136.22" cy="431.19" r="1.1" fill="#1577b8" stroke="#00000077" stroke-width="0.3"/>
<path d="M148.39 430.74V432.76M147.49 430.74H149.29M147.49 432.76H149.29" stroke="#1577b8" stroke-width="0.4" fill="none"/>
<circle cx="148.39" cy="431.75" r="1.1" fill="#1577b8" stroke="#00000077" stroke-width="0.3"/>
<path d="M160.56 431.45V433.43M159.66 431.45H161.46M159.66 433.43H161.46" stroke="#1577b8" stroke-width="0.4" fill="none"/>
<circle cx="160.56" cy="432.44" r="1.1" fill="#1577b8" stroke="#00000077" stroke-width="0.3"/>
<path d="M38.84 391.25L51.01 392.64L63.18 393.33L75.35 378.35L87.53 377.38L99.7 376.41L111.87 428L124.04 430.08L136.22 430.78L148.39 431.19L160.56 431.89" stroke="#5d3119" stroke-width="0.8" fill="none"/>
<path d="M38.84 389.07V393.43M37.94 389.07H39.74M37.94 393.43H39.74" stroke="#5d3119" stroke-width="0.4" fill="none"/>
<circle cx="38.84" cy="391.25" r="1.1" fill="#5d3119" stroke="#00000077" stroke-width="0.3"/>
<path d="M51.01 390.5V394.78M50.11 390.5H51.91M50.11 394.78H51.91" stroke="#5d3119" stroke-width="0.4" fill="none"/>
<circle cx="51.01" cy="392.64" r="1.1" fill="#5d3119" stroke="#00000077" stroke-width="0.3"/>
<path d="M63.18 391.21V395.45M62.28 391.21H64.08M62.28 395.45H64.08" stroke="#5d3119" stroke-width="0.4" fill="none"/>
<circle cx="63.18" cy="393.33" r="1.1" fill="#5d3119" stroke="#00000077" stroke-width="0.3"/>
<path d="M75.35 375.8V380.9M74.45 375.8H76.25M74.45 380.9H76.25" stroke="#5d3119" stroke-width="0.4" fill="none"/>
<circle cx="75.35" cy="378.35" r="1.1" fill="#5d3119" stroke="#00000077" stroke-width="0.3"/>
<path d="M87.53 374.8V379.96M86.63 374.8H88.43M86.63 379.96H88.43" stroke="#5d3119" stroke-width="0.4" fill="none"/>
<circle cx="87.53" cy="377.38" r="1.1" fill="#5d3119" stroke="#00000077" stroke-width="0.3"/>
<path d="M99.7 373.8V379.02M98.8 373.8H100.6M98.8 379.02H100.6" stroke="#5d3119" stroke-width="0.4" fill="none"/>
<circle cx="99.7" cy="376.41" r="1.1" fill="#5d3119" stroke="#00000077" stroke-width="0.3"/>
<path d="M111.87 426.88V429.12M110.97 426.88H112.77M110.97 429.12H112.77" stroke="#5d3119" stroke-width="0.4" fill="none"/>
<circle cx="111.87" cy="428" r="1.1" fill="#5d3119" stroke="#00000077" stroke-width="0.3"/>
<path d="M124.04 429.02V431.14M123.14 429.02H124.94M123.14 431.14H124.94" stroke="#5d3119" stroke-width="0.4" fill="none"/>
<circle cx="124.04" cy="430.08" r="1.1" fill="#5d3119" stroke="#00000077" stroke-width="0.3"/>
<path d="M136.22 429.74V431.82M135.32 429.74H137.12M135.32 431.82H137.12" stroke="#5d3119" stroke-width="0.4" fill="none"/>
<circle cx="136.22" cy="430.78" r="1.1" fill="#5d3119" stroke="#00000077" stroke-width="0.3"/>
<path d="M148.39 430.17V432.22M147.49 430.17H149.29M147.49 432.22H149.29" stroke="#5d3119" stroke-width="0.4" fill="none"/>
<circle cx="148.39" cy="431.19" r="1.1" fill="#5d3119" stroke="#00000077" stroke-width="0.3"/>
<path d="M160.56 430.88V432.9M159.66 430.88H161.46M159.66 432.9H161.46" stroke="#5d3119" stroke-width="0.4" fill="none"/>
<circle cx="160.56" cy="431.89" r="1.1" fill="#5d3119" stroke="#00000077" stroke-width="0.3"/>
<path d="M38.84 384.31L51.01 387.5L63.18 388.47L75.35 371.14L87.53 370.03L99.7 369.06L111.87 426.2L124.04 428.7L136.22 429.11L148.39 429.67L160.56 430.5" stroke="#e0262b" stroke-width="0.8" fill="none"/>
<path d="M38.84 381.93V386.69M37.94 381.93H39.74M37.94 386.69H39.74" stroke="#e0262b" stroke-width="0.4" fill="none"/>
<circle cx="38.84" cy="384.31" r="1.3" fill="#e0262b" stroke="#00000077" stroke-width="0.3"/>
<path d="M51.01 385.22V389.79M50.11 385.22H51.91M50.11 389.79H51.91" stroke="#e0262b" stroke-width="0.4" fill="none"/>
<circle cx="51.01" cy="387.5" r="1.3" fill="#e0262b" stroke="#00000077" stroke-width="0.3"/>
<path d="M63.18 386.21V390.73M62.28 386.21H64.08M62.28 390.73H64.08" stroke="#e0262b" stroke-width="0.4" fill="none"/>
<circle cx="63.18" cy="388.47" r="1.3" fill="#e0262b" stroke="#00000077" stroke-width="0.3"/>
<path d="M75.35 368.38V373.9M74.45 368.38H76.25M74.45 373.9H76.25" stroke="#e0262b" stroke-width="0.4" fill="none"/>
<circle cx="75.35" cy="371.14" r="1.3" fill="#e0262b" stroke="#00000077" stroke-width="0.3"/>
<path d="M87.53 367.24V372.82M86.63 367.24H88.43M86.63 372.82H88.43" stroke="#e0262b" stroke-width="0.4" fill="none"/>
<circle cx="87.53" cy="370.03" r="1.3" fill="#e0262b" stroke="#00000077" stroke-width="0.3"/>
<path d="M99.7 366.24V371.88M98.8 366.24H100.6M98.8 371.88H100.6" stroke="#e0262b" stroke-width="0.4" fill="none"/>
<circle cx="99.7" cy="369.06" r="1.3" fill="#e0262b" stroke="#00000077" stroke-width="0.3"/>
<path d="M111.87 425.03V427.37M110.97 425.03H112.77M110.97 427.37H112.77" stroke="#e0262b" stroke-width="0.4" fill="none"/>
<circle cx="111.87" cy="426.2" r="1.3" fill="#e0262b" stroke="#00000077" stroke-width="0.3"/>
<path d="M124.04 427.6V429.8M123.14 427.6H124.94M123.14 429.8H124.94" stroke="#e0262b" stroke-width="0.4" fill="none"/>
<circle cx="124.04" cy="428.7" r="1.3" fill="#e0262b" stroke="#00000077" stroke-width="0.3"/>
<path d="M136.22 428.03V430.2M135.32 428.03H137.12M135.32 430.2H137.12" stroke="#e0262b" stroke-width="0.4" fill="none"/>
<circle cx="136.22" cy="429.11" r="1.3" fill="#e0262b" stroke="#00000077" stroke-width="0.3"/>
<path d="M148.39 428.6V430.74M147.49 428.6H149.29M147.49 430.74H149.29" stroke="#e0262b" stroke-width="0.4" fill="none"/>
<circle cx="148.39" cy="429.67" r="1.3" fill="#e0262b" stroke="#00000077" stroke-width="0.3"/>
<path d="M160.56 429.45V431.55M159.66 429.45H161.46M159.66 431.55H161.46" stroke="#e0262b" stroke-width="0.4" fill="none"/>
<circle cx="160.56" cy="430.5" r="1.3" fill="#e0262b" stroke="#00000077" stroke-width="0.3"/>
<text font-size="12" transform="translate(185.5 306.5) scale(1.05 1)" font-weight="bold" fill="#000">h</text>
<text font-size="6.8" text-anchor="middle" transform="translate(278.5 309.5) scale(1.12 1)">Basal glycolysis</text>
<line x1="216.8" y1="356.2" x2="216.8" y2="438.4" stroke="#4a4a4a" stroke-width="0.55"/>
<line x1="214.6" y1="438.4" x2="216.8" y2="438.4" stroke="#4a4a4a" stroke-width="0.55"/>
<text font-size="6" text-anchor="end" transform="translate(213.6 440.5) scale(1.12 1)">0</text>
<line x1="214.6" y1="417.84" x2="216.8" y2="417.84" stroke="#4a4a4a" stroke-width="0.55"/>
<text font-size="6" text-anchor="end" transform="translate(213.6 419.94) scale(1.12 1)">1</text>
<line x1="214.6" y1="397.28" x2="216.8" y2="397.28" stroke="#4a4a4a" stroke-width="0.55"/>
<text font-size="6" text-anchor="end" transform="translate(213.6 399.38) scale(1.12 1)">2</text>
<line x1="214.6" y1="376.72" x2="216.8" y2="376.72" stroke="#4a4a4a" stroke-width="0.55"/>
<text font-size="6" text-anchor="end" transform="translate(213.6 378.82) scale(1.12 1)">3</text>
<line x1="214.6" y1="356.16" x2="216.8" y2="356.16" stroke="#4a4a4a" stroke-width="0.55"/>
<text font-size="6" text-anchor="end" transform="translate(213.6 358.26) scale(1.12 1)">4</text>
<line x1="216.8" y1="438.4" x2="340.3" y2="438.4" stroke="#4a4a4a" stroke-width="0.6"/>
<rect x="220.45" y="424.42" width="7.9" height="13.98" fill="#b9d7a3" stroke="#5e9c45" stroke-width="0.5"/>
<line x1="224.4" y1="438.4" x2="224.4" y2="441.4" stroke="#4a4a4a" stroke-width="0.6"/>
<path d="M224.4 423.39V425.45M223.1 423.39H225.7M223.1 425.45H225.7" stroke="#333" stroke-width="0.5" fill="none"/>
<circle cx="223.24" cy="421.98" r="1.6" fill="#6cb04a" stroke="#00000099" stroke-width="0.35"/>
<circle cx="222.6" cy="424.58" r="1.6" fill="#6cb04a" stroke="#00000099" stroke-width="0.35"/>
<circle cx="222.81" cy="423.88" r="1.6" fill="#6cb04a" stroke="#00000099" stroke-width="0.35"/>
<circle cx="224.5" cy="427.5" r="1.6" fill="#6cb04a" stroke="#00000099" stroke-width="0.35"/>
<circle cx="225.24" cy="425.09" r="1.6" fill="#6cb04a" stroke="#00000099" stroke-width="0.35"/>
<circle cx="226.43" cy="421.79" r="1.6" fill="#6cb04a" stroke="#00000099" stroke-width="0.35"/>
<circle cx="225.42" cy="422.41" r="1.6" fill="#6cb04a" stroke="#00000099" stroke-width="0.35"/>
<circle cx="225.08" cy="422.23" r="1.6" fill="#6cb04a" stroke="#00000099" stroke-width="0.35"/>
<circle cx="225.62" cy="421.51" r="1.6" fill="#6cb04a" stroke="#00000099" stroke-width="0.35"/>
<text font-size="6.6" text-anchor="end" transform="translate(226 448) rotate(-45) scale(1.12 1)">Con</text>
<rect x="232.85" y="424.42" width="7.9" height="13.98" fill="#aab3e0" stroke="#5a68b8" stroke-width="0.5"/>
<line x1="236.8" y1="438.4" x2="236.8" y2="441.4" stroke="#4a4a4a" stroke-width="0.6"/>
<path d="M236.8 423.39V425.45M235.5 423.39H238.1M235.5 425.45H238.1" stroke="#333" stroke-width="0.5" fill="none"/>
<circle cx="235.66" cy="424.86" r="1.6" fill="#5b6cc4" stroke="#00000099" stroke-width="0.35"/>
<circle cx="237.43" cy="423.89" r="1.6" fill="#5b6cc4" stroke="#00000099" stroke-width="0.35"/>
<circle cx="237.71" cy="429.15" r="1.6" fill="#5b6cc4" stroke="#00000099" stroke-width="0.35"/>
<circle cx="235.02" cy="421.52" r="1.6" fill="#5b6cc4" stroke="#00000099" stroke-width="0.35"/>
<circle cx="234.82" cy="427.17" r="1.6" fill="#5b6cc4" stroke="#00000099" stroke-width="0.35"/>
<circle cx="236.91" cy="420.1" r="1.6" fill="#5b6cc4" stroke="#00000099" stroke-width="0.35"/>
<circle cx="237.18" cy="422.92" r="1.6" fill="#5b6cc4" stroke="#00000099" stroke-width="0.35"/>
<circle cx="236.29" cy="426.44" r="1.6" fill="#5b6cc4" stroke="#00000099" stroke-width="0.35"/>
<circle cx="235.53" cy="428.24" r="1.6" fill="#5b6cc4" stroke="#00000099" stroke-width="0.35"/>
<text font-size="6.6" text-anchor="end" transform="translate(238.4 448) rotate(-45) scale(1.12 1)">IPA1</text>
<rect x="244.65" y="420.92" width="7.9" height="17.48" fill="#b08a70" stroke="#6f4226" stroke-width="0.5"/>
<line x1="248.6" y1="438.4" x2="248.6" y2="441.4" stroke="#4a4a4a" stroke-width="0.6"/>
<path d="M248.6 419.9V421.95M247.3 419.9H249.9M247.3 421.95H249.9" stroke="#333" stroke-width="0.5" fill="none"/>
<circle cx="247.44" cy="420.09" r="1.6" fill="#7a4527" stroke="#00000099" stroke-width="0.35"/>
<circle cx="250.72" cy="424.95" r="1.6" fill="#7a4527" stroke="#00000099" stroke-width="0.35"/>
<circle cx="249.54" cy="422.56" r="1.6" fill="#7a4527" stroke="#00000099" stroke-width="0.35"/>
<circle cx="247.71" cy="421.25" r="1.6" fill="#7a4527" stroke="#00000099" stroke-width="0.35"/>
<circle cx="246.4" cy="417.15" r="1.6" fill="#7a4527" stroke="#00000099" stroke-width="0.35"/>
<circle cx="248.59" cy="419.74" r="1.6" fill="#7a4527" stroke="#00000099" stroke-width="0.35"/>
<circle cx="249.4" cy="417.77" r="1.6" fill="#7a4527" stroke="#00000099" stroke-width="0.35"/>
<circle cx="248.23" cy="421.13" r="1.6" fill="#7a4527" stroke="#00000099" stroke-width="0.35"/>
<circle cx="247.48" cy="423.11" r="1.6" fill="#7a4527" stroke="#00000099" stroke-width="0.35"/>
<text font-size="6.6" text-anchor="end" transform="translate(250.2 448) rotate(-45) scale(1.12 1)">IPA10</text>
<rect x="256.45" y="421.54" width="7.9" height="16.86" fill="#a3caea" stroke="#3d86c6" stroke-width="0.5"/>
<line x1="260.4" y1="438.4" x2="260.4" y2="441.4" stroke="#4a4a4a" stroke-width="0.6"/>
<path d="M260.4 420.51V422.57M259.1 420.51H261.7M259.1 422.57H261.7" stroke="#333" stroke-width="0.5" fill="none"/>
<circle cx="261.5" cy="420.16" r="1.6" fill="#2f8fd3" stroke="#00000099" stroke-width="0.35"/>
<circle cx="260.42" cy="418.04" r="1.6" fill="#2f8fd3" stroke="#00000099" stroke-width="0.35"/>
<circle cx="259.04" cy="423.79" r="1.6" fill="#2f8fd3" stroke="#00000099" stroke-width="0.35"/>
<circle cx="262.56" cy="425.37" r="1.6" fill="#2f8fd3" stroke="#00000099" stroke-width="0.35"/>
<circle cx="259.53" cy="422.87" r="1.6" fill="#2f8fd3" stroke="#00000099" stroke-width="0.35"/>
<circle cx="261.87" cy="422.19" r="1.6" fill="#2f8fd3" stroke="#00000099" stroke-width="0.35"/>
<circle cx="259.16" cy="420.04" r="1.6" fill="#2f8fd3" stroke="#00000099" stroke-width="0.35"/>
<circle cx="259.12" cy="424.02" r="1.6" fill="#2f8fd3" stroke="#00000099" stroke-width="0.35"/>
<circle cx="261.6" cy="419.1" r="1.6" fill="#2f8fd3" stroke="#00000099" stroke-width="0.35"/>
<text font-size="6.6" text-anchor="end" transform="translate(262 448) rotate(-45) scale(1.12 1)">IPA100</text>
<rect x="268.25" y="421.54" width="7.9" height="16.86" fill="#f7d792" stroke="#d9a441" stroke-width="0.5"/>
<line x1="272.2" y1="438.4" x2="272.2" y2="441.4" stroke="#4a4a4a" stroke-width="0.6"/>
<path d="M272.2 420.51V422.57M270.9 420.51H273.5M270.9 422.57H273.5" stroke="#333" stroke-width="0.5" fill="none"/>
<circle cx="271.71" cy="423.4" r="1.6" fill="#eaaa3c" stroke="#00000099" stroke-width="0.35"/>
<circle cx="270.88" cy="417.45" r="1.6" fill="#eaaa3c" stroke="#00000099" stroke-width="0.35"/>
<circle cx="274.38" cy="421.58" r="1.6" fill="#eaaa3c" stroke="#00000099" stroke-width="0.35"/>
<circle cx="270.55" cy="424.37" r="1.6" fill="#eaaa3c" stroke="#00000099" stroke-width="0.35"/>
<circle cx="270.14" cy="424.04" r="1.6" fill="#eaaa3c" stroke="#00000099" stroke-width="0.35"/>
<circle cx="270.18" cy="422.29" r="1.6" fill="#eaaa3c" stroke="#00000099" stroke-width="0.35"/>
<circle cx="271.71" cy="420.05" r="1.6" fill="#eaaa3c" stroke="#00000099" stroke-width="0.35"/>
<circle cx="274.03" cy="417.48" r="1.6" fill="#eaaa3c" stroke="#00000099" stroke-width="0.35"/>
<circle cx="273.96" cy="424.74" r="1.6" fill="#eaaa3c" stroke="#00000099" stroke-width="0.35"/>
<text font-size="6.6" text-anchor="end" transform="translate(273.8 448) rotate(-45) scale(1.12 1)">IPA1000</text>
<rect x="280.15" y="377.13" width="7.9" height="61.27" fill="#f5957b" stroke="#d8432f" stroke-width="0.5"/>
<line x1="284.1" y1="438.4" x2="284.1" y2="441.4" stroke="#4a4a4a" stroke-width="0.6"/>
<path d="M284.1 376.1V378.16M282.8 376.1H285.4M282.8 378.16H285.4" stroke="#333" stroke-width="0.5" fill="none"/>
<circle cx="283.54" cy="373.3" r="1.6" fill="#e8323a" stroke="#00000099" stroke-width="0.35"/>
<circle cx="283.52" cy="368.95" r="1.6" fill="#e8323a" stroke="#00000099" stroke-width="0.35"/>
<circle cx="283.33" cy="370.03" r="1.6" fill="#e8323a" stroke="#00000099" stroke-width="0.35"/>
<circle cx="282.58" cy="379.94" r="1.6" fill="#e8323a" stroke="#00000099" stroke-width="0.35"/>
<circle cx="281.81" cy="382.3" r="1.6" fill="#e8323a" stroke="#00000099" stroke-width="0.35"/>
<circle cx="283.09" cy="369.96" r="1.6" fill="#e8323a" stroke="#00000099" stroke-width="0.35"/>
<circle cx="283.42" cy="373.08" r="1.6" fill="#e8323a" stroke="#00000099" stroke-width="0.35"/>
<circle cx="286.2" cy="384.83" r="1.6" fill="#e8323a" stroke="#00000099" stroke-width="0.35"/>
<circle cx="282.37" cy="374.43" r="1.6" fill="#e8323a" stroke="#00000099" stroke-width="0.35"/>
<text font-size="6.6" text-anchor="end" transform="translate(285.7 448) rotate(-45) scale(1.12 1)">CD3/CD28</text>
<rect x="292.45" y="389.47" width="7.9" height="48.93" fill="#6673c0" stroke="#3d4a9c" stroke-width="0.5"/>
<line x1="296.4" y1="438.4" x2="296.4" y2="441.4" stroke="#4a4a4a" stroke-width="0.6"/>
<path d="M296.4 388.44V390.5M295.1 388.44H297.7M295.1 390.5H297.7" stroke="#333" stroke-width="0.5" fill="none"/>
<circle cx="298.33" cy="382.79" r="1.6" fill="#7e8ad8" stroke="#00000099" stroke-width="0.35"/>
<circle cx="294.99" cy="393.68" r="1.6" fill="#7e8ad8" stroke="#00000099" stroke-width="0.35"/>
<circle cx="295.78" cy="391.53" r="1.6" fill="#7e8ad8" stroke="#00000099" stroke-width="0.35"/>
<circle cx="298.23" cy="384.84" r="1.6" fill="#7e8ad8" stroke="#00000099" stroke-width="0.35"/>
<circle cx="294.24" cy="384.83" r="1.6" fill="#7e8ad8" stroke="#00000099" stroke-width="0.35"/>
<circle cx="295.99" cy="390.44" r="1.6" fill="#7e8ad8" stroke="#00000099" stroke-width="0.35"/>
<circle cx="297.83" cy="395.95" r="1.6" fill="#7e8ad8" stroke="#00000099" stroke-width="0.35"/>
<circle cx="297.63" cy="389.85" r="1.6" fill="#7e8ad8" stroke="#00000099" stroke-width="0.35"/>
<circle cx="294.29" cy="391.3" r="1.6" fill="#7e8ad8" stroke="#00000099" stroke-width="0.35"/>
<rect x="304.25" y="383.3" width="7.9" height="55.1" fill="#7a4424" stroke="#4e2a12" stroke-width="0.5"/>
<line x1="308.2" y1="438.4" x2="308.2" y2="441.4" stroke="#4a4a4a" stroke-width="0.6"/>
<path d="M308.2 382.27V384.33M306.9 382.27H309.5M306.9 384.33H309.5" stroke="#333" stroke-width="0.5" fill="none"/>
<circle cx="308.74" cy="391.91" r="1.6" fill="#86502f" stroke="#00000099" stroke-width="0.35"/>
<circle cx="307.11" cy="391.39" r="1.6" fill="#86502f" stroke="#00000099" stroke-width="0.35"/>
<circle cx="309.2" cy="375.53" r="1.6" fill="#86502f" stroke="#00000099" stroke-width="0.35"/>
<circle cx="307.36" cy="387.8" r="1.6" fill="#86502f" stroke="#00000099" stroke-width="0.35"/>
<circle cx="307.17" cy="378.72" r="1.6" fill="#86502f" stroke="#00000099" stroke-width="0.35"/>
<circle cx="305.92" cy="375.92" r="1.6" fill="#86502f" stroke="#00000099" stroke-width="0.35"/>
<circle cx="309.38" cy="386.28" r="1.6" fill="#86502f" stroke="#00000099" stroke-width="0.35"/>
<circle cx="310.12" cy="387.51" r="1.6" fill="#86502f" stroke="#00000099" stroke-width="0.35"/>
<circle cx="308.82" cy="374.83" r="1.6" fill="#86502f" stroke="#00000099" stroke-width="0.35"/>
<rect x="316.15" y="385.36" width="7.9" height="53.04" fill="#1f92d6" stroke="#146aa3" stroke-width="0.5"/>
<line x1="320.1" y1="438.4" x2="320.1" y2="441.4" stroke="#4a4a4a" stroke-width="0.6"/>
<path d="M320.1 384.33V386.38M318.8 384.33H321.4M318.8 386.38H321.4" stroke="#333" stroke-width="0.5" fill="none"/>
<circle cx="320.07" cy="378.06" r="1.6" fill="#2b9fe3" stroke="#00000099" stroke-width="0.35"/>
<circle cx="322.07" cy="393.18" r="1.6" fill="#2b9fe3" stroke="#00000099" stroke-width="0.35"/>
<circle cx="318.64" cy="389.73" r="1.6" fill="#2b9fe3" stroke="#00000099" stroke-width="0.35"/>
<circle cx="321.49" cy="385.76" r="1.6" fill="#2b9fe3" stroke="#00000099" stroke-width="0.35"/>
<circle cx="321.2" cy="377.84" r="1.6" fill="#2b9fe3" stroke="#00000099" stroke-width="0.35"/>
<circle cx="321.58" cy="377.89" r="1.6" fill="#2b9fe3" stroke="#00000099" stroke-width="0.35"/>
<circle cx="321.35" cy="387.22" r="1.6" fill="#2b9fe3" stroke="#00000099" stroke-width="0.35"/>
<circle cx="320.59" cy="389.45" r="1.6" fill="#2b9fe3" stroke="#00000099" stroke-width="0.35"/>
<circle cx="319.31" cy="386.51" r="1.6" fill="#2b9fe3" stroke="#00000099" stroke-width="0.35"/>
<rect x="328.15" y="396.25" width="7.9" height="42.15" fill="#eab73c" stroke="#c08f1e" stroke-width="0.5"/>
<line x1="332.1" y1="438.4" x2="332.1" y2="441.4" stroke="#4a4a4a" stroke-width="0.6"/>
<path d="M332.1 395.22V397.28M330.8 395.22H333.4M330.8 397.28H333.4" stroke="#333" stroke-width="0.5" fill="none"/>
<circle cx="332.34" cy="398.48" r="1.6" fill="#f3c64c" stroke="#00000099" stroke-width="0.35"/>
<circle cx="331.3" cy="397.96" r="1.6" fill="#f3c64c" stroke="#00000099" stroke-width="0.35"/>
<circle cx="334.31" cy="392.77" r="1.6" fill="#f3c64c" stroke="#00000099" stroke-width="0.35"/>
<circle cx="333.86" cy="401.45" r="1.6" fill="#f3c64c" stroke="#00000099" stroke-width="0.35"/>
<circle cx="334.34" cy="399.99" r="1.6" fill="#f3c64c" stroke="#00000099" stroke-width="0.35"/>
<circle cx="331.02" cy="393.13" r="1.6" fill="#f3c64c" stroke="#00000099" stroke-width="0.35"/>
<circle cx="330.19" cy="399.37" r="1.6" fill="#f3c64c" stroke="#00000099" stroke-width="0.35"/>
<circle cx="330.24" cy="401.62" r="1.6" fill="#f3c64c" stroke="#00000099" stroke-width="0.35"/>
<circle cx="332.09" cy="402" r="1.6" fill="#f3c64c" stroke="#00000099" stroke-width="0.35"/>
<circle cx="260.53" cy="411.67" r="1.6" fill="#2f8fd3" stroke="#00000099" stroke-width="0.35"/>
<path d="M284.1 331.2V322H332.1V386.4" stroke="#555" stroke-width="0.5" fill="none"/>
<text font-size="5.4" text-anchor="middle" transform="translate(308.2 321) scale(1.12 1)">&lt;0.0001</text>
<path d="M284.1 339V334.4H320.1V373.3" stroke="#555" stroke-width="0.5" fill="none"/>
<text font-size="5.4" text-anchor="middle" transform="translate(302.2 332.8) scale(1.12 1)">0.0020</text>
<path d="M285.9 351V346.5H308.2V370.6" stroke="#555" stroke-width="0.5" fill="none"/>
<text font-size="5.4" text-anchor="middle" transform="translate(297.2 344.6) scale(1.12 1)">0.0224</text>
<path d="M224.4 416.6V359.3H284.1V365.4" stroke="#555" stroke-width="0.5" fill="none"/>
<text font-size="5.4" text-anchor="middle" transform="translate(255.7 358.3) scale(1.12 1)">&lt;0.0001</text>
<path d="M285.9 364V359.3H296.4V377.2" stroke="#555" stroke-width="0.5" fill="none"/>
<text font-size="5.4" text-anchor="middle" transform="translate(292.5 358.3) scale(1.12 1)">&lt;0.0001</text>
<path d="M291.2 453.4L333.2 453.4L333.2 446.8Z" stroke="none" stroke-width="0.6" fill="#111"/>
<text font-size="6.6" text-anchor="middle" transform="translate(315.6 462.8) scale(1.12 1)">CD3/CD28 + IPA</text>
<text font-size="6.6" text-anchor="middle" transform="translate(193.5 396.9) rotate(-90) scale(1.12 1)">PER (pmol min<tspan dy="-2.4" font-size="4.4">−1</tspan></text>
<text font-size="6.6" text-anchor="middle" transform="translate(202.4 396.9) rotate(-90) scale(1.12 1)">per 1,000 cells)</text>
<text font-size="6.8" text-anchor="middle" transform="translate(445.4 309.5) scale(1.12 1)">Compensatory glycolysis</text>
<line x1="383.1" y1="355.7" x2="383.1" y2="438.7" stroke="#4a4a4a" stroke-width="0.55"/>
<line x1="380.9" y1="438.7" x2="383.1" y2="438.7" stroke="#4a4a4a" stroke-width="0.55"/>
<text font-size="6" text-anchor="end" transform="translate(379.9 440.8) scale(1.12 1)">0</text>
<line x1="380.9" y1="417.94" x2="383.1" y2="417.94" stroke="#4a4a4a" stroke-width="0.55"/>
<text font-size="6" text-anchor="end" transform="translate(379.9 420.04) scale(1.12 1)">2</text>
<line x1="380.9" y1="397.18" x2="383.1" y2="397.18" stroke="#4a4a4a" stroke-width="0.55"/>
<text font-size="6" text-anchor="end" transform="translate(379.9 399.28) scale(1.12 1)">4</text>
<line x1="380.9" y1="376.42" x2="383.1" y2="376.42" stroke="#4a4a4a" stroke-width="0.55"/>
<text font-size="6" text-anchor="end" transform="translate(379.9 378.52) scale(1.12 1)">6</text>
<line x1="380.9" y1="355.66" x2="383.1" y2="355.66" stroke="#4a4a4a" stroke-width="0.55"/>
<text font-size="6" text-anchor="end" transform="translate(379.9 357.76) scale(1.12 1)">8</text>
<line x1="383.1" y1="438.7" x2="507.1" y2="438.7" stroke="#4a4a4a" stroke-width="0.6"/>
<rect x="386.55" y="429.88" width="7.9" height="8.82" fill="#b9d7a3" stroke="#5e9c45" stroke-width="0.5"/>
<line x1="390.5" y1="438.7" x2="390.5" y2="441.7" stroke="#4a4a4a" stroke-width="0.6"/>
<path d="M390.5 428.84V430.92M389.2 428.84H391.8M389.2 430.92H391.8" stroke="#333" stroke-width="0.5" fill="none"/>
<circle cx="392.07" cy="430.21" r="1.6" fill="#6cb04a" stroke="#00000099" stroke-width="0.35"/>
<circle cx="389.55" cy="431.53" r="1.6" fill="#6cb04a" stroke="#00000099" stroke-width="0.35"/>
<circle cx="390.81" cy="430.39" r="1.6" fill="#6cb04a" stroke="#00000099" stroke-width="0.35"/>
<circle cx="389.92" cy="429.13" r="1.6" fill="#6cb04a" stroke="#00000099" stroke-width="0.35"/>
<circle cx="391.6" cy="428.79" r="1.6" fill="#6cb04a" stroke="#00000099" stroke-width="0.35"/>
<circle cx="389.12" cy="428.33" r="1.6" fill="#6cb04a" stroke="#00000099" stroke-width="0.35"/>
<circle cx="389.34" cy="427.72" r="1.6" fill="#6cb04a" stroke="#00000099" stroke-width="0.35"/>
<circle cx="389.33" cy="428.85" r="1.6" fill="#6cb04a" stroke="#00000099" stroke-width="0.35"/>
<circle cx="388.91" cy="432.24" r="1.6" fill="#6cb04a" stroke="#00000099" stroke-width="0.35"/>
<text font-size="6.6" text-anchor="end" transform="translate(392.1 448.3) rotate(-45) scale(1.12 1)">Con</text>
<rect x="398.65" y="430.4" width="7.9" height="8.3" fill="#aab3e0" stroke="#5a68b8" stroke-width="0.5"/>
<line x1="402.6" y1="438.7" x2="402.6" y2="441.7" stroke="#4a4a4a" stroke-width="0.6"/>
<path d="M402.6 429.36V431.43M401.3 429.36H403.9M401.3 431.43H403.9" stroke="#333" stroke-width="0.5" fill="none"/>
<circle cx="404.86" cy="426.81" r="1.6" fill="#5b6cc4" stroke="#00000099" stroke-width="0.35"/>
<circle cx="400.77" cy="429.66" r="1.6" fill="#5b6cc4" stroke="#00000099" stroke-width="0.35"/>
<circle cx="402.48" cy="432.02" r="1.6" fill="#5b6cc4" stroke="#00000099" stroke-width="0.35"/>
<circle cx="404.07" cy="431.37" r="1.6" fill="#5b6cc4" stroke="#00000099" stroke-width="0.35"/>
<circle cx="404.17" cy="425.8" r="1.6" fill="#5b6cc4" stroke="#00000099" stroke-width="0.35"/>
<circle cx="404.51" cy="430.33" r="1.6" fill="#5b6cc4" stroke="#00000099" stroke-width="0.35"/>
<circle cx="400.49" cy="432.91" r="1.6" fill="#5b6cc4" stroke="#00000099" stroke-width="0.35"/>
<circle cx="401.65" cy="427.51" r="1.6" fill="#5b6cc4" stroke="#00000099" stroke-width="0.35"/>
<circle cx="400.85" cy="428.96" r="1.6" fill="#5b6cc4" stroke="#00000099" stroke-width="0.35"/>
<text font-size="6.6" text-anchor="end" transform="translate(404.2 448.3) rotate(-45) scale(1.12 1)">IPA1</text>
<rect x="410.75" y="429.36" width="7.9" height="9.34" fill="#b08a70" stroke="#6f4226" stroke-width="0.5"/>
<line x1="414.7" y1="438.7" x2="414.7" y2="441.7" stroke="#4a4a4a" stroke-width="0.6"/>
<path d="M414.7 428.32V430.4M413.4 428.32H416M413.4 430.4H416" stroke="#333" stroke-width="0.5" fill="none"/>
<circle cx="416.75" cy="430.97" r="1.6" fill="#7a4527" stroke="#00000099" stroke-width="0.35"/>
<circle cx="412.89" cy="426.9" r="1.6" fill="#7a4527" stroke="#00000099" stroke-width="0.35"/>
<circle cx="415.14" cy="428.93" r="1.6" fill="#7a4527" stroke="#00000099" stroke-width="0.35"/>
<circle cx="415.25" cy="427.13" r="1.6" fill="#7a4527" stroke="#00000099" stroke-width="0.35"/>
<circle cx="413.4" cy="430.02" r="1.6" fill="#7a4527" stroke="#00000099" stroke-width="0.35"/>
<circle cx="414.1" cy="427.46" r="1.6" fill="#7a4527" stroke="#00000099" stroke-width="0.35"/>
<circle cx="413.05" cy="429.62" r="1.6" fill="#7a4527" stroke="#00000099" stroke-width="0.35"/>
<circle cx="413.34" cy="430.6" r="1.6" fill="#7a4527" stroke="#00000099" stroke-width="0.35"/>
<circle cx="413.57" cy="427.92" r="1.6" fill="#7a4527" stroke="#00000099" stroke-width="0.35"/>
<text font-size="6.6" text-anchor="end" transform="translate(416.3 448.3) rotate(-45) scale(1.12 1)">IPA10</text>
<rect x="422.75" y="429.88" width="7.9" height="8.82" fill="#a3caea" stroke="#3d86c6" stroke-width="0.5"/>
<line x1="426.7" y1="438.7" x2="426.7" y2="441.7" stroke="#4a4a4a" stroke-width="0.6"/>
<path d="M426.7 428.84V430.92M425.4 428.84H428M425.4 430.92H428" stroke="#333" stroke-width="0.5" fill="none"/>
<circle cx="428.06" cy="429.15" r="1.6" fill="#2f8fd3" stroke="#00000099" stroke-width="0.35"/>
<circle cx="426.92" cy="428.78" r="1.6" fill="#2f8fd3" stroke="#00000099" stroke-width="0.35"/>
<circle cx="424.69" cy="432.03" r="1.6" fill="#2f8fd3" stroke="#00000099" stroke-width="0.35"/>
<circle cx="424.87" cy="433.43" r="1.6" fill="#2f8fd3" stroke="#00000099" stroke-width="0.35"/>
<circle cx="426.22" cy="431.13" r="1.6" fill="#2f8fd3" stroke="#00000099" stroke-width="0.35"/>
<circle cx="426.93" cy="428.58" r="1.6" fill="#2f8fd3" stroke="#00000099" stroke-width="0.35"/>
<circle cx="427.34" cy="432.16" r="1.6" fill="#2f8fd3" stroke="#00000099" stroke-width="0.35"/>
<circle cx="424.82" cy="431.24" r="1.6" fill="#2f8fd3" stroke="#00000099" stroke-width="0.35"/>
<circle cx="425.15" cy="432.03" r="1.6" fill="#2f8fd3" stroke="#00000099" stroke-width="0.35"/>
<text font-size="6.6" text-anchor="end" transform="translate(428.3 448.3) rotate(-45) scale(1.12 1)">IPA100</text>
<rect x="434.85" y="428.84" width="7.9" height="9.86" fill="#f7d792" stroke="#d9a441" stroke-width="0.5"/>
<line x1="438.8" y1="438.7" x2="438.8" y2="441.7" stroke="#4a4a4a" stroke-width="0.6"/>
<path d="M438.8 427.8V429.88M437.5 427.8H440.1M437.5 429.88H440.1" stroke="#333" stroke-width="0.5" fill="none"/>
<circle cx="440.48" cy="427.42" r="1.6" fill="#eaaa3c" stroke="#00000099" stroke-width="0.35"/>
<circle cx="441.08" cy="429.49" r="1.6" fill="#eaaa3c" stroke="#00000099" stroke-width="0.35"/>
<circle cx="438.17" cy="430.41" r="1.6" fill="#eaaa3c" stroke="#00000099" stroke-width="0.35"/>
<circle cx="437.41" cy="430.24" r="1.6" fill="#eaaa3c" stroke="#00000099" stroke-width="0.35"/>
<circle cx="439.85" cy="425.55" r="1.6" fill="#eaaa3c" stroke="#00000099" stroke-width="0.35"/>
<circle cx="437.44" cy="430.2" r="1.6" fill="#eaaa3c" stroke="#00000099" stroke-width="0.35"/>
<circle cx="436.53" cy="428.36" r="1.6" fill="#eaaa3c" stroke="#00000099" stroke-width="0.35"/>
<circle cx="440.65" cy="429.88" r="1.6" fill="#eaaa3c" stroke="#00000099" stroke-width="0.35"/>
<circle cx="438.45" cy="429.45" r="1.6" fill="#eaaa3c" stroke="#00000099" stroke-width="0.35"/>
<text font-size="6.6" text-anchor="end" transform="translate(440.4 448.3) rotate(-45) scale(1.12 1)">IPA1000</text>
<rect x="446.95" y="385.76" width="7.9" height="52.94" fill="#f5957b" stroke="#d8432f" stroke-width="0.5"/>
<line x1="450.9" y1="438.7" x2="450.9" y2="441.7" stroke="#4a4a4a" stroke-width="0.6"/>
<path d="M450.9 384.72V386.8M449.6 384.72H452.2M449.6 386.8H452.2" stroke="#333" stroke-width="0.5" fill="none"/>
<circle cx="449.01" cy="380.44" r="1.6" fill="#e8323a" stroke="#00000099" stroke-width="0.35"/>
<circle cx="451.46" cy="387.32" r="1.6" fill="#e8323a" stroke="#00000099" stroke-width="0.35"/>
<circle cx="450.31" cy="379.4" r="1.6" fill="#e8323a" stroke="#00000099" stroke-width="0.35"/>
<circle cx="450.92" cy="386.41" r="1.6" fill="#e8323a" stroke="#00000099" stroke-width="0.35"/>
<circle cx="449.27" cy="391.37" r="1.6" fill="#e8323a" stroke="#00000099" stroke-width="0.35"/>
<circle cx="449.9" cy="393.82" r="1.6" fill="#e8323a" stroke="#00000099" stroke-width="0.35"/>
<circle cx="451" cy="384.91" r="1.6" fill="#e8323a" stroke="#00000099" stroke-width="0.35"/>
<circle cx="452.86" cy="383.43" r="1.6" fill="#e8323a" stroke="#00000099" stroke-width="0.35"/>
<circle cx="449.1" cy="378.96" r="1.6" fill="#e8323a" stroke="#00000099" stroke-width="0.35"/>
<text font-size="6.6" text-anchor="end" transform="translate(452.5 448.3) rotate(-45) scale(1.12 1)">CD3/CD28</text>
<rect x="458.75" y="397.7" width="7.9" height="41" fill="#6673c0" stroke="#3d4a9c" stroke-width="0.5"/>
<line x1="462.7" y1="438.7" x2="462.7" y2="441.7" stroke="#4a4a4a" stroke-width="0.6"/>
<path d="M462.7 396.66V398.74M461.4 396.66H464M461.4 398.74H464" stroke="#333" stroke-width="0.5" fill="none"/>
<circle cx="464.66" cy="397.85" r="1.6" fill="#7e8ad8" stroke="#00000099" stroke-width="0.35"/>
<circle cx="462.18" cy="392.95" r="1.6" fill="#7e8ad8" stroke="#00000099" stroke-width="0.35"/>
<circle cx="464.56" cy="390.43" r="1.6" fill="#7e8ad8" stroke="#00000099" stroke-width="0.35"/>
<circle cx="463.25" cy="402.41" r="1.6" fill="#7e8ad8" stroke="#00000099" stroke-width="0.35"/>
<circle cx="464.19" cy="403.51" r="1.6" fill="#7e8ad8" stroke="#00000099" stroke-width="0.35"/>
<circle cx="461.14" cy="390.8" r="1.6" fill="#7e8ad8" stroke="#00000099" stroke-width="0.35"/>
<circle cx="464.01" cy="390.29" r="1.6" fill="#7e8ad8" stroke="#00000099" stroke-width="0.35"/>
<circle cx="461.42" cy="397.97" r="1.6" fill="#7e8ad8" stroke="#00000099" stroke-width="0.35"/>
<circle cx="462.26" cy="404.65" r="1.6" fill="#7e8ad8" stroke="#00000099" stroke-width="0.35"/>
<rect x="470.85" y="392.51" width="7.9" height="46.19" fill="#7a4424" stroke="#4e2a12" stroke-width="0.5"/>
<line x1="474.8" y1="438.7" x2="474.8" y2="441.7" stroke="#4a4a4a" stroke-width="0.6"/>
<path d="M474.8 391.47V393.55M473.5 391.47H476.1M473.5 393.55H476.1" stroke="#333" stroke-width="0.5" fill="none"/>
<circle cx="475.83" cy="385.32" r="1.6" fill="#86502f" stroke="#00000099" stroke-width="0.35"/>
<circle cx="476.63" cy="385.68" r="1.6" fill="#86502f" stroke="#00000099" stroke-width="0.35"/>
<circle cx="472.69" cy="399.09" r="1.6" fill="#86502f" stroke="#00000099" stroke-width="0.35"/>
<circle cx="475.09" cy="398.36" r="1.6" fill="#86502f" stroke="#00000099" stroke-width="0.35"/>
<circle cx="475.98" cy="394.59" r="1.6" fill="#86502f" stroke="#00000099" stroke-width="0.35"/>
<circle cx="472.68" cy="392.14" r="1.6" fill="#86502f" stroke="#00000099" stroke-width="0.35"/>
<circle cx="476.36" cy="394.93" r="1.6" fill="#86502f" stroke="#00000099" stroke-width="0.35"/>
<circle cx="473.04" cy="400.33" r="1.6" fill="#86502f" stroke="#00000099" stroke-width="0.35"/>
<circle cx="475.26" cy="397.76" r="1.6" fill="#86502f" stroke="#00000099" stroke-width="0.35"/>
<rect x="482.95" y="394.58" width="7.9" height="44.12" fill="#1f92d6" stroke="#146aa3" stroke-width="0.5"/>
<line x1="486.9" y1="438.7" x2="486.9" y2="441.7" stroke="#4a4a4a" stroke-width="0.6"/>
<path d="M486.9 393.55V395.62M485.6 393.55H488.2M485.6 395.62H488.2" stroke="#333" stroke-width="0.5" fill="none"/>
<circle cx="484.71" cy="393.81" r="1.6" fill="#2b9fe3" stroke="#00000099" stroke-width="0.35"/>
<circle cx="487.45" cy="392.61" r="1.6" fill="#2b9fe3" stroke="#00000099" stroke-width="0.35"/>
<circle cx="486.85" cy="397.6" r="1.6" fill="#2b9fe3" stroke="#00000099" stroke-width="0.35"/>
<circle cx="485.68" cy="395.83" r="1.6" fill="#2b9fe3" stroke="#00000099" stroke-width="0.35"/>
<circle cx="488.11" cy="393.3" r="1.6" fill="#2b9fe3" stroke="#00000099" stroke-width="0.35"/>
<circle cx="488.19" cy="395.74" r="1.6" fill="#2b9fe3" stroke="#00000099" stroke-width="0.35"/>
<circle cx="486.71" cy="392.11" r="1.6" fill="#2b9fe3" stroke="#00000099" stroke-width="0.35"/>
<circle cx="485.43" cy="395.41" r="1.6" fill="#2b9fe3" stroke="#00000099" stroke-width="0.35"/>
<circle cx="486.78" cy="395.54" r="1.6" fill="#2b9fe3" stroke="#00000099" stroke-width="0.35"/>
<rect x="495.05" y="401.33" width="7.9" height="37.37" fill="#eab73c" stroke="#c08f1e" stroke-width="0.5"/>
<line x1="499" y1="438.7" x2="499" y2="441.7" stroke="#4a4a4a" stroke-width="0.6"/>
<path d="M499 400.29V402.37M497.7 400.29H500.3M497.7 402.37H500.3" stroke="#333" stroke-width="0.5" fill="none"/>
<circle cx="500.07" cy="407.04" r="1.6" fill="#f3c64c" stroke="#00000099" stroke-width="0.35"/>
<circle cx="500.28" cy="406.73" r="1.6" fill="#f3c64c" stroke="#00000099" stroke-width="0.35"/>
<circle cx="499.05" cy="402.34" r="1.6" fill="#f3c64c" stroke="#00000099" stroke-width="0.35"/>
<circle cx="496.95" cy="407.27" r="1.6" fill="#f3c64c" stroke="#00000099" stroke-width="0.35"/>
<circle cx="499.02" cy="402.18" r="1.6" fill="#f3c64c" stroke="#00000099" stroke-width="0.35"/>
<circle cx="498.44" cy="401.18" r="1.6" fill="#f3c64c" stroke="#00000099" stroke-width="0.35"/>
<circle cx="501.07" cy="408.01" r="1.6" fill="#f3c64c" stroke="#00000099" stroke-width="0.35"/>
<circle cx="497.33" cy="399.35" r="1.6" fill="#f3c64c" stroke="#00000099" stroke-width="0.35"/>
<circle cx="500.64" cy="407.4" r="1.6" fill="#f3c64c" stroke="#00000099" stroke-width="0.35"/>
<path d="M450.9 336.5V325.2H499V391.7" stroke="#555" stroke-width="0.5" fill="none"/>
<text font-size="5.4" text-anchor="middle" transform="translate(475.6 323) scale(1.12 1)">&lt;0.0001</text>
<path d="M450.9 344.4V339.9H486.9V383.8" stroke="#555" stroke-width="0.5" fill="none"/>
<text font-size="5.4" text-anchor="middle" transform="translate(470.9 338) scale(1.12 1)">0.0002</text>
<path d="M450.9 358.3V353H474.8V379.8" stroke="#555" stroke-width="0.5" fill="none"/>
<text font-size="5.4" text-anchor="middle" transform="translate(462.5 351) scale(1.12 1)">0.0052</text>
<path d="M390.5 423.2V369.3H450.9V374.6" stroke="#555" stroke-width="0.5" fill="none"/>
<text font-size="5.4" text-anchor="middle" transform="translate(423.8 367.2) scale(1.12 1)">&lt;0.0001</text>
<path d="M452.7 374.6V369.3H462.7V390.4" stroke="#555" stroke-width="0.5" fill="none"/>
<text font-size="5.4" text-anchor="middle" transform="translate(456.7 367.2) scale(1.12 1)">&lt;0.0001</text>
<path d="M457.7 453.4L499.3 453.4L499.3 446.8Z" stroke="none" stroke-width="0.6" fill="#111"/>
<text font-size="6.6" text-anchor="middle" transform="translate(477.4 467.5) scale(1.12 1)">CD3/CD28 + IPA</text>
<text font-size="6.6" text-anchor="middle" transform="translate(357.8 396.9) rotate(-90) scale(1.12 1)">PER (pmol min<tspan dy="-2.4" font-size="4.4">−1</tspan></text>
<text font-size="6.6" text-anchor="middle" transform="translate(366.9 396.9) rotate(-90) scale(1.12 1)">per 1,000 cells)</text>
<text font-size="12" transform="translate(516.5 306.5) scale(1.05 1)" font-weight="bold" fill="#000">i</text>
<text font-size="6.8" text-anchor="middle" transform="translate(601.2 309.3) scale(1.12 1)">Lactate</text>
<line x1="539.1" y1="355.4" x2="539.1" y2="438.2" stroke="#4a4a4a" stroke-width="0.55"/>
<line x1="536.9" y1="438.2" x2="539.1" y2="438.2" stroke="#4a4a4a" stroke-width="0.55"/>
<text font-size="6" text-anchor="end" transform="translate(535.9 440.3) scale(1.12 1)">0</text>
<line x1="536.9" y1="417.5" x2="539.1" y2="417.5" stroke="#4a4a4a" stroke-width="0.55"/>
<text font-size="6" text-anchor="end" transform="translate(535.9 419.6) scale(1.12 1)">2</text>
<line x1="536.9" y1="396.8" x2="539.1" y2="396.8" stroke="#4a4a4a" stroke-width="0.55"/>
<text font-size="6" text-anchor="end" transform="translate(535.9 398.9) scale(1.12 1)">4</text>
<line x1="536.9" y1="376.1" x2="539.1" y2="376.1" stroke="#4a4a4a" stroke-width="0.55"/>
<text font-size="6" text-anchor="end" transform="translate(535.9 378.2) scale(1.12 1)">6</text>
<line x1="536.9" y1="355.4" x2="539.1" y2="355.4" stroke="#4a4a4a" stroke-width="0.55"/>
<text font-size="6" text-anchor="end" transform="translate(535.9 357.5) scale(1.12 1)">8</text>
<line x1="539.1" y1="438.2" x2="663.8" y2="438.2" stroke="#4a4a4a" stroke-width="0.6"/>
<rect x="542.8" y="398.35" width="7.8" height="39.85" fill="#b9d7a3" stroke="#5e9c45" stroke-width="0.5"/>
<line x1="546.7" y1="438.2" x2="546.7" y2="441.2" stroke="#4a4a4a" stroke-width="0.6"/>
<path d="M546.7 395.25V401.46M545.4 395.25H548M545.4 401.46H548" stroke="#333" stroke-width="0.5" fill="none"/>
<circle cx="549.08" cy="410.25" r="1.65" fill="#6cb04a" stroke="#00000099" stroke-width="0.35"/>
<circle cx="547.81" cy="405.08" r="1.65" fill="#6cb04a" stroke="#00000099" stroke-width="0.35"/>
<circle cx="548.21" cy="401.97" r="1.65" fill="#6cb04a" stroke="#00000099" stroke-width="0.35"/>
<circle cx="545.23" cy="397.83" r="1.65" fill="#6cb04a" stroke="#00000099" stroke-width="0.35"/>
<circle cx="549.01" cy="394.73" r="1.65" fill="#6cb04a" stroke="#00000099" stroke-width="0.35"/>
<circle cx="546.66" cy="393.69" r="1.65" fill="#6cb04a" stroke="#00000099" stroke-width="0.35"/>
<circle cx="548.89" cy="389.56" r="1.65" fill="#6cb04a" stroke="#00000099" stroke-width="0.35"/>
<text font-size="6.6" text-anchor="end" transform="translate(548.3 447.8) rotate(-45) scale(1.12 1)">Con</text>
<rect x="554.8" y="391.62" width="7.8" height="46.57" fill="#aab3e0" stroke="#5a68b8" stroke-width="0.5"/>
<line x1="558.7" y1="438.2" x2="558.7" y2="441.2" stroke="#4a4a4a" stroke-width="0.6"/>
<path d="M558.7 388.52V394.73M557.4 388.52H560M557.4 394.73H560" stroke="#333" stroke-width="0.5" fill="none"/>
<circle cx="560.7" cy="403.01" r="1.65" fill="#5b6cc4" stroke="#00000099" stroke-width="0.35"/>
<circle cx="557.09" cy="396.8" r="1.65" fill="#5b6cc4" stroke="#00000099" stroke-width="0.35"/>
<circle cx="560.08" cy="392.66" r="1.65" fill="#5b6cc4" stroke="#00000099" stroke-width="0.35"/>
<circle cx="560.77" cy="389.56" r="1.65" fill="#5b6cc4" stroke="#00000099" stroke-width="0.35"/>
<circle cx="556.61" cy="388.52" r="1.65" fill="#5b6cc4" stroke="#00000099" stroke-width="0.35"/>
<circle cx="557.98" cy="384.38" r="1.65" fill="#5b6cc4" stroke="#00000099" stroke-width="0.35"/>
<text font-size="6.6" text-anchor="end" transform="translate(560.3 447.8) rotate(-45) scale(1.12 1)">IPA1</text>
<rect x="567.1" y="398.87" width="7.8" height="39.33" fill="#b08a70" stroke="#6f4226" stroke-width="0.5"/>
<line x1="571" y1="438.2" x2="571" y2="441.2" stroke="#4a4a4a" stroke-width="0.6"/>
<path d="M571 395.76V401.98M569.7 395.76H572.3M569.7 401.98H572.3" stroke="#333" stroke-width="0.5" fill="none"/>
<circle cx="572.23" cy="411.29" r="1.65" fill="#7a4527" stroke="#00000099" stroke-width="0.35"/>
<circle cx="569.36" cy="410.25" r="1.65" fill="#7a4527" stroke="#00000099" stroke-width="0.35"/>
<circle cx="572.9" cy="404.05" r="1.65" fill="#7a4527" stroke="#00000099" stroke-width="0.35"/>
<circle cx="569.92" cy="398.87" r="1.65" fill="#7a4527" stroke="#00000099" stroke-width="0.35"/>
<circle cx="572.52" cy="393.69" r="1.65" fill="#7a4527" stroke="#00000099" stroke-width="0.35"/>
<circle cx="569.29" cy="390.59" r="1.65" fill="#7a4527" stroke="#00000099" stroke-width="0.35"/>
<circle cx="571.01" cy="386.45" r="1.65" fill="#7a4527" stroke="#00000099" stroke-width="0.35"/>
<text font-size="6.6" text-anchor="end" transform="translate(572.6 447.8) rotate(-45) scale(1.12 1)">IPA10</text>
<rect x="579.1" y="401.97" width="7.8" height="36.23" fill="#a3caea" stroke="#3d86c6" stroke-width="0.5"/>
<line x1="583" y1="438.2" x2="583" y2="441.2" stroke="#4a4a4a" stroke-width="0.6"/>
<path d="M583 398.87V405.08M581.7 398.87H584.3M581.7 405.08H584.3" stroke="#333" stroke-width="0.5" fill="none"/>
<circle cx="585.02" cy="405.08" r="1.65" fill="#2f8fd3" stroke="#00000099" stroke-width="0.35"/>
<circle cx="581.6" cy="404.05" r="1.65" fill="#2f8fd3" stroke="#00000099" stroke-width="0.35"/>
<circle cx="581.86" cy="403.01" r="1.65" fill="#2f8fd3" stroke="#00000099" stroke-width="0.35"/>
<circle cx="583.03" cy="401.97" r="1.65" fill="#2f8fd3" stroke="#00000099" stroke-width="0.35"/>
<circle cx="582.13" cy="400.94" r="1.65" fill="#2f8fd3" stroke="#00000099" stroke-width="0.35"/>
<text font-size="6.6" text-anchor="end" transform="translate(584.6 447.8) rotate(-45) scale(1.12 1)">IPA100</text>
<rect x="591.1" y="387.49" width="7.8" height="50.71" fill="#f7d792" stroke="#d9a441" stroke-width="0.5"/>
<line x1="595" y1="438.2" x2="595" y2="441.2" stroke="#4a4a4a" stroke-width="0.6"/>
<path d="M595 384.38V390.59M593.7 384.38H596.3M593.7 390.59H596.3" stroke="#333" stroke-width="0.5" fill="none"/>
<circle cx="592.78" cy="400.94" r="1.65" fill="#eaaa3c" stroke="#00000099" stroke-width="0.35"/>
<circle cx="593.47" cy="394.73" r="1.65" fill="#eaaa3c" stroke="#00000099" stroke-width="0.35"/>
<circle cx="593.37" cy="387.49" r="1.65" fill="#eaaa3c" stroke="#00000099" stroke-width="0.35"/>
<circle cx="597.09" cy="381.27" r="1.65" fill="#eaaa3c" stroke="#00000099" stroke-width="0.35"/>
<circle cx="595.86" cy="378.17" r="1.65" fill="#eaaa3c" stroke="#00000099" stroke-width="0.35"/>
<text font-size="6.6" text-anchor="end" transform="translate(596.6 447.8) rotate(-45) scale(1.12 1)">IPA1000</text>
<rect x="603.4" y="368.86" width="7.8" height="69.34" fill="#f5957b" stroke="#d8432f" stroke-width="0.5"/>
<line x1="607.3" y1="438.2" x2="607.3" y2="441.2" stroke="#4a4a4a" stroke-width="0.6"/>
<path d="M607.3 365.75V371.96M606 365.75H608.6M606 371.96H608.6" stroke="#333" stroke-width="0.5" fill="none"/>
<circle cx="609.2" cy="376.1" r="1.65" fill="#e8323a" stroke="#00000099" stroke-width="0.35"/>
<circle cx="605.71" cy="371.96" r="1.65" fill="#e8323a" stroke="#00000099" stroke-width="0.35"/>
<circle cx="608.67" cy="369.89" r="1.65" fill="#e8323a" stroke="#00000099" stroke-width="0.35"/>
<circle cx="605.45" cy="366.78" r="1.65" fill="#e8323a" stroke="#00000099" stroke-width="0.35"/>
<circle cx="607.45" cy="365.75" r="1.65" fill="#e8323a" stroke="#00000099" stroke-width="0.35"/>
<circle cx="607.95" cy="363.68" r="1.65" fill="#e8323a" stroke="#00000099" stroke-width="0.35"/>
<text font-size="6.6" text-anchor="end" transform="translate(608.9 447.8) rotate(-45) scale(1.12 1)">CD3/CD28</text>
<rect x="615.4" y="377.65" width="7.8" height="60.55" fill="#6673c0" stroke="#3d4a9c" stroke-width="0.5"/>
<line x1="619.3" y1="438.2" x2="619.3" y2="441.2" stroke="#4a4a4a" stroke-width="0.6"/>
<path d="M619.3 374.55V380.76M618 374.55H620.6M618 380.76H620.6" stroke="#333" stroke-width="0.5" fill="none"/>
<circle cx="618.63" cy="387.49" r="1.65" fill="#7e8ad8" stroke="#00000099" stroke-width="0.35"/>
<circle cx="621.09" cy="381.27" r="1.65" fill="#7e8ad8" stroke="#00000099" stroke-width="0.35"/>
<circle cx="619.56" cy="378.17" r="1.65" fill="#7e8ad8" stroke="#00000099" stroke-width="0.35"/>
<circle cx="619.68" cy="376.1" r="1.65" fill="#7e8ad8" stroke="#00000099" stroke-width="0.35"/>
<circle cx="621.14" cy="371.96" r="1.65" fill="#7e8ad8" stroke="#00000099" stroke-width="0.35"/>
<circle cx="617.4" cy="368.86" r="1.65" fill="#7e8ad8" stroke="#00000099" stroke-width="0.35"/>
<rect x="627.4" y="374.03" width="7.8" height="64.17" fill="#7a4424" stroke="#4e2a12" stroke-width="0.5"/>
<line x1="631.3" y1="438.2" x2="631.3" y2="441.2" stroke="#4a4a4a" stroke-width="0.6"/>
<path d="M631.3 370.92V377.13M630 370.92H632.6M630 377.13H632.6" stroke="#333" stroke-width="0.5" fill="none"/>
<circle cx="633.67" cy="378.17" r="1.65" fill="#86502f" stroke="#00000099" stroke-width="0.35"/>
<circle cx="631.92" cy="376.1" r="1.65" fill="#86502f" stroke="#00000099" stroke-width="0.35"/>
<circle cx="630.79" cy="375.06" r="1.65" fill="#86502f" stroke="#00000099" stroke-width="0.35"/>
<circle cx="632.73" cy="374.03" r="1.65" fill="#86502f" stroke="#00000099" stroke-width="0.35"/>
<circle cx="630.17" cy="373" r="1.65" fill="#86502f" stroke="#00000099" stroke-width="0.35"/>
<circle cx="633.65" cy="373" r="1.65" fill="#86502f" stroke="#00000099" stroke-width="0.35"/>
<rect x="639.4" y="389.56" width="7.8" height="48.64" fill="#1f92d6" stroke="#146aa3" stroke-width="0.5"/>
<line x1="643.3" y1="438.2" x2="643.3" y2="441.2" stroke="#4a4a4a" stroke-width="0.6"/>
<path d="M643.3 386.45V392.66M642 386.45H644.6M642 392.66H644.6" stroke="#333" stroke-width="0.5" fill="none"/>
<circle cx="643.67" cy="394.73" r="1.65" fill="#2b9fe3" stroke="#00000099" stroke-width="0.35"/>
<circle cx="642.63" cy="392.66" r="1.65" fill="#2b9fe3" stroke="#00000099" stroke-width="0.35"/>
<circle cx="644.57" cy="390.59" r="1.65" fill="#2b9fe3" stroke="#00000099" stroke-width="0.35"/>
<circle cx="643.02" cy="388.52" r="1.65" fill="#2b9fe3" stroke="#00000099" stroke-width="0.35"/>
<circle cx="641.75" cy="387.49" r="1.65" fill="#2b9fe3" stroke="#00000099" stroke-width="0.35"/>
<circle cx="644.47" cy="386.45" r="1.65" fill="#2b9fe3" stroke="#00000099" stroke-width="0.35"/>
<rect x="651.5" y="385.41" width="7.8" height="52.79" fill="#eab73c" stroke="#c08f1e" stroke-width="0.5"/>
<line x1="655.4" y1="438.2" x2="655.4" y2="441.2" stroke="#4a4a4a" stroke-width="0.6"/>
<path d="M655.4 382.31V388.52M654.1 382.31H656.7M654.1 388.52H656.7" stroke="#333" stroke-width="0.5" fill="none"/>
<circle cx="653.23" cy="387.49" r="1.65" fill="#f3c64c" stroke="#00000099" stroke-width="0.35"/>
<circle cx="656.94" cy="386.45" r="1.65" fill="#f3c64c" stroke="#00000099" stroke-width="0.35"/>
<circle cx="654.22" cy="385.41" r="1.65" fill="#f3c64c" stroke="#00000099" stroke-width="0.35"/>
<circle cx="656.07" cy="384.38" r="1.65" fill="#f3c64c" stroke="#00000099" stroke-width="0.35"/>
<circle cx="657.72" cy="383.34" r="1.65" fill="#f3c64c" stroke="#00000099" stroke-width="0.35"/>
<circle cx="655.81" cy="378.17" r="1.65" fill="#f3c64c" stroke="#00000099" stroke-width="0.35"/>
<circle cx="583.1" cy="390.07" r="1.65" fill="#2f8fd3" stroke="#00000099" stroke-width="0.35"/>
<path d="M607.3 347V338.3H655.4V374.6" stroke="#555" stroke-width="0.5" fill="none"/>
<text font-size="5.4" text-anchor="middle" transform="translate(631.8 336) scale(1.12 1)">0.0078</text>
<path d="M546.7 389.9V354.1H606.3V359.7" stroke="#555" stroke-width="0.5" fill="none"/>
<text font-size="5.4" text-anchor="middle" transform="translate(578.7 350.6) scale(1.12 1)">&lt;0.0001</text>
<path d="M608.3 359.7V354.1H643.3V383.5" stroke="#555" stroke-width="0.5" fill="none"/>
<text font-size="5.4" text-anchor="middle" transform="translate(626.5 351.3) scale(1.12 1)">0.0001</text>
<path d="M614.5 453.3L655.9 453.3L655.9 446.6Z" stroke="none" stroke-width="0.6" fill="#111"/>
<text font-size="6.6" text-anchor="middle" transform="translate(634.1 466.8) scale(1.12 1)">CD3/CD28 + IPA</text>
<text font-size="6.6" text-anchor="middle" transform="translate(523.2 396.9) rotate(-90) scale(1.12 1)">Concentration (µM)</text>
<text font-size="12" transform="translate(2 493) scale(1.05 1)" font-weight="bold" fill="#000">j</text>
<text font-size="5.6" text-anchor="middle" transform="translate(103.7 496) scale(1.12 1)">Con</text>
<text font-size="5.6" text-anchor="middle" transform="translate(224.8 496) scale(1.12 1)">IPA1000</text>
<text font-size="5.6" text-anchor="middle" transform="translate(103.7 635) scale(1.12 1)">CD3/CD28</text>
<text font-size="5.6" text-anchor="middle" transform="translate(224.8 635) scale(1.12 1)">CD3/CD28 + IPA1000</text>
<g clip-path="url(#cj1)">
<rect x="46" y="499.4" width="115.6" height="114.6" fill="#b6b6b6"/>
<path d="M89.97 497.81L90.52 514.1L96.31 526.77L103.55 538L118.03 543.43L126.72 550.31L128.89 564.79L137.94 572.03L148.81 581.08L154.6 593.76L163.29 602.81L163.29 497.81Z" fill="#929292" filter="url(#b1)"/>
<ellipse cx="157.86" cy="506.86" rx="9.05" ry="10.86" transform="rotate(0 157.86 506.86)" fill="#a8a8a8" filter="url(#b3)" opacity="0.8"/>
<ellipse cx="110.79" cy="531.3" rx="6.15" ry="3.62" transform="rotate(20 110.79 531.3)" fill="#bdbdbd" filter="url(#b1)" opacity="0.9"/>
<ellipse cx="140.66" cy="543.43" rx="4.71" ry="2.9" transform="rotate(0 140.66 543.43)" fill="#b4b4b4" filter="url(#b1)" opacity="0.8"/>
<ellipse cx="96.31" cy="506.86" rx="3.98" ry="2.9" transform="rotate(0 96.31 506.86)" fill="#a6a6a6" filter="url(#b1)" opacity="0.8"/>
<ellipse cx="128.89" cy="521.34" rx="19.01" ry="12.67" transform="rotate(10 128.89 521.34)" fill="#6a6a6a" filter="url(#b3)" opacity="0.9"/>
<ellipse cx="128.53" cy="521.34" rx="9.96" ry="6.52" transform="rotate(10 128.53 521.34)" fill="#3c3c3c" filter="url(#b3)" opacity="0.95"/>
<path d="M101.74 540.53L118.03 543.43L126.72 550.31L128.89 564.79L137.94 572.03L148.81 581.08" fill="none" stroke="#cfcfcf" stroke-width="1.3" filter="url(#b1)" opacity="0.8"/>
<path d="M43.81 563.34L52.86 566.6L60.1 577.46L65.53 590.13L72.77 602.81L80.92 611.86L89.07 615.48L43.81 615.48Z" fill="#d3d3d3" filter="url(#b1)"/>
<path d="M43.81 597.38L49.6 600.09L51.41 611.86L51.41 615.48L43.81 615.48Z" fill="#a4a4a4" filter="url(#b1)" opacity="0.8"/>
<path d="M52.86 566.6L60.1 577.46L65.53 590.13L72.77 602.81L80.92 611.86" fill="none" stroke="#9a9a9a" stroke-width="0.8" filter="url(#b1)" opacity="0.7"/>
<ellipse cx="79.11" cy="534.92" rx="9.41" ry="11.22" transform="rotate(-35 79.11 534.92)" fill="#979797" filter="url(#b1)"/>
<ellipse cx="98.48" cy="555.02" rx="17.38" ry="7.24" transform="rotate(18 98.48 555.02)" fill="#8f8f8f" filter="url(#b1)"/>
<ellipse cx="132.51" cy="588.32" rx="11.95" ry="5.79" transform="rotate(-32 132.51 588.32)" fill="#949494" filter="url(#b1)"/>
<ellipse cx="133.42" cy="587.42" rx="10.86" ry="1.45" transform="rotate(-32 133.42 587.42)" fill="#6f6f6f" filter="url(#b1)" opacity="0.7"/>
<ellipse cx="104.45" cy="589.23" rx="2.9" ry="2.9" transform="rotate(0 104.45 589.23)" fill="#d6d6d6" filter="url(#b1)" opacity="0.9"/>
<ellipse cx="105.36" cy="603.17" rx="2.35" ry="2.35" transform="rotate(0 105.36 603.17)" fill="#d6d6d6" filter="url(#b1)" opacity="0.9"/>
<ellipse cx="89.43" cy="581.08" rx="2.17" ry="2.17" transform="rotate(0 89.43 581.08)" fill="#d6d6d6" filter="url(#b1)" opacity="0.9"/>
<ellipse cx="114.41" cy="606.79" rx="1.81" ry="1.81" transform="rotate(0 114.41 606.79)" fill="#d6d6d6" filter="url(#b1)" opacity="0.9"/>
<ellipse cx="99.93" cy="604.62" rx="1.45" ry="1.45" transform="rotate(0 99.93 604.62)" fill="#d6d6d6" filter="url(#b1)" opacity="0.9"/>
<ellipse cx="93.59" cy="590.13" rx="1.27" ry="1.27" transform="rotate(0 93.59 590.13)" fill="#d6d6d6" filter="url(#b1)" opacity="0.9"/>
<rect x="46" y="499.4" width="115.6" height="114.6" filter="url(#grain)" style="mix-blend-mode:overlay" opacity="0.42"/>
</g>
<g clip-path="url(#cj2)">
<rect x="168" y="499.4" width="114.5" height="114.6" fill="#d0d0d0"/>
<ellipse cx="174.86" cy="506.86" rx="36.21" ry="28.96" transform="rotate(0 174.86 506.86)" fill="#bcbcbc" filter="url(#b6)" opacity="0.9"/>
<ellipse cx="167.62" cy="550.31" rx="10.86" ry="36.21" transform="rotate(0 167.62 550.31)" fill="#b8b8b8" filter="url(#b6)" opacity="0.8"/>
<path d="M165.81 562.08L171.24 553.93L176.67 544.88L182.1 540.35L194.77 536.73L209.26 531.48L218.31 533.29L227.36 527.86L240.03 524.96L250.89 529.67L259.94 526.77L265.38 531.48L269 523.15L271.71 520.44L273.7 524.96L274.79 531.3L279.86 534.92L285.29 538.54L285.29 617.29L165.81 617.29Z" fill="#adadad" filter="url(#b1)"/>
<path d="M165.81 562.08L171.24 553.93L176.67 544.88L182.1 540.35L194.77 536.73L209.26 531.48L218.31 533.29L227.36 527.86L240.03 524.96L250.89 529.67L259.94 526.77L265.38 531.48L269 523.15L271.71 520.44L273.7 524.96L274.79 531.3L279.86 534.92L285.29 538.54" fill="none" stroke="#8a8a8a" stroke-width="0.7" opacity="0.8"/>
<path d="M165.81 572.94L182.1 566.96L200.21 568.41L216.5 577.46L225.55 590.13L227.72 604.62L225.55 617.29L165.81 617.29Z" fill="#858585" filter="url(#b1)"/>
<ellipse cx="182.1" cy="586.51" rx="4.71" ry="3.98" transform="rotate(0 182.1 586.51)" fill="#a0a0a0" filter="url(#b1)" opacity="0.9"/>
<ellipse cx="191.15" cy="604.62" rx="27.15" ry="12.67" transform="rotate(0 191.15 604.62)" fill="#747474" filter="url(#b3)" opacity="0.5"/>
<path d="M285.29 557.19L272.62 556.64L261.76 562.98L252.7 572.03L248.18 582.89L249.08 593.76L254.51 604.62L258.13 617.29L285.29 617.29Z" fill="#838383" filter="url(#b1)"/>
<ellipse cx="253.61" cy="584.7" rx="2.53" ry="2.53" transform="rotate(0 253.61 584.7)" fill="#a5a5a5" filter="url(#b1)" opacity="0.9"/>
<ellipse cx="258.13" cy="600.63" rx="3.98" ry="2.53" transform="rotate(0 258.13 600.63)" fill="#9c9c9c" filter="url(#b1)" opacity="0.8"/>
<ellipse cx="206.54" cy="553.93" rx="13.76" ry="11.59" transform="rotate(-15 206.54 553.93)" fill="#9d9d9d" stroke="#787878" stroke-width="0.7" filter="url(#b1)"/>
<ellipse cx="248.18" cy="545.78" rx="11.22" ry="10.5" transform="rotate(0 248.18 545.78)" fill="#9d9d9d" stroke="#787878" stroke-width="0.7" filter="url(#b1)"/>
<ellipse cx="228.27" cy="554.29" rx="6.15" ry="10.86" transform="rotate(10 228.27 554.29)" fill="#a6a6a6" stroke="#808080" stroke-width="0.6" filter="url(#b1)"/>
<ellipse cx="236.41" cy="584.7" rx="7.24" ry="14.84" transform="rotate(-8 236.41 584.7)" fill="#aaaaaa" stroke="#7c7c7c" stroke-width="0.7" filter="url(#b1)"/>
<rect x="168" y="499.4" width="114.5" height="114.6" filter="url(#grain)" style="mix-blend-mode:overlay" opacity="0.36"/>
<path d="M165.81 497.81L285.29 497.81L285.29 534.92L274.79 528.59L271.71 517.72L267.19 528.59L259.94 524.06L250.89 526.77L240.03 522.25L227.36 524.96L218.31 530.4L209.26 528.59L194.77 534.02L182.1 537.64L174.86 544.88L169.43 553.93L165.81 559.36Z" fill="#cccccc" filter="url(#b1)" opacity="0.65"/>
</g>
<g clip-path="url(#cj3)">
<rect x="46" y="640" width="115.6" height="114.6" fill="#bbbbbb"/>
<path d="M43.81 637.81L102.64 637.81L97.21 654.1L93.05 668.59L85.45 683.43L74.59 697.55L60.1 708.77L49.24 712.76L43.81 712.76Z" fill="#989898" filter="url(#b1)"/>
<path d="M43.81 712.76L49.24 712.76L60.1 708.77L74.59 697.55L85.45 683.43L78.21 681.26L69.15 693.93L56.48 699.36L43.81 697.55Z" fill="#6c6c6c" filter="url(#b3)" opacity="0.95"/>
<ellipse cx="52.86" cy="666.77" rx="7.24" ry="12.67" transform="rotate(0 52.86 666.77)" fill="#7c7c7c" filter="url(#b3)" opacity="0.8"/>
<ellipse cx="98.12" cy="644.15" rx="5.43" ry="7.24" transform="rotate(0 98.12 644.15)" fill="#6e6e6e" filter="url(#b3)" opacity="0.9"/>
<ellipse cx="65.53" cy="646.86" rx="16.29" ry="5.43" transform="rotate(0 65.53 646.86)" fill="#888" filter="url(#b3)" opacity="0.7"/>
<ellipse cx="78.21" cy="668.59" rx="7.24" ry="9.05" transform="rotate(0 78.21 668.59)" fill="#b0b0b0" filter="url(#b3)" opacity="0.6"/>
<ellipse cx="63.72" cy="681.26" rx="7.24" ry="5.43" transform="rotate(0 63.72 681.26)" fill="#a8a8a8" filter="url(#b3)" opacity="0.5"/>
<ellipse cx="123.46" cy="701.17" rx="18.1" ry="20.28" transform="rotate(20 123.46 701.17)" fill="#a6a6a6" stroke="#8c8c8c" stroke-width="0.7" filter="url(#b1)"/>
<ellipse cx="121.65" cy="708.41" rx="7.24" ry="9.05" transform="rotate(0 121.65 708.41)" fill="#c2c2c2" filter="url(#b1)" opacity="0.8"/>
<ellipse cx="130.7" cy="663.15" rx="9.41" ry="13.76" transform="rotate(-32 130.7 663.15)" fill="#a9a9a9" stroke="#8e8e8e" stroke-width="0.7" filter="url(#b1)"/>
<ellipse cx="153.88" cy="663.15" rx="8.33" ry="16.65" transform="rotate(5 153.88 663.15)" fill="#a8a8a8" stroke="#8e8e8e" stroke-width="0.7" filter="url(#b1)"/>
<ellipse cx="89.97" cy="733.76" rx="8.69" ry="16.65" transform="rotate(15 89.97 733.76)" fill="#a6a6a6" stroke="#8e8e8e" stroke-width="0.6" filter="url(#b1)"/>
<ellipse cx="154.24" cy="713.84" rx="9.05" ry="14.48" transform="rotate(0 154.24 713.84)" fill="#aaaaaa" filter="url(#b3)" opacity="0.7"/>
<rect x="46" y="640" width="115.6" height="114.6" filter="url(#grain)" style="mix-blend-mode:overlay" opacity="0.45"/>
</g>
<g clip-path="url(#cj4)">
<rect x="168" y="640" width="114.5" height="114.6" fill="#b9b9b9"/>
<ellipse cx="167.62" cy="681.26" rx="12.67" ry="28.96" transform="rotate(0 167.62 681.26)" fill="#9c9c9c" filter="url(#b3)" opacity="0.85"/>
<ellipse cx="174.86" cy="646.86" rx="14.48" ry="9.05" transform="rotate(0 174.86 646.86)" fill="#a4a4a4" filter="url(#b3)" opacity="0.7"/>
<ellipse cx="245.46" cy="644.69" rx="8.33" ry="6.15" transform="rotate(0 245.46 644.69)" fill="#e2e2e2" filter="url(#b2)"/>
<ellipse cx="281.31" cy="645.05" rx="3.26" ry="4.71" transform="rotate(0 281.31 645.05)" fill="#dedede" filter="url(#b2)"/>
<ellipse cx="283.48" cy="722.89" rx="3.62" ry="7.24" transform="rotate(0 283.48 722.89)" fill="#cfcfcf" filter="url(#b3)"/>
<ellipse cx="206.54" cy="684.88" rx="17.74" ry="27.15" transform="rotate(22 206.54 684.88)" fill="#b4b4b4" stroke="#858585" stroke-width="0.6"/>
<ellipse cx="206.54" cy="684.88" rx="13.4" ry="22.45" transform="rotate(22 206.54 684.88)" fill="none" stroke="#858585" stroke-width="0.5" opacity="0.9"/>
<ellipse cx="206.54" cy="685.78" rx="9.05" ry="17.74" transform="rotate(22 206.54 685.78)" fill="none" stroke="#858585" stroke-width="0.5" opacity="0.9"/>
<ellipse cx="207.45" cy="695.74" rx="6.15" ry="9.05" transform="rotate(22 207.45 695.74)" fill="#c2c2c2" stroke="#858585" stroke-width="0.5" opacity="0.9"/>
<ellipse cx="249.08" cy="701.17" rx="21.36" ry="24.98" transform="rotate(-10 249.08 701.17)" fill="#b6b6b6" stroke="#858585" stroke-width="0.6"/>
<ellipse cx="254.51" cy="690.31" rx="10.86" ry="9.78" transform="rotate(0 254.51 690.31)" fill="none" stroke="#858585" stroke-width="0.5" opacity="0.9"/>
<ellipse cx="253.61" cy="690.31" rx="6.52" ry="5.43" transform="rotate(0 253.61 690.31)" fill="#c6c6c6" stroke="#858585" stroke-width="0.5" opacity="0.9"/>
<ellipse cx="240.03" cy="706.6" rx="9.05" ry="12.67" transform="rotate(0 240.03 706.6)" fill="none" stroke="#858585" stroke-width="0.5" opacity="0.9"/>
<ellipse cx="198.4" cy="737.38" rx="11.95" ry="20.28" transform="rotate(20 198.4 737.38)" fill="#b2b2b2" stroke="#858585" stroke-width="0.6"/>
<ellipse cx="198.4" cy="737.38" rx="7.97" ry="16.65" transform="rotate(20 198.4 737.38)" fill="none" stroke="#858585" stroke-width="0.5" opacity="0.9"/>
<ellipse cx="198.4" cy="737.38" rx="3.98" ry="13.4" transform="rotate(20 198.4 737.38)" fill="none" stroke="#858585" stroke-width="0.5" opacity="0.9"/>
<path d="M167.62 751.86L178.48 737.38L191.15 722.89L200.21 715.65" fill="none" stroke="#858585" stroke-width="0.5" opacity="0.9"/>
<path d="M178.48 639.62L185.72 650.48L200.21 655.91L218.31 652.29" fill="none" stroke="#858585" stroke-width="0.5" opacity="0.9"/>
<path d="M169.43 664.96L174.86 654.1L176.67 643.24" fill="none" stroke="#858585" stroke-width="0.5" opacity="0.9"/>
<path d="M216.5 715.65L221.93 726.51L232.79 737.38L245.46 748.24L249.08 754.57L240.03 754.57L227.36 742.81L218.31 731.94L214.69 721.08Z" fill="#787878" filter="url(#b2)" opacity="0.85"/>
<ellipse cx="222.29" cy="727.42" rx="3.98" ry="5.07" transform="rotate(0 222.29 727.42)" fill="#505050" filter="url(#b2)" opacity="0.85"/>
<path d="M218.31 717.46L223.74 726.51L236.41 730.13" fill="none" stroke="#6e6e6e" stroke-width="0.4" opacity="0.8"/>
<path d="M219.39 718.19L225.91 726.88L237.86 730.68" fill="none" stroke="#6e6e6e" stroke-width="0.4" opacity="0.8"/>
<path d="M220.48 718.91L228.08 727.24L239.31 731.22" fill="none" stroke="#6e6e6e" stroke-width="0.4" opacity="0.8"/>
<path d="M221.57 719.64L230.26 727.6L240.76 731.76" fill="none" stroke="#6e6e6e" stroke-width="0.4" opacity="0.8"/>
<path d="M222.65 720.36L232.43 727.96L242.2 732.31" fill="none" stroke="#6e6e6e" stroke-width="0.4" opacity="0.8"/>
<path d="M223.74 721.08L234.6 728.32L243.65 732.85" fill="none" stroke="#6e6e6e" stroke-width="0.4" opacity="0.8"/>
<rect x="168" y="640" width="114.5" height="114.6" filter="url(#grain)" style="mix-blend-mode:overlay" opacity="0.42"/>
</g>
<rect x="133.1" y="602.2" width="28.5" height="8.6" fill="#cfcfcf" fill-opacity="0.6"/>
<text font-size="6.4" text-anchor="middle" transform="translate(147.4 609.1) scale(1.12 1)" fill="#111">500 nm</text>
<rect x="136.6" y="610.6" width="23.4" height="2.6" fill="#000"/>
<rect x="254" y="602.2" width="28.5" height="8.6" fill="#cfcfcf" fill-opacity="0.6"/>
<text font-size="6.4" text-anchor="middle" transform="translate(268.3 609.1) scale(1.12 1)" fill="#111">500 nm</text>
<rect x="257.5" y="610.6" width="23.4" height="2.6" fill="#000"/>
<rect x="133.1" y="742.8" width="28.5" height="8.6" fill="#cfcfcf" fill-opacity="0.6"/>
<text font-size="6.4" text-anchor="middle" transform="translate(147.4 749.7) scale(1.12 1)" fill="#111">500 nm</text>
<rect x="136.6" y="751.2" width="23.4" height="2.6" fill="#000"/>
<rect x="254" y="742.8" width="28.5" height="8.6" fill="#cfcfcf" fill-opacity="0.6"/>
<text font-size="6.4" text-anchor="middle" transform="translate(268.3 749.7) scale(1.12 1)" fill="#111">500 nm</text>
<rect x="257.5" y="751.2" width="23.4" height="2.6" fill="#000"/>
<text font-size="12" transform="translate(288.5 492.2) scale(1.05 1)" font-weight="bold" fill="#000">k</text>
<text font-size="6.8" text-anchor="middle" transform="translate(342.2 494.2) scale(1.12 1)">Number</text>
<line x1="313.4" y1="535.4" x2="313.4" y2="593.2" stroke="#4a4a4a" stroke-width="0.6"/>
<line x1="310.4" y1="593.2" x2="313.4" y2="593.2" stroke="#4a4a4a" stroke-width="0.6"/>
<text font-size="5.8" text-anchor="end" transform="translate(309.2 595.23) scale(1.12 1)">0</text>
<line x1="310.4" y1="581.64" x2="313.4" y2="581.64" stroke="#4a4a4a" stroke-width="0.6"/>
<text font-size="5.8" text-anchor="end" transform="translate(309.2 583.67) scale(1.12 1)">2</text>
<line x1="310.4" y1="570.08" x2="313.4" y2="570.08" stroke="#4a4a4a" stroke-width="0.6"/>
<text font-size="5.8" text-anchor="end" transform="translate(309.2 572.11) scale(1.12 1)">4</text>
<line x1="310.4" y1="558.52" x2="313.4" y2="558.52" stroke="#4a4a4a" stroke-width="0.6"/>
<text font-size="5.8" text-anchor="end" transform="translate(309.2 560.55) scale(1.12 1)">6</text>
<line x1="310.4" y1="546.96" x2="313.4" y2="546.96" stroke="#4a4a4a" stroke-width="0.6"/>
<text font-size="5.8" text-anchor="end" transform="translate(309.2 548.99) scale(1.12 1)">8</text>
<line x1="310.4" y1="535.4" x2="313.4" y2="535.4" stroke="#4a4a4a" stroke-width="0.6"/>
<text font-size="5.8" text-anchor="end" transform="translate(309.2 537.43) scale(1.12 1)">10</text>
<line x1="313.4" y1="593.2" x2="371.8" y2="593.2" stroke="#4a4a4a" stroke-width="0.6"/>
<rect x="318.25" y="569.21" width="8.7" height="23.99" fill="#b9d7a3" stroke="#5e9c45" stroke-width="0.6"/>
<line x1="322.6" y1="593.2" x2="322.6" y2="596.2" stroke="#4a4a4a" stroke-width="0.6"/>
<path d="M322.6 567.01V571.41M320.1 567.01H325.1M320.1 571.41H325.1" stroke="#111" stroke-width="0.6" fill="none"/>
<text font-size="6.6" text-anchor="end" transform="translate(324.4 603.4) rotate(-45) scale(1.12 1)">Con</text>
<rect x="331.45" y="577.02" width="8.7" height="16.18" fill="#f7d792" stroke="#d9a441" stroke-width="0.6"/>
<line x1="335.8" y1="593.2" x2="335.8" y2="596.2" stroke="#4a4a4a" stroke-width="0.6"/>
<path d="M335.8 574.62V579.42M333.3 574.62H338.3M333.3 579.42H338.3" stroke="#111" stroke-width="0.6" fill="none"/>
<text font-size="6.6" text-anchor="end" transform="translate(337.6 603.4) rotate(-45) scale(1.12 1)">IPA</text>
<rect x="344.85" y="566.32" width="8.7" height="26.88" fill="#f5957b" stroke="#d8432f" stroke-width="0.6"/>
<line x1="349.2" y1="593.2" x2="349.2" y2="596.2" stroke="#4a4a4a" stroke-width="0.6"/>
<path d="M349.2 564.12V568.52M346.7 564.12H351.7M346.7 568.52H351.7" stroke="#111" stroke-width="0.6" fill="none"/>
<text font-size="6.6" text-anchor="end" transform="translate(351 603.4) rotate(-45) scale(1.12 1)">CD3/CD28</text>
<rect x="358.35" y="569.21" width="8.7" height="23.99" fill="#7f7b9c" stroke="#3b3860" stroke-width="0.6"/>
<line x1="362.7" y1="593.2" x2="362.7" y2="596.2" stroke="#4a4a4a" stroke-width="0.6"/>
<path d="M362.7 566.01V572.41M360.2 566.01H365.2M360.2 572.41H365.2" stroke="#111" stroke-width="0.6" fill="none"/>
<text font-size="6.6" text-anchor="end" transform="translate(364.5 603.4) rotate(-45) scale(1.12 1)">CD3/CD28</text>
<text font-size="6.6" text-anchor="end" transform="translate(370.9 609.6) rotate(-45) scale(1.12 1)">+IPA</text>
<text font-size="6.6" text-anchor="middle" transform="translate(296.8 564) rotate(-90) scale(1.12 1)">Number</text>
<circle cx="321.65" cy="581.64" r="1" fill="#111"/>
<circle cx="323.55" cy="581.64" r="1" fill="#111"/>
<circle cx="320.7" cy="575.86" r="1" fill="#111"/>
<circle cx="322.6" cy="575.86" r="1" fill="#111"/>
<circle cx="324.5" cy="575.86" r="1" fill="#111"/>
<circle cx="319.75" cy="570.08" r="1" fill="#111"/>
<circle cx="321.65" cy="570.08" r="1" fill="#111"/>
<circle cx="323.55" cy="570.08" r="1" fill="#111"/>
<circle cx="325.45" cy="570.08" r="1" fill="#111"/>
<circle cx="318.8" cy="558.52" r="1" fill="#111"/>
<circle cx="320.7" cy="558.52" r="1" fill="#111"/>
<circle cx="322.6" cy="558.52" r="1" fill="#111"/>
<circle cx="324.5" cy="558.52" r="1" fill="#111"/>
<circle cx="326.4" cy="558.52" r="1" fill="#111"/>
<circle cx="333.9" cy="587.42" r="1" fill="#111"/>
<circle cx="335.8" cy="587.42" r="1" fill="#111"/>
<circle cx="337.7" cy="587.42" r="1" fill="#111"/>
<circle cx="333.9" cy="581.64" r="1" fill="#111"/>
<circle cx="335.8" cy="581.64" r="1" fill="#111"/>
<circle cx="337.7" cy="581.64" r="1" fill="#111"/>
<circle cx="333.9" cy="575.86" r="1" fill="#111"/>
<circle cx="335.8" cy="575.86" r="1" fill="#111"/>
<circle cx="337.7" cy="575.86" r="1" fill="#111"/>
<circle cx="335.8" cy="570.08" r="1" fill="#111"/>
<circle cx="335.8" cy="552.74" r="1" fill="#111"/>
<circle cx="349.2" cy="575.86" r="1" fill="#111"/>
<circle cx="347.3" cy="570.08" r="1" fill="#111"/>
<circle cx="349.2" cy="570.08" r="1" fill="#111"/>
<circle cx="351.1" cy="570.08" r="1" fill="#111"/>
<circle cx="347.3" cy="564.3" r="1" fill="#111"/>
<circle cx="349.2" cy="564.3" r="1" fill="#111"/>
<circle cx="351.1" cy="564.3" r="1" fill="#111"/>
<circle cx="349.2" cy="546.96" r="1" fill="#111"/>
<circle cx="362.7" cy="587.42" r="1" fill="#111"/>
<circle cx="361.75" cy="581.64" r="1" fill="#111"/>
<circle cx="363.65" cy="581.64" r="1" fill="#111"/>
<circle cx="361.75" cy="570.08" r="1" fill="#111"/>
<circle cx="363.65" cy="570.08" r="1" fill="#111"/>
<circle cx="361.75" cy="564.3" r="1" fill="#111"/>
<circle cx="363.65" cy="564.3" r="1" fill="#111"/>
<circle cx="360.8" cy="558.52" r="1" fill="#111"/>
<circle cx="362.7" cy="558.52" r="1" fill="#111"/>
<circle cx="364.6" cy="558.52" r="1" fill="#111"/>
<text font-size="6.8" text-anchor="middle" transform="translate(441.5 494.2) scale(1.12 1)">Length</text>
<line x1="412.8" y1="535.4" x2="412.8" y2="593.2" stroke="#4a4a4a" stroke-width="0.6"/>
<line x1="409.8" y1="593.2" x2="412.8" y2="593.2" stroke="#4a4a4a" stroke-width="0.6"/>
<text font-size="5.8" text-anchor="end" transform="translate(408.6 595.23) scale(1.12 1)">0</text>
<line x1="409.8" y1="578.75" x2="412.8" y2="578.75" stroke="#4a4a4a" stroke-width="0.6"/>
<text font-size="5.8" text-anchor="end" transform="translate(408.6 580.78) scale(1.12 1)">500</text>
<line x1="409.8" y1="564.3" x2="412.8" y2="564.3" stroke="#4a4a4a" stroke-width="0.6"/>
<text font-size="5.8" text-anchor="end" transform="translate(408.6 566.33) scale(1.12 1)">1,000</text>
<line x1="409.8" y1="549.85" x2="412.8" y2="549.85" stroke="#4a4a4a" stroke-width="0.6"/>
<text font-size="5.8" text-anchor="end" transform="translate(408.6 551.88) scale(1.12 1)">1,500</text>
<line x1="409.8" y1="535.4" x2="412.8" y2="535.4" stroke="#4a4a4a" stroke-width="0.6"/>
<text font-size="5.8" text-anchor="end" transform="translate(408.6 537.43) scale(1.12 1)">2,000</text>
<line x1="412.8" y1="593.2" x2="471.2" y2="593.2" stroke="#4a4a4a" stroke-width="0.6"/>
<rect x="417.45" y="581.06" width="8.7" height="12.14" fill="#b9d7a3" stroke="#5e9c45" stroke-width="0.6"/>
<line x1="421.8" y1="593.2" x2="421.8" y2="596.2" stroke="#4a4a4a" stroke-width="0.6"/>
<path d="M421.8 579.86V582.26M419.3 579.86H424.3M419.3 582.26H424.3" stroke="#111" stroke-width="0.6" fill="none"/>
<text font-size="6.6" text-anchor="end" transform="translate(423.6 603.4) rotate(-45) scale(1.12 1)">Con</text>
<rect x="430.75" y="578.75" width="8.7" height="14.45" fill="#f7d792" stroke="#d9a441" stroke-width="0.6"/>
<line x1="435.1" y1="593.2" x2="435.1" y2="596.2" stroke="#4a4a4a" stroke-width="0.6"/>
<path d="M435.1 577.55V579.95M432.6 577.55H437.6M432.6 579.95H437.6" stroke="#111" stroke-width="0.6" fill="none"/>
<text font-size="6.6" text-anchor="end" transform="translate(436.9 603.4) rotate(-45) scale(1.12 1)">IPA</text>
<rect x="444.05" y="572.39" width="8.7" height="20.81" fill="#f5957b" stroke="#d8432f" stroke-width="0.6"/>
<line x1="448.4" y1="593.2" x2="448.4" y2="596.2" stroke="#4a4a4a" stroke-width="0.6"/>
<path d="M448.4 570.99V573.79M445.9 570.99H450.9M445.9 573.79H450.9" stroke="#111" stroke-width="0.6" fill="none"/>
<text font-size="6.6" text-anchor="end" transform="translate(450.2 603.4) rotate(-45) scale(1.12 1)">CD3/CD28</text>
<rect x="457.35" y="566.61" width="8.7" height="26.59" fill="#7f7b9c" stroke="#3b3860" stroke-width="0.6"/>
<line x1="461.7" y1="593.2" x2="461.7" y2="596.2" stroke="#4a4a4a" stroke-width="0.6"/>
<path d="M461.7 565.21V568.01M459.2 565.21H464.2M459.2 568.01H464.2" stroke="#111" stroke-width="0.6" fill="none"/>
<text font-size="6.6" text-anchor="end" transform="translate(463.5 603.4) rotate(-45) scale(1.12 1)">CD3/CD28</text>
<text font-size="6.6" text-anchor="end" transform="translate(469.9 609.6) rotate(-45) scale(1.12 1)">+IPA</text>
<text font-size="6.6" text-anchor="middle" transform="translate(384.4 564) rotate(-90) scale(1.12 1)">Length (nm)</text>
<circle cx="420.46" cy="590.93" r="1.1" fill="#111"/>
<circle cx="420.32" cy="586.58" r="1.1" fill="#111"/>
<circle cx="423.17" cy="583.15" r="1.1" fill="#111"/>
<circle cx="424.29" cy="577.01" r="1.1" fill="#111"/>
<circle cx="423.18" cy="585.44" r="1.1" fill="#111"/>
<circle cx="420.83" cy="589.58" r="1.1" fill="#111"/>
<circle cx="423.93" cy="583.93" r="1.1" fill="#111"/>
<circle cx="420.84" cy="583.91" r="1.1" fill="#111"/>
<circle cx="420.34" cy="581.61" r="1.1" fill="#111"/>
<circle cx="424.08" cy="585.75" r="1.1" fill="#111"/>
<circle cx="422.53" cy="582.74" r="1.1" fill="#111"/>
<circle cx="422.88" cy="575.99" r="1.1" fill="#111"/>
<circle cx="422.73" cy="586.58" r="1.1" fill="#111"/>
<circle cx="424.48" cy="580.98" r="1.1" fill="#111"/>
<circle cx="421.63" cy="579.06" r="1.1" fill="#111"/>
<circle cx="423.7" cy="584.97" r="1.1" fill="#111"/>
<circle cx="422.91" cy="580.9" r="1.1" fill="#111"/>
<circle cx="423.8" cy="583.98" r="1.1" fill="#111"/>
<circle cx="421.45" cy="583.04" r="1.1" fill="#111"/>
<circle cx="423.06" cy="579.76" r="1.1" fill="#111"/>
<circle cx="422.19" cy="576.83" r="1.1" fill="#111"/>
<circle cx="420.72" cy="582.17" r="1.1" fill="#111"/>
<circle cx="420.19" cy="585.3" r="1.1" fill="#111"/>
<circle cx="422.49" cy="579.11" r="1.1" fill="#111"/>
<circle cx="419.44" cy="581.96" r="1.1" fill="#111"/>
<circle cx="424.1" cy="586.7" r="1.1" fill="#111"/>
<circle cx="419.81" cy="581.33" r="1.1" fill="#111"/>
<circle cx="419.15" cy="580.94" r="1.1" fill="#111"/>
<circle cx="419.6" cy="586.18" r="1.1" fill="#111"/>
<circle cx="424.2" cy="584.54" r="1.1" fill="#111"/>
<circle cx="420.93" cy="577.14" r="1.1" fill="#111"/>
<circle cx="419.79" cy="580.01" r="1.1" fill="#111"/>
<circle cx="419.16" cy="578.02" r="1.1" fill="#111"/>
<circle cx="419.23" cy="582.84" r="1.1" fill="#111"/>
<circle cx="422.88" cy="582.96" r="1.1" fill="#111"/>
<circle cx="422.55" cy="587.36" r="1.1" fill="#111"/>
<circle cx="422.9" cy="588.97" r="1.1" fill="#111"/>
<circle cx="423.13" cy="579.54" r="1.1" fill="#111"/>
<circle cx="419.37" cy="578.01" r="1.1" fill="#111"/>
<circle cx="422.31" cy="584.95" r="1.1" fill="#111"/>
<circle cx="421.04" cy="583.12" r="1.1" fill="#111"/>
<circle cx="423.58" cy="582.25" r="1.1" fill="#111"/>
<circle cx="423.59" cy="580.94" r="1.1" fill="#111"/>
<circle cx="423.99" cy="585.58" r="1.1" fill="#111"/>
<circle cx="419.37" cy="589.91" r="1.1" fill="#111"/>
<circle cx="422.17" cy="545.51" r="1.1" fill="#111"/>
<circle cx="437.28" cy="572.03" r="1.1" fill="#111"/>
<circle cx="432.44" cy="582.12" r="1.1" fill="#111"/>
<circle cx="433.45" cy="585.59" r="1.1" fill="#111"/>
<circle cx="433.77" cy="574.87" r="1.1" fill="#111"/>
<circle cx="437.35" cy="574.65" r="1.1" fill="#111"/>
<circle cx="435.11" cy="581.05" r="1.1" fill="#111"/>
<circle cx="434.42" cy="583.94" r="1.1" fill="#111"/>
<circle cx="437.25" cy="582.13" r="1.1" fill="#111"/>
<circle cx="433.61" cy="579.56" r="1.1" fill="#111"/>
<circle cx="434.88" cy="581.43" r="1.1" fill="#111"/>
<circle cx="435.28" cy="576.31" r="1.1" fill="#111"/>
<circle cx="436.53" cy="580.66" r="1.1" fill="#111"/>
<circle cx="436.52" cy="578.77" r="1.1" fill="#111"/>
<circle cx="435.92" cy="577.53" r="1.1" fill="#111"/>
<circle cx="434.25" cy="579.67" r="1.1" fill="#111"/>
<circle cx="434.13" cy="575.49" r="1.1" fill="#111"/>
<circle cx="433.17" cy="576.45" r="1.1" fill="#111"/>
<circle cx="437.02" cy="581.97" r="1.1" fill="#111"/>
<circle cx="436.01" cy="584.09" r="1.1" fill="#111"/>
<circle cx="436.46" cy="582.65" r="1.1" fill="#111"/>
<circle cx="433.25" cy="582.17" r="1.1" fill="#111"/>
<circle cx="434.76" cy="570.78" r="1.1" fill="#111"/>
<circle cx="436.63" cy="578.9" r="1.1" fill="#111"/>
<circle cx="435.54" cy="575.12" r="1.1" fill="#111"/>
<circle cx="433.01" cy="578.86" r="1.1" fill="#111"/>
<circle cx="434.89" cy="574.54" r="1.1" fill="#111"/>
<circle cx="437.26" cy="572.04" r="1.1" fill="#111"/>
<circle cx="433.63" cy="581.99" r="1.1" fill="#111"/>
<circle cx="433.37" cy="578.83" r="1.1" fill="#111"/>
<circle cx="433.99" cy="577.31" r="1.1" fill="#111"/>
<circle cx="436.24" cy="575.26" r="1.1" fill="#111"/>
<circle cx="437.02" cy="575.28" r="1.1" fill="#111"/>
<circle cx="433.17" cy="580.27" r="1.1" fill="#111"/>
<circle cx="433.17" cy="579.86" r="1.1" fill="#111"/>
<circle cx="433.69" cy="584.19" r="1.1" fill="#111"/>
<circle cx="434.93" cy="561.7" r="1.1" fill="#111"/>
<circle cx="446.17" cy="577.94" r="1.1" fill="#111"/>
<circle cx="448.82" cy="577.26" r="1.1" fill="#111"/>
<circle cx="448.63" cy="566.04" r="1.1" fill="#111"/>
<circle cx="449.62" cy="556.79" r="1.1" fill="#111"/>
<circle cx="448.47" cy="573.51" r="1.1" fill="#111"/>
<circle cx="449.18" cy="564.12" r="1.1" fill="#111"/>
<circle cx="450.24" cy="572.58" r="1.1" fill="#111"/>
<circle cx="448.52" cy="568.33" r="1.1" fill="#111"/>
<circle cx="447.9" cy="576.88" r="1.1" fill="#111"/>
<circle cx="450.91" cy="582.29" r="1.1" fill="#111"/>
<circle cx="446.78" cy="564.24" r="1.1" fill="#111"/>
<circle cx="449.43" cy="571.31" r="1.1" fill="#111"/>
<circle cx="447.8" cy="572.04" r="1.1" fill="#111"/>
<circle cx="449.87" cy="569.12" r="1.1" fill="#111"/>
<circle cx="446.29" cy="565.71" r="1.1" fill="#111"/>
<circle cx="451.11" cy="572.67" r="1.1" fill="#111"/>
<circle cx="447.59" cy="565.48" r="1.1" fill="#111"/>
<circle cx="445.92" cy="576.4" r="1.1" fill="#111"/>
<circle cx="447.14" cy="561.1" r="1.1" fill="#111"/>
<circle cx="447.84" cy="566.8" r="1.1" fill="#111"/>
<circle cx="445.67" cy="567.32" r="1.1" fill="#111"/>
<circle cx="447.94" cy="572.22" r="1.1" fill="#111"/>
<circle cx="447.96" cy="568.56" r="1.1" fill="#111"/>
<circle cx="449.51" cy="572.87" r="1.1" fill="#111"/>
<circle cx="447.57" cy="566.46" r="1.1" fill="#111"/>
<circle cx="447.08" cy="575.96" r="1.1" fill="#111"/>
<circle cx="446.86" cy="572.2" r="1.1" fill="#111"/>
<circle cx="449.75" cy="573.06" r="1.1" fill="#111"/>
<circle cx="450.86" cy="558.78" r="1.1" fill="#111"/>
<circle cx="448.55" cy="567.94" r="1.1" fill="#111"/>
<circle cx="446.83" cy="573.43" r="1.1" fill="#111"/>
<circle cx="450.09" cy="555.81" r="1.1" fill="#111"/>
<circle cx="447.79" cy="570.43" r="1.1" fill="#111"/>
<circle cx="446.79" cy="564.52" r="1.1" fill="#111"/>
<circle cx="446.32" cy="570.93" r="1.1" fill="#111"/>
<circle cx="463.89" cy="561.19" r="1.1" fill="#111"/>
<circle cx="462.31" cy="567.85" r="1.1" fill="#111"/>
<circle cx="463.28" cy="572.69" r="1.1" fill="#111"/>
<circle cx="462.64" cy="569.94" r="1.1" fill="#111"/>
<circle cx="463.91" cy="560.95" r="1.1" fill="#111"/>
<circle cx="463.31" cy="567.86" r="1.1" fill="#111"/>
<circle cx="463.6" cy="566.54" r="1.1" fill="#111"/>
<circle cx="460.01" cy="560.54" r="1.1" fill="#111"/>
<circle cx="462.78" cy="560.06" r="1.1" fill="#111"/>
<circle cx="461.87" cy="569.5" r="1.1" fill="#111"/>
<circle cx="463.05" cy="568.59" r="1.1" fill="#111"/>
<circle cx="461.36" cy="582.46" r="1.1" fill="#111"/>
<circle cx="463.84" cy="571.42" r="1.1" fill="#111"/>
<circle cx="462.01" cy="570.98" r="1.1" fill="#111"/>
<circle cx="460.38" cy="568.55" r="1.1" fill="#111"/>
<circle cx="460.21" cy="564.54" r="1.1" fill="#111"/>
<circle cx="459.68" cy="557.35" r="1.1" fill="#111"/>
<circle cx="461.66" cy="578.15" r="1.1" fill="#111"/>
<circle cx="459.23" cy="558.26" r="1.1" fill="#111"/>
<circle cx="461.52" cy="575.01" r="1.1" fill="#111"/>
<circle cx="459.71" cy="565.03" r="1.1" fill="#111"/>
<circle cx="461.65" cy="581.19" r="1.1" fill="#111"/>
<circle cx="461.69" cy="564.6" r="1.1" fill="#111"/>
<circle cx="461.92" cy="576.31" r="1.1" fill="#111"/>
<circle cx="463.73" cy="572.5" r="1.1" fill="#111"/>
<circle cx="458.94" cy="570.07" r="1.1" fill="#111"/>
<circle cx="463.61" cy="558.32" r="1.1" fill="#111"/>
<circle cx="461.52" cy="574.2" r="1.1" fill="#111"/>
<circle cx="461.76" cy="547.54" r="1.1" fill="#111"/>
<path d="M421.3 511.5V507.8H461.6V543" stroke="#555" stroke-width="0.5" fill="none"/>
<text font-size="5.4" text-anchor="middle" transform="translate(441.5 506.2) scale(1.12 1)">&lt;0.0001</text>
<path d="M435.2 524.6V521.4H461.6V524.6" stroke="#555" stroke-width="0.5" fill="none"/>
<text font-size="5.4" text-anchor="middle" transform="translate(448.8 519) scale(1.12 1)">0.0001</text>
<path d="M421.3 539.8V536.3H448.5V548.6" stroke="#555" stroke-width="0.5" fill="none"/>
<text font-size="5.4" text-anchor="middle" transform="translate(434.7 535) scale(1.12 1)">0.0011</text>
<text font-size="6.8" text-anchor="middle" transform="translate(540.6 494.2) scale(1.12 1)">Width</text>
<line x1="510.2" y1="535.6" x2="510.2" y2="593.6" stroke="#4a4a4a" stroke-width="0.6"/>
<line x1="507.2" y1="593.6" x2="510.2" y2="593.6" stroke="#4a4a4a" stroke-width="0.6"/>
<text font-size="5.8" text-anchor="end" transform="translate(506 595.63) scale(1.12 1)">0</text>
<line x1="507.2" y1="574.27" x2="510.2" y2="574.27" stroke="#4a4a4a" stroke-width="0.6"/>
<text font-size="5.8" text-anchor="end" transform="translate(506 576.3) scale(1.12 1)">500</text>
<line x1="507.2" y1="554.93" x2="510.2" y2="554.93" stroke="#4a4a4a" stroke-width="0.6"/>
<text font-size="5.8" text-anchor="end" transform="translate(506 556.96) scale(1.12 1)">1,000</text>
<line x1="507.2" y1="535.6" x2="510.2" y2="535.6" stroke="#4a4a4a" stroke-width="0.6"/>
<text font-size="5.8" text-anchor="end" transform="translate(506 537.63) scale(1.12 1)">1,500</text>
<line x1="510.2" y1="593.6" x2="570.4" y2="593.6" stroke="#4a4a4a" stroke-width="0.6"/>
<rect x="515.85" y="580.84" width="8.7" height="12.76" fill="#b9d7a3" stroke="#5e9c45" stroke-width="0.6"/>
<line x1="520.2" y1="593.6" x2="520.2" y2="596.6" stroke="#4a4a4a" stroke-width="0.6"/>
<path d="M520.2 579.84V581.84M517.7 579.84H522.7M517.7 581.84H522.7" stroke="#111" stroke-width="0.6" fill="none"/>
<text font-size="6.6" text-anchor="end" transform="translate(522 603.8) rotate(-45) scale(1.12 1)">Con</text>
<rect x="529.35" y="580.45" width="8.7" height="13.15" fill="#f7d792" stroke="#d9a441" stroke-width="0.6"/>
<line x1="533.7" y1="593.6" x2="533.7" y2="596.6" stroke="#4a4a4a" stroke-width="0.6"/>
<path d="M533.7 579.45V581.45M531.2 579.45H536.2M531.2 581.45H536.2" stroke="#111" stroke-width="0.6" fill="none"/>
<text font-size="6.6" text-anchor="end" transform="translate(535.5 603.8) rotate(-45) scale(1.12 1)">IPA</text>
<rect x="543.15" y="575.04" width="8.7" height="18.56" fill="#f5957b" stroke="#d8432f" stroke-width="0.6"/>
<line x1="547.5" y1="593.6" x2="547.5" y2="596.6" stroke="#4a4a4a" stroke-width="0.6"/>
<path d="M547.5 573.74V576.34M545 573.74H550M545 576.34H550" stroke="#111" stroke-width="0.6" fill="none"/>
<text font-size="6.6" text-anchor="end" transform="translate(549.3 603.8) rotate(-45) scale(1.12 1)">CD3/CD28</text>
<rect x="556.65" y="567.31" width="8.7" height="26.29" fill="#7f7b9c" stroke="#3b3860" stroke-width="0.6"/>
<line x1="561" y1="593.6" x2="561" y2="596.6" stroke="#4a4a4a" stroke-width="0.6"/>
<path d="M561 565.71V568.91M558.5 565.71H563.5M558.5 568.91H563.5" stroke="#111" stroke-width="0.6" fill="none"/>
<text font-size="6.6" text-anchor="end" transform="translate(562.8 603.8) rotate(-45) scale(1.12 1)">CD3/CD28</text>
<text font-size="6.6" text-anchor="end" transform="translate(569.2 610) rotate(-45) scale(1.12 1)">+IPA</text>
<text font-size="6.6" text-anchor="middle" transform="translate(484.2 566) rotate(-90) scale(1.12 1)">Width (nm)</text>
<circle cx="519.71" cy="578.71" r="1.1" fill="#111"/>
<circle cx="517.97" cy="583.07" r="1.1" fill="#111"/>
<circle cx="521.01" cy="588.24" r="1.1" fill="#111"/>
<circle cx="518.59" cy="580.98" r="1.1" fill="#111"/>
<circle cx="518.25" cy="581.22" r="1.1" fill="#111"/>
<circle cx="517.49" cy="577.18" r="1.1" fill="#111"/>
<circle cx="517.43" cy="575.77" r="1.1" fill="#111"/>
<circle cx="521.23" cy="582.39" r="1.1" fill="#111"/>
<circle cx="518.08" cy="589.5" r="1.1" fill="#111"/>
<circle cx="522.81" cy="581.08" r="1.1" fill="#111"/>
<circle cx="517.89" cy="578.4" r="1.1" fill="#111"/>
<circle cx="522.27" cy="582.49" r="1.1" fill="#111"/>
<circle cx="518.12" cy="579.6" r="1.1" fill="#111"/>
<circle cx="517.5" cy="582.9" r="1.1" fill="#111"/>
<circle cx="521.43" cy="581.72" r="1.1" fill="#111"/>
<circle cx="518.76" cy="584.54" r="1.1" fill="#111"/>
<circle cx="521.51" cy="583.24" r="1.1" fill="#111"/>
<circle cx="518.45" cy="584.82" r="1.1" fill="#111"/>
<circle cx="517.68" cy="576.03" r="1.1" fill="#111"/>
<circle cx="521.73" cy="579.34" r="1.1" fill="#111"/>
<circle cx="521.4" cy="584.24" r="1.1" fill="#111"/>
<circle cx="522.19" cy="581.43" r="1.1" fill="#111"/>
<circle cx="521.49" cy="579.44" r="1.1" fill="#111"/>
<circle cx="517.87" cy="580.13" r="1.1" fill="#111"/>
<circle cx="520.92" cy="581.81" r="1.1" fill="#111"/>
<circle cx="521.37" cy="584.45" r="1.1" fill="#111"/>
<circle cx="519.98" cy="586.01" r="1.1" fill="#111"/>
<circle cx="522.62" cy="581.23" r="1.1" fill="#111"/>
<circle cx="518.82" cy="579.38" r="1.1" fill="#111"/>
<circle cx="522.8" cy="581.2" r="1.1" fill="#111"/>
<circle cx="521.42" cy="581.06" r="1.1" fill="#111"/>
<circle cx="517.46" cy="581.34" r="1.1" fill="#111"/>
<circle cx="517.48" cy="585.66" r="1.1" fill="#111"/>
<circle cx="521.04" cy="582.66" r="1.1" fill="#111"/>
<circle cx="521.98" cy="587.64" r="1.1" fill="#111"/>
<circle cx="517.85" cy="589.38" r="1.1" fill="#111"/>
<circle cx="519.14" cy="577.53" r="1.1" fill="#111"/>
<circle cx="521.48" cy="583.63" r="1.1" fill="#111"/>
<circle cx="518.33" cy="579.41" r="1.1" fill="#111"/>
<circle cx="522.22" cy="585" r="1.1" fill="#111"/>
<circle cx="520.12" cy="583.04" r="1.1" fill="#111"/>
<circle cx="517.73" cy="582.95" r="1.1" fill="#111"/>
<circle cx="519.46" cy="577.13" r="1.1" fill="#111"/>
<circle cx="520.62" cy="581.6" r="1.1" fill="#111"/>
<circle cx="519.86" cy="587.27" r="1.1" fill="#111"/>
<circle cx="521.19" cy="581.53" r="1.1" fill="#111"/>
<circle cx="518.21" cy="582.78" r="1.1" fill="#111"/>
<circle cx="521.87" cy="583.42" r="1.1" fill="#111"/>
<circle cx="519.43" cy="577.04" r="1.1" fill="#111"/>
<circle cx="521.01" cy="582.48" r="1.1" fill="#111"/>
<circle cx="531.91" cy="580.92" r="1.1" fill="#111"/>
<circle cx="534.83" cy="578.58" r="1.1" fill="#111"/>
<circle cx="532.93" cy="578.59" r="1.1" fill="#111"/>
<circle cx="534.06" cy="581.73" r="1.1" fill="#111"/>
<circle cx="533.15" cy="576.28" r="1.1" fill="#111"/>
<circle cx="533.8" cy="578.22" r="1.1" fill="#111"/>
<circle cx="531.73" cy="579.85" r="1.1" fill="#111"/>
<circle cx="531.15" cy="578.18" r="1.1" fill="#111"/>
<circle cx="536.48" cy="581.61" r="1.1" fill="#111"/>
<circle cx="532.99" cy="577.6" r="1.1" fill="#111"/>
<circle cx="531.49" cy="579.34" r="1.1" fill="#111"/>
<circle cx="534.44" cy="577.51" r="1.1" fill="#111"/>
<circle cx="535.31" cy="581.79" r="1.1" fill="#111"/>
<circle cx="531.77" cy="581.94" r="1.1" fill="#111"/>
<circle cx="534.24" cy="579.96" r="1.1" fill="#111"/>
<circle cx="532.83" cy="577.61" r="1.1" fill="#111"/>
<circle cx="533.81" cy="578.17" r="1.1" fill="#111"/>
<circle cx="531.02" cy="577.83" r="1.1" fill="#111"/>
<circle cx="531.09" cy="581.86" r="1.1" fill="#111"/>
<circle cx="536.45" cy="578.4" r="1.1" fill="#111"/>
<circle cx="535.75" cy="577.29" r="1.1" fill="#111"/>
<circle cx="533.62" cy="583.63" r="1.1" fill="#111"/>
<circle cx="534.08" cy="578.49" r="1.1" fill="#111"/>
<circle cx="532.36" cy="578.87" r="1.1" fill="#111"/>
<circle cx="535.26" cy="582.16" r="1.1" fill="#111"/>
<circle cx="533.29" cy="579.39" r="1.1" fill="#111"/>
<circle cx="536.2" cy="582.39" r="1.1" fill="#111"/>
<circle cx="535.2" cy="578.86" r="1.1" fill="#111"/>
<circle cx="535.49" cy="580.68" r="1.1" fill="#111"/>
<circle cx="536.3" cy="578.41" r="1.1" fill="#111"/>
<circle cx="532.32" cy="582.17" r="1.1" fill="#111"/>
<circle cx="531.11" cy="577.5" r="1.1" fill="#111"/>
<circle cx="532.03" cy="580.33" r="1.1" fill="#111"/>
<circle cx="531.91" cy="579.95" r="1.1" fill="#111"/>
<circle cx="531.37" cy="582.51" r="1.1" fill="#111"/>
<circle cx="545.5" cy="575.05" r="1.1" fill="#111"/>
<circle cx="545.94" cy="576.16" r="1.1" fill="#111"/>
<circle cx="545.02" cy="569.31" r="1.1" fill="#111"/>
<circle cx="548.7" cy="574.56" r="1.1" fill="#111"/>
<circle cx="547.8" cy="580.03" r="1.1" fill="#111"/>
<circle cx="545.51" cy="578.22" r="1.1" fill="#111"/>
<circle cx="549.58" cy="574.02" r="1.1" fill="#111"/>
<circle cx="546.19" cy="573.63" r="1.1" fill="#111"/>
<circle cx="547.01" cy="576.27" r="1.1" fill="#111"/>
<circle cx="545.57" cy="567.51" r="1.1" fill="#111"/>
<circle cx="546.22" cy="578.63" r="1.1" fill="#111"/>
<circle cx="549.4" cy="578.23" r="1.1" fill="#111"/>
<circle cx="546.57" cy="569.5" r="1.1" fill="#111"/>
<circle cx="545.64" cy="570.94" r="1.1" fill="#111"/>
<circle cx="547.45" cy="571.86" r="1.1" fill="#111"/>
<circle cx="546.48" cy="573.94" r="1.1" fill="#111"/>
<circle cx="549.76" cy="581.27" r="1.1" fill="#111"/>
<circle cx="545.34" cy="572.38" r="1.1" fill="#111"/>
<circle cx="550.18" cy="573.53" r="1.1" fill="#111"/>
<circle cx="545.02" cy="574.64" r="1.1" fill="#111"/>
<circle cx="549.71" cy="580.27" r="1.1" fill="#111"/>
<circle cx="548.44" cy="578.22" r="1.1" fill="#111"/>
<circle cx="545.88" cy="575.91" r="1.1" fill="#111"/>
<circle cx="547.37" cy="578.43" r="1.1" fill="#111"/>
<circle cx="546.3" cy="573.52" r="1.1" fill="#111"/>
<circle cx="546.14" cy="572.95" r="1.1" fill="#111"/>
<circle cx="545.83" cy="581.79" r="1.1" fill="#111"/>
<circle cx="546.74" cy="578.64" r="1.1" fill="#111"/>
<circle cx="550.25" cy="570.33" r="1.1" fill="#111"/>
<circle cx="550.29" cy="579.72" r="1.1" fill="#111"/>
<circle cx="549.88" cy="580.42" r="1.1" fill="#111"/>
<circle cx="545.25" cy="570.84" r="1.1" fill="#111"/>
<circle cx="546.32" cy="576.22" r="1.1" fill="#111"/>
<circle cx="549.72" cy="571.21" r="1.1" fill="#111"/>
<circle cx="545.02" cy="574.18" r="1.1" fill="#111"/>
<circle cx="547.73" cy="554.93" r="1.1" fill="#111"/>
<circle cx="547.29" cy="560.73" r="1.1" fill="#111"/>
<circle cx="562.77" cy="582.74" r="1.1" fill="#111"/>
<circle cx="563.05" cy="571.45" r="1.1" fill="#111"/>
<circle cx="560" cy="584.78" r="1.1" fill="#111"/>
<circle cx="562.18" cy="567.94" r="1.1" fill="#111"/>
<circle cx="560.34" cy="569.57" r="1.1" fill="#111"/>
<circle cx="562.41" cy="574.33" r="1.1" fill="#111"/>
<circle cx="558.54" cy="576.69" r="1.1" fill="#111"/>
<circle cx="563.09" cy="563.39" r="1.1" fill="#111"/>
<circle cx="563.54" cy="574.91" r="1.1" fill="#111"/>
<circle cx="560.97" cy="578.56" r="1.1" fill="#111"/>
<circle cx="561.07" cy="568.48" r="1.1" fill="#111"/>
<circle cx="561.17" cy="574.66" r="1.1" fill="#111"/>
<circle cx="561.21" cy="564.72" r="1.1" fill="#111"/>
<circle cx="558.32" cy="567" r="1.1" fill="#111"/>
<circle cx="563.62" cy="579.54" r="1.1" fill="#111"/>
<circle cx="559.45" cy="570.09" r="1.1" fill="#111"/>
<circle cx="559.22" cy="580.05" r="1.1" fill="#111"/>
<circle cx="558.77" cy="571.57" r="1.1" fill="#111"/>
<circle cx="559.6" cy="560.98" r="1.1" fill="#111"/>
<circle cx="562.78" cy="582.8" r="1.1" fill="#111"/>
<circle cx="558.37" cy="568.82" r="1.1" fill="#111"/>
<circle cx="558.74" cy="573.12" r="1.1" fill="#111"/>
<circle cx="562.11" cy="561.9" r="1.1" fill="#111"/>
<circle cx="559.29" cy="575.88" r="1.1" fill="#111"/>
<circle cx="558.3" cy="566.8" r="1.1" fill="#111"/>
<circle cx="561.56" cy="568.06" r="1.1" fill="#111"/>
<circle cx="561.43" cy="568.13" r="1.1" fill="#111"/>
<circle cx="561.13" cy="564.58" r="1.1" fill="#111"/>
<path d="M521.2 522V518.3H561V522" stroke="#555" stroke-width="0.5" fill="none"/>
<text font-size="5.4" text-anchor="middle" transform="translate(541.6 516.2) scale(1.12 1)">&lt;0.0001</text>
<path d="M533.7 536.2V532.4H561V536.2" stroke="#555" stroke-width="0.5" fill="none"/>
<text font-size="5.4" text-anchor="middle" transform="translate(546.9 530.3) scale(1.12 1)">&lt;0.0001</text>
<path d="M521.2 551.9V547.8H547.5V551.9" stroke="#555" stroke-width="0.5" fill="none"/>
<text font-size="5.4" text-anchor="middle" transform="translate(533.4 545.6) scale(1.12 1)">&lt;0.0001</text>
<path d="M548.5 551.3V547.8H561V551.3" stroke="#555" stroke-width="0.5" fill="none"/>
<text font-size="5.4" text-anchor="middle" transform="translate(557.9 545.6) scale(1.12 1)">0.0070</text>
<text font-size="6.8" text-anchor="middle" transform="translate(634.2 494.2) scale(1.12 1)">Area</text>
<line x1="605.5" y1="535.6" x2="605.5" y2="593.6" stroke="#4a4a4a" stroke-width="0.6"/>
<line x1="602.5" y1="593.6" x2="605.5" y2="593.6" stroke="#4a4a4a" stroke-width="0.6"/>
<text font-size="5.8" text-anchor="end" transform="translate(601.3 595.63) scale(1.12 1)">0</text>
<line x1="602.5" y1="574.27" x2="605.5" y2="574.27" stroke="#4a4a4a" stroke-width="0.6"/>
<text font-size="5.8" text-anchor="end" transform="translate(601.3 576.3) scale(1.12 1)">0.5</text>
<line x1="602.5" y1="554.93" x2="605.5" y2="554.93" stroke="#4a4a4a" stroke-width="0.6"/>
<text font-size="5.8" text-anchor="end" transform="translate(601.3 556.96) scale(1.12 1)">1</text>
<line x1="602.5" y1="535.6" x2="605.5" y2="535.6" stroke="#4a4a4a" stroke-width="0.6"/>
<text font-size="5.8" text-anchor="end" transform="translate(601.3 537.63) scale(1.12 1)">1.5</text>
<line x1="605.5" y1="593.6" x2="663.1" y2="593.6" stroke="#4a4a4a" stroke-width="0.6"/>
<rect x="610.35" y="588.57" width="8.7" height="5.03" fill="#b9d7a3" stroke="#5e9c45" stroke-width="0.6"/>
<line x1="614.7" y1="593.6" x2="614.7" y2="596.6" stroke="#4a4a4a" stroke-width="0.6"/>
<path d="M614.7 587.77V589.37M612.2 587.77H617.2M612.2 589.37H617.2" stroke="#111" stroke-width="0.6" fill="none"/>
<text font-size="6.6" text-anchor="end" transform="translate(616.5 603.8) rotate(-45) scale(1.12 1)">Con</text>
<rect x="623.65" y="587.03" width="8.7" height="6.57" fill="#f7d792" stroke="#d9a441" stroke-width="0.6"/>
<line x1="628" y1="593.6" x2="628" y2="596.6" stroke="#4a4a4a" stroke-width="0.6"/>
<path d="M628 586.23V587.83M625.5 586.23H630.5M625.5 587.83H630.5" stroke="#111" stroke-width="0.6" fill="none"/>
<text font-size="6.6" text-anchor="end" transform="translate(629.8 603.8) rotate(-45) scale(1.12 1)">IPA</text>
<rect x="637.15" y="580.84" width="8.7" height="12.76" fill="#f5957b" stroke="#d8432f" stroke-width="0.6"/>
<line x1="641.5" y1="593.6" x2="641.5" y2="596.6" stroke="#4a4a4a" stroke-width="0.6"/>
<path d="M641.5 579.64V582.04M639 579.64H644M639 582.04H644" stroke="#111" stroke-width="0.6" fill="none"/>
<text font-size="6.6" text-anchor="end" transform="translate(643.3 603.8) rotate(-45) scale(1.12 1)">CD3/CD28</text>
<rect x="650.65" y="572.33" width="8.7" height="21.27" fill="#7f7b9c" stroke="#3b3860" stroke-width="0.6"/>
<line x1="655" y1="593.6" x2="655" y2="596.6" stroke="#4a4a4a" stroke-width="0.6"/>
<path d="M655 570.73V573.93M652.5 570.73H657.5M652.5 573.93H657.5" stroke="#111" stroke-width="0.6" fill="none"/>
<text font-size="6.6" text-anchor="end" transform="translate(656.8 603.8) rotate(-45) scale(1.12 1)">CD3/CD28</text>
<text font-size="6.6" text-anchor="end" transform="translate(663.2 610) rotate(-45) scale(1.12 1)">+IPA</text>
<text font-size="6.6" text-anchor="middle" transform="translate(585.3 564.5) rotate(-90) scale(1.12 1)">Area (µm<tspan dy="-2.2" font-size="4.4">2</tspan><tspan dy="2.2">)</tspan></text>
<circle cx="615.09" cy="591.38" r="1.1" fill="#111"/>
<circle cx="615.54" cy="586.68" r="1.1" fill="#111"/>
<circle cx="613.03" cy="591.17" r="1.1" fill="#111"/>
<circle cx="615.88" cy="588.48" r="1.1" fill="#111"/>
<circle cx="614.48" cy="591.18" r="1.1" fill="#111"/>
<circle cx="614.97" cy="591.04" r="1.1" fill="#111"/>
<circle cx="615.33" cy="585.05" r="1.1" fill="#111"/>
<circle cx="614.53" cy="587.93" r="1.1" fill="#111"/>
<circle cx="613.64" cy="590.8" r="1.1" fill="#111"/>
<circle cx="613.26" cy="583.79" r="1.1" fill="#111"/>
<circle cx="613.14" cy="589.04" r="1.1" fill="#111"/>
<circle cx="614.77" cy="588.29" r="1.1" fill="#111"/>
<circle cx="614.05" cy="583.71" r="1.1" fill="#111"/>
<circle cx="615.18" cy="589.57" r="1.1" fill="#111"/>
<circle cx="611.97" cy="589.59" r="1.1" fill="#111"/>
<circle cx="613.87" cy="582.63" r="1.1" fill="#111"/>
<circle cx="616.73" cy="584.26" r="1.1" fill="#111"/>
<circle cx="613.24" cy="585.23" r="1.1" fill="#111"/>
<circle cx="615.02" cy="588.35" r="1.1" fill="#111"/>
<circle cx="614.65" cy="583.86" r="1.1" fill="#111"/>
<circle cx="613.49" cy="589.03" r="1.1" fill="#111"/>
<circle cx="617.43" cy="589.41" r="1.1" fill="#111"/>
<circle cx="613.55" cy="591.78" r="1.1" fill="#111"/>
<circle cx="616.22" cy="588.45" r="1.1" fill="#111"/>
<circle cx="612.79" cy="591.02" r="1.1" fill="#111"/>
<circle cx="612.27" cy="586.08" r="1.1" fill="#111"/>
<circle cx="616.78" cy="587.44" r="1.1" fill="#111"/>
<circle cx="614.36" cy="584.72" r="1.1" fill="#111"/>
<circle cx="612.25" cy="592.32" r="1.1" fill="#111"/>
<circle cx="614.07" cy="590.03" r="1.1" fill="#111"/>
<circle cx="614.36" cy="589.98" r="1.1" fill="#111"/>
<circle cx="616.02" cy="584.05" r="1.1" fill="#111"/>
<circle cx="612.51" cy="590.14" r="1.1" fill="#111"/>
<circle cx="613.16" cy="588.95" r="1.1" fill="#111"/>
<circle cx="617.27" cy="589.89" r="1.1" fill="#111"/>
<circle cx="616.04" cy="587.32" r="1.1" fill="#111"/>
<circle cx="612.77" cy="587.76" r="1.1" fill="#111"/>
<circle cx="613.79" cy="588.38" r="1.1" fill="#111"/>
<circle cx="613.87" cy="588.72" r="1.1" fill="#111"/>
<circle cx="615.68" cy="590.94" r="1.1" fill="#111"/>
<circle cx="615.35" cy="591.09" r="1.1" fill="#111"/>
<circle cx="616.66" cy="589.13" r="1.1" fill="#111"/>
<circle cx="616.5" cy="590.19" r="1.1" fill="#111"/>
<circle cx="614.8" cy="588.14" r="1.1" fill="#111"/>
<circle cx="616.04" cy="587.63" r="1.1" fill="#111"/>
<circle cx="614.94" cy="571.56" r="1.1" fill="#111"/>
<circle cx="627.66" cy="587.15" r="1.1" fill="#111"/>
<circle cx="628.7" cy="585.35" r="1.1" fill="#111"/>
<circle cx="630.78" cy="589.74" r="1.1" fill="#111"/>
<circle cx="627.12" cy="591.94" r="1.1" fill="#111"/>
<circle cx="628.17" cy="586.36" r="1.1" fill="#111"/>
<circle cx="629.77" cy="581.95" r="1.1" fill="#111"/>
<circle cx="626.16" cy="587.53" r="1.1" fill="#111"/>
<circle cx="626.98" cy="583.56" r="1.1" fill="#111"/>
<circle cx="630.68" cy="587.77" r="1.1" fill="#111"/>
<circle cx="629.83" cy="587.27" r="1.1" fill="#111"/>
<circle cx="628.07" cy="588.34" r="1.1" fill="#111"/>
<circle cx="625.82" cy="586.59" r="1.1" fill="#111"/>
<circle cx="630.21" cy="588.14" r="1.1" fill="#111"/>
<circle cx="629.06" cy="583.86" r="1.1" fill="#111"/>
<circle cx="629.8" cy="587.36" r="1.1" fill="#111"/>
<circle cx="630.75" cy="588.26" r="1.1" fill="#111"/>
<circle cx="630.17" cy="586.44" r="1.1" fill="#111"/>
<circle cx="627.56" cy="590.19" r="1.1" fill="#111"/>
<circle cx="626.08" cy="588.13" r="1.1" fill="#111"/>
<circle cx="626.82" cy="584" r="1.1" fill="#111"/>
<circle cx="628.06" cy="589.02" r="1.1" fill="#111"/>
<circle cx="628.03" cy="582.99" r="1.1" fill="#111"/>
<circle cx="626.25" cy="590.79" r="1.1" fill="#111"/>
<circle cx="626.22" cy="587" r="1.1" fill="#111"/>
<circle cx="628.73" cy="584.72" r="1.1" fill="#111"/>
<circle cx="628.58" cy="580.47" r="1.1" fill="#111"/>
<circle cx="627.18" cy="586.86" r="1.1" fill="#111"/>
<circle cx="630.76" cy="587.71" r="1.1" fill="#111"/>
<circle cx="628.76" cy="586.29" r="1.1" fill="#111"/>
<circle cx="625.44" cy="582.3" r="1.1" fill="#111"/>
<circle cx="627.5" cy="586.81" r="1.1" fill="#111"/>
<circle cx="629.61" cy="587.8" r="1.1" fill="#111"/>
<circle cx="626.92" cy="586.55" r="1.1" fill="#111"/>
<circle cx="629.07" cy="583.46" r="1.1" fill="#111"/>
<circle cx="625.22" cy="587.07" r="1.1" fill="#111"/>
<circle cx="627.8" cy="567.31" r="1.1" fill="#111"/>
<circle cx="640.67" cy="578.18" r="1.1" fill="#111"/>
<circle cx="640.07" cy="585.16" r="1.1" fill="#111"/>
<circle cx="639.77" cy="578.86" r="1.1" fill="#111"/>
<circle cx="640.29" cy="576.85" r="1.1" fill="#111"/>
<circle cx="640.03" cy="562.19" r="1.1" fill="#111"/>
<circle cx="638.9" cy="581.55" r="1.1" fill="#111"/>
<circle cx="642.42" cy="585.94" r="1.1" fill="#111"/>
<circle cx="640.61" cy="587.08" r="1.1" fill="#111"/>
<circle cx="639.57" cy="585.66" r="1.1" fill="#111"/>
<circle cx="642.65" cy="572.14" r="1.1" fill="#111"/>
<circle cx="639.22" cy="572.66" r="1.1" fill="#111"/>
<circle cx="640.21" cy="590.6" r="1.1" fill="#111"/>
<circle cx="643.38" cy="583.05" r="1.1" fill="#111"/>
<circle cx="639.42" cy="582.53" r="1.1" fill="#111"/>
<circle cx="641.18" cy="583.96" r="1.1" fill="#111"/>
<circle cx="643.38" cy="569.14" r="1.1" fill="#111"/>
<circle cx="643.21" cy="582.62" r="1.1" fill="#111"/>
<circle cx="639.59" cy="581.99" r="1.1" fill="#111"/>
<circle cx="640.68" cy="569.71" r="1.1" fill="#111"/>
<circle cx="642.75" cy="566.18" r="1.1" fill="#111"/>
<circle cx="640.81" cy="577.45" r="1.1" fill="#111"/>
<circle cx="644.07" cy="589" r="1.1" fill="#111"/>
<circle cx="639.87" cy="571.07" r="1.1" fill="#111"/>
<circle cx="644.03" cy="569.36" r="1.1" fill="#111"/>
<circle cx="641.53" cy="583.37" r="1.1" fill="#111"/>
<circle cx="639.97" cy="566.16" r="1.1" fill="#111"/>
<circle cx="641.24" cy="566.82" r="1.1" fill="#111"/>
<circle cx="639.43" cy="581.92" r="1.1" fill="#111"/>
<circle cx="642.66" cy="584.71" r="1.1" fill="#111"/>
<circle cx="640.16" cy="570.31" r="1.1" fill="#111"/>
<circle cx="643.74" cy="573.08" r="1.1" fill="#111"/>
<circle cx="641.99" cy="585.6" r="1.1" fill="#111"/>
<circle cx="640.76" cy="585.35" r="1.1" fill="#111"/>
<circle cx="640.08" cy="583.58" r="1.1" fill="#111"/>
<circle cx="642.11" cy="586.87" r="1.1" fill="#111"/>
<circle cx="639.89" cy="581.99" r="1.1" fill="#111"/>
<circle cx="643.59" cy="588.24" r="1.1" fill="#111"/>
<circle cx="639.39" cy="572.05" r="1.1" fill="#111"/>
<circle cx="641.51" cy="553" r="1.1" fill="#111"/>
<circle cx="653.21" cy="578.35" r="1.1" fill="#111"/>
<circle cx="656.9" cy="576.01" r="1.1" fill="#111"/>
<circle cx="655.39" cy="572.77" r="1.1" fill="#111"/>
<circle cx="656.21" cy="575.91" r="1.1" fill="#111"/>
<circle cx="653.63" cy="580.67" r="1.1" fill="#111"/>
<circle cx="654.64" cy="577.26" r="1.1" fill="#111"/>
<circle cx="656.03" cy="582.79" r="1.1" fill="#111"/>
<circle cx="654.15" cy="576.45" r="1.1" fill="#111"/>
<circle cx="652.21" cy="577.77" r="1.1" fill="#111"/>
<circle cx="656.87" cy="577.47" r="1.1" fill="#111"/>
<circle cx="656.55" cy="582.21" r="1.1" fill="#111"/>
<circle cx="653.8" cy="578.09" r="1.1" fill="#111"/>
<circle cx="652.44" cy="564.17" r="1.1" fill="#111"/>
<circle cx="656.98" cy="565.15" r="1.1" fill="#111"/>
<circle cx="655.6" cy="582.01" r="1.1" fill="#111"/>
<circle cx="652.47" cy="586.49" r="1.1" fill="#111"/>
<circle cx="653.57" cy="570.9" r="1.1" fill="#111"/>
<circle cx="652.82" cy="575.49" r="1.1" fill="#111"/>
<circle cx="656.63" cy="570.13" r="1.1" fill="#111"/>
<circle cx="653.38" cy="566.34" r="1.1" fill="#111"/>
<circle cx="657.32" cy="571.61" r="1.1" fill="#111"/>
<circle cx="656.4" cy="582.57" r="1.1" fill="#111"/>
<circle cx="652.68" cy="569.34" r="1.1" fill="#111"/>
<circle cx="656.09" cy="585.81" r="1.1" fill="#111"/>
<circle cx="654.4" cy="581.1" r="1.1" fill="#111"/>
<circle cx="656.39" cy="577.64" r="1.1" fill="#111"/>
<circle cx="656.84" cy="585.88" r="1.1" fill="#111"/>
<circle cx="653.77" cy="571.42" r="1.1" fill="#111"/>
<circle cx="654.59" cy="551.07" r="1.1" fill="#111"/>
<path d="M614.4 522V517.4H654.6V522" stroke="#555" stroke-width="0.5" fill="none"/>
<text font-size="5.4" text-anchor="middle" transform="translate(634.2 515) scale(1.12 1)">&lt;0.0001</text>
<path d="M627.9 534.6V530.9H654.6V534.6" stroke="#555" stroke-width="0.5" fill="none"/>
<text font-size="5.4" text-anchor="middle" transform="translate(641.1 527.6) scale(1.12 1)">&lt;0.0001</text>
<path d="M614.4 570.7V546.6H641.1V551.9" stroke="#555" stroke-width="0.5" fill="none"/>
<text font-size="5.4" text-anchor="middle" transform="translate(627.9 543.2) scale(1.12 1)">0.0008</text>
<path d="M642.7 550.3V546.6H654.6V550.3" stroke="#555" stroke-width="0.5" fill="none"/>
<text font-size="5.4" text-anchor="middle" transform="translate(652 543.2) scale(1.12 1)">0.0025</text>
<text font-size="12" transform="translate(335.5 650) scale(1.05 1)" font-weight="bold" fill="#000">l</text>
<text font-size="6.8" text-anchor="middle" transform="translate(387.4 652.2) scale(1.12 1)">Cristae score</text>
<line x1="358.2" y1="688.4" x2="358.2" y2="746.5" stroke="#4a4a4a" stroke-width="0.6"/>
<line x1="355.2" y1="746.5" x2="358.2" y2="746.5" stroke="#4a4a4a" stroke-width="0.6"/>
<text font-size="5.8" text-anchor="end" transform="translate(354 748.53) scale(1.12 1)">0</text>
<line x1="355.2" y1="734.88" x2="358.2" y2="734.88" stroke="#4a4a4a" stroke-width="0.6"/>
<text font-size="5.8" text-anchor="end" transform="translate(354 736.91) scale(1.12 1)">1</text>
<line x1="355.2" y1="723.26" x2="358.2" y2="723.26" stroke="#4a4a4a" stroke-width="0.6"/>
<text font-size="5.8" text-anchor="end" transform="translate(354 725.29) scale(1.12 1)">2</text>
<line x1="355.2" y1="711.64" x2="358.2" y2="711.64" stroke="#4a4a4a" stroke-width="0.6"/>
<text font-size="5.8" text-anchor="end" transform="translate(354 713.67) scale(1.12 1)">3</text>
<line x1="355.2" y1="700.02" x2="358.2" y2="700.02" stroke="#4a4a4a" stroke-width="0.6"/>
<text font-size="5.8" text-anchor="end" transform="translate(354 702.05) scale(1.12 1)">4</text>
<line x1="355.2" y1="688.4" x2="358.2" y2="688.4" stroke="#4a4a4a" stroke-width="0.6"/>
<text font-size="5.8" text-anchor="end" transform="translate(354 690.43) scale(1.12 1)">5</text>
<line x1="358.2" y1="746.5" x2="416.6" y2="746.5" stroke="#4a4a4a" stroke-width="0.6"/>
<rect x="362.35" y="735.46" width="8.7" height="11.04" fill="#b9d7a3" stroke="#5e9c45" stroke-width="0.6"/>
<line x1="366.7" y1="746.5" x2="366.7" y2="749.5" stroke="#4a4a4a" stroke-width="0.6"/>
<path d="M366.7 734.06V736.86M364.2 734.06H369.2M364.2 736.86H369.2" stroke="#111" stroke-width="0.6" fill="none"/>
<text font-size="6.6" text-anchor="end" transform="translate(368.5 756.7) rotate(-45) scale(1.12 1)">Con</text>
<rect x="375.75" y="729.07" width="8.7" height="17.43" fill="#f7d792" stroke="#d9a441" stroke-width="0.6"/>
<line x1="380.1" y1="746.5" x2="380.1" y2="749.5" stroke="#4a4a4a" stroke-width="0.6"/>
<path d="M380.1 726.67V731.47M377.6 726.67H382.6M377.6 731.47H382.6" stroke="#111" stroke-width="0.6" fill="none"/>
<text font-size="6.6" text-anchor="end" transform="translate(381.9 756.7) rotate(-45) scale(1.12 1)">IPA</text>
<rect x="389.25" y="733.37" width="8.7" height="13.13" fill="#f5957b" stroke="#d8432f" stroke-width="0.6"/>
<line x1="393.6" y1="746.5" x2="393.6" y2="749.5" stroke="#4a4a4a" stroke-width="0.6"/>
<path d="M393.6 731.37V735.37M391.1 731.37H396.1M391.1 735.37H396.1" stroke="#111" stroke-width="0.6" fill="none"/>
<text font-size="6.6" text-anchor="end" transform="translate(395.4 756.7) rotate(-45) scale(1.12 1)">CD3/CD28</text>
<rect x="402.65" y="722.68" width="8.7" height="23.82" fill="#7f7b9c" stroke="#3b3860" stroke-width="0.6"/>
<line x1="407" y1="746.5" x2="407" y2="749.5" stroke="#4a4a4a" stroke-width="0.6"/>
<path d="M407 720.88V724.48M404.5 720.88H409.5M404.5 724.48H409.5" stroke="#111" stroke-width="0.6" fill="none"/>
<text font-size="6.6" text-anchor="end" transform="translate(408.8 756.7) rotate(-45) scale(1.12 1)">CD3/CD28</text>
<text font-size="6.6" text-anchor="end" transform="translate(415.2 762.9) rotate(-45) scale(1.12 1)">+IPA</text>
<text font-size="6.6" text-anchor="middle" transform="translate(342.6 717.6) rotate(-90) scale(1.12 1)">Cristae score</text>
<circle cx="363.38" cy="746.5" r="1" fill="#111"/>
<circle cx="364.32" cy="746.5" r="1" fill="#111"/>
<circle cx="365.27" cy="746.5" r="1" fill="#111"/>
<circle cx="366.22" cy="746.5" r="1" fill="#111"/>
<circle cx="367.18" cy="746.5" r="1" fill="#111"/>
<circle cx="368.12" cy="746.5" r="1" fill="#111"/>
<circle cx="369.07" cy="746.5" r="1" fill="#111"/>
<circle cx="370.02" cy="746.5" r="1" fill="#111"/>
<circle cx="362.9" cy="734.88" r="1" fill="#111"/>
<circle cx="363.85" cy="734.88" r="1" fill="#111"/>
<circle cx="364.8" cy="734.88" r="1" fill="#111"/>
<circle cx="365.75" cy="734.88" r="1" fill="#111"/>
<circle cx="366.7" cy="734.88" r="1" fill="#111"/>
<circle cx="367.65" cy="734.88" r="1" fill="#111"/>
<circle cx="368.6" cy="734.88" r="1" fill="#111"/>
<circle cx="369.55" cy="734.88" r="1" fill="#111"/>
<circle cx="370.5" cy="734.88" r="1" fill="#111"/>
<circle cx="364.8" cy="723.26" r="1" fill="#111"/>
<circle cx="365.75" cy="723.26" r="1" fill="#111"/>
<circle cx="366.7" cy="723.26" r="1" fill="#111"/>
<circle cx="367.65" cy="723.26" r="1" fill="#111"/>
<circle cx="368.6" cy="723.26" r="1" fill="#111"/>
<circle cx="365.27" cy="711.64" r="1" fill="#111"/>
<circle cx="366.22" cy="711.64" r="1" fill="#111"/>
<circle cx="367.18" cy="711.64" r="1" fill="#111"/>
<circle cx="368.12" cy="711.64" r="1" fill="#111"/>
<circle cx="366.7" cy="700.02" r="1" fill="#111"/>
<circle cx="378.68" cy="746.5" r="1" fill="#111"/>
<circle cx="379.62" cy="746.5" r="1" fill="#111"/>
<circle cx="380.58" cy="746.5" r="1" fill="#111"/>
<circle cx="381.53" cy="746.5" r="1" fill="#111"/>
<circle cx="377.25" cy="734.88" r="1" fill="#111"/>
<circle cx="378.2" cy="734.88" r="1" fill="#111"/>
<circle cx="379.15" cy="734.88" r="1" fill="#111"/>
<circle cx="380.1" cy="734.88" r="1" fill="#111"/>
<circle cx="381.05" cy="734.88" r="1" fill="#111"/>
<circle cx="382" cy="734.88" r="1" fill="#111"/>
<circle cx="382.95" cy="734.88" r="1" fill="#111"/>
<circle cx="376.78" cy="723.26" r="1" fill="#111"/>
<circle cx="377.73" cy="723.26" r="1" fill="#111"/>
<circle cx="378.68" cy="723.26" r="1" fill="#111"/>
<circle cx="379.62" cy="723.26" r="1" fill="#111"/>
<circle cx="380.58" cy="723.26" r="1" fill="#111"/>
<circle cx="381.53" cy="723.26" r="1" fill="#111"/>
<circle cx="382.48" cy="723.26" r="1" fill="#111"/>
<circle cx="383.43" cy="723.26" r="1" fill="#111"/>
<circle cx="378.68" cy="711.64" r="1" fill="#111"/>
<circle cx="379.62" cy="711.64" r="1" fill="#111"/>
<circle cx="380.58" cy="711.64" r="1" fill="#111"/>
<circle cx="381.53" cy="711.64" r="1" fill="#111"/>
<circle cx="390.75" cy="746.5" r="1" fill="#111"/>
<circle cx="391.7" cy="746.5" r="1" fill="#111"/>
<circle cx="392.65" cy="746.5" r="1" fill="#111"/>
<circle cx="393.6" cy="746.5" r="1" fill="#111"/>
<circle cx="394.55" cy="746.5" r="1" fill="#111"/>
<circle cx="395.5" cy="746.5" r="1" fill="#111"/>
<circle cx="396.45" cy="746.5" r="1" fill="#111"/>
<circle cx="390.28" cy="734.88" r="1" fill="#111"/>
<circle cx="391.23" cy="734.88" r="1" fill="#111"/>
<circle cx="392.18" cy="734.88" r="1" fill="#111"/>
<circle cx="393.12" cy="734.88" r="1" fill="#111"/>
<circle cx="394.08" cy="734.88" r="1" fill="#111"/>
<circle cx="395.03" cy="734.88" r="1" fill="#111"/>
<circle cx="395.98" cy="734.88" r="1" fill="#111"/>
<circle cx="396.93" cy="734.88" r="1" fill="#111"/>
<circle cx="391.23" cy="723.26" r="1" fill="#111"/>
<circle cx="392.18" cy="723.26" r="1" fill="#111"/>
<circle cx="393.12" cy="723.26" r="1" fill="#111"/>
<circle cx="394.08" cy="723.26" r="1" fill="#111"/>
<circle cx="395.03" cy="723.26" r="1" fill="#111"/>
<circle cx="395.98" cy="723.26" r="1" fill="#111"/>
<circle cx="393.6" cy="711.64" r="1" fill="#111"/>
<circle cx="406.05" cy="746.5" r="1" fill="#111"/>
<circle cx="407" cy="746.5" r="1" fill="#111"/>
<circle cx="407.95" cy="746.5" r="1" fill="#111"/>
<circle cx="404.62" cy="734.88" r="1" fill="#111"/>
<circle cx="405.57" cy="734.88" r="1" fill="#111"/>
<circle cx="406.52" cy="734.88" r="1" fill="#111"/>
<circle cx="407.48" cy="734.88" r="1" fill="#111"/>
<circle cx="408.43" cy="734.88" r="1" fill="#111"/>
<circle cx="409.38" cy="734.88" r="1" fill="#111"/>
<circle cx="403.2" cy="723.26" r="1" fill="#111"/>
<circle cx="404.15" cy="723.26" r="1" fill="#111"/>
<circle cx="405.1" cy="723.26" r="1" fill="#111"/>
<circle cx="406.05" cy="723.26" r="1" fill="#111"/>
<circle cx="407" cy="723.26" r="1" fill="#111"/>
<circle cx="407.95" cy="723.26" r="1" fill="#111"/>
<circle cx="408.9" cy="723.26" r="1" fill="#111"/>
<circle cx="409.85" cy="723.26" r="1" fill="#111"/>
<circle cx="410.8" cy="723.26" r="1" fill="#111"/>
<circle cx="405.1" cy="711.64" r="1" fill="#111"/>
<circle cx="406.05" cy="711.64" r="1" fill="#111"/>
<circle cx="407" cy="711.64" r="1" fill="#111"/>
<circle cx="407.95" cy="711.64" r="1" fill="#111"/>
<circle cx="408.9" cy="711.64" r="1" fill="#111"/>
<circle cx="406.05" cy="700.02" r="1" fill="#111"/>
<circle cx="407" cy="700.02" r="1" fill="#111"/>
<circle cx="407.95" cy="700.02" r="1" fill="#111"/>
<path d="M366.7 695.7V673.8H407.6V678.2" stroke="#555" stroke-width="0.5" fill="none"/>
<text font-size="5.4" text-anchor="middle" transform="translate(387.4 671.6) scale(1.12 1)">0.0011</text>
<path d="M393.6 707.4V691.3H407.6V695.7" stroke="#555" stroke-width="0.5" fill="none"/>
<text font-size="5.4" text-anchor="middle" transform="translate(400.3 689.1) scale(1.12 1)">0.0163</text>
<text font-size="6.8" text-anchor="middle" transform="translate(500.4 652.4) scale(1.12 1)">Total cristae area</text>
<line x1="471.2" y1="688.4" x2="471.2" y2="746.8" stroke="#4a4a4a" stroke-width="0.6"/>
<line x1="468.2" y1="746.8" x2="471.2" y2="746.8" stroke="#4a4a4a" stroke-width="0.6"/>
<text font-size="5.8" text-anchor="end" transform="translate(467 748.83) scale(1.12 1)">0</text>
<line x1="468.2" y1="727.13" x2="471.2" y2="727.13" stroke="#4a4a4a" stroke-width="0.6"/>
<text font-size="5.8" text-anchor="end" transform="translate(467 729.16) scale(1.12 1)">50,000</text>
<line x1="468.2" y1="707.47" x2="471.2" y2="707.47" stroke="#4a4a4a" stroke-width="0.6"/>
<text font-size="5.8" text-anchor="end" transform="translate(467 709.5) scale(1.12 1)">100,000</text>
<line x1="468.2" y1="687.8" x2="471.2" y2="687.8" stroke="#4a4a4a" stroke-width="0.6"/>
<text font-size="5.8" text-anchor="end" transform="translate(467 689.83) scale(1.12 1)">150,000</text>
<line x1="471.2" y1="746.8" x2="529.6" y2="746.8" stroke="#4a4a4a" stroke-width="0.6"/>
<rect x="476.05" y="744.83" width="8.7" height="1.97" fill="#b9d7a3" stroke="#5e9c45" stroke-width="0.6"/>
<line x1="480.4" y1="746.8" x2="480.4" y2="749.8" stroke="#4a4a4a" stroke-width="0.6"/>
<path d="M480.4 744.23V745.43M477.9 744.23H482.9M477.9 745.43H482.9" stroke="#111" stroke-width="0.6" fill="none"/>
<text font-size="6.6" text-anchor="end" transform="translate(482.2 757) rotate(-45) scale(1.12 1)">Con</text>
<rect x="489.15" y="744.05" width="8.7" height="2.75" fill="#f7d792" stroke="#d9a441" stroke-width="0.6"/>
<line x1="493.5" y1="746.8" x2="493.5" y2="749.8" stroke="#4a4a4a" stroke-width="0.6"/>
<path d="M493.5 743.35V744.75M491 743.35H496M491 744.75H496" stroke="#111" stroke-width="0.6" fill="none"/>
<text font-size="6.6" text-anchor="end" transform="translate(495.3 757) rotate(-45) scale(1.12 1)">IPA</text>
<rect x="502.65" y="740.11" width="8.7" height="6.69" fill="#f5957b" stroke="#d8432f" stroke-width="0.6"/>
<line x1="507" y1="746.8" x2="507" y2="749.8" stroke="#4a4a4a" stroke-width="0.6"/>
<path d="M507 738.91V741.31M504.5 738.91H509.5M504.5 741.31H509.5" stroke="#111" stroke-width="0.6" fill="none"/>
<text font-size="6.6" text-anchor="end" transform="translate(508.8 757) rotate(-45) scale(1.12 1)">CD3/CD28</text>
<rect x="516.45" y="727.92" width="8.7" height="18.88" fill="#7f7b9c" stroke="#3b3860" stroke-width="0.6"/>
<line x1="520.8" y1="746.8" x2="520.8" y2="749.8" stroke="#4a4a4a" stroke-width="0.6"/>
<path d="M520.8 726.32V729.52M518.3 726.32H523.3M518.3 729.52H523.3" stroke="#111" stroke-width="0.6" fill="none"/>
<text font-size="6.6" text-anchor="end" transform="translate(522.6 757) rotate(-45) scale(1.12 1)">CD3/CD28</text>
<text font-size="6.6" text-anchor="end" transform="translate(529 763.2) rotate(-45) scale(1.12 1)">+IPA</text>
<text font-size="6.6" text-anchor="middle" transform="translate(434.7 717.6) rotate(-90) scale(1.12 1)">Cristae area (nm<tspan dy="-2.2" font-size="4.4">2</tspan><tspan dy="2.2">)</tspan></text>
<circle cx="478.07" cy="744.09" r="1.1" fill="#111"/>
<circle cx="481.62" cy="742.49" r="1.1" fill="#111"/>
<circle cx="483.09" cy="741.37" r="1.1" fill="#111"/>
<circle cx="480.76" cy="743.94" r="1.1" fill="#111"/>
<circle cx="478.21" cy="742.45" r="1.1" fill="#111"/>
<circle cx="480.34" cy="743.62" r="1.1" fill="#111"/>
<circle cx="480.03" cy="745.48" r="1.1" fill="#111"/>
<circle cx="478.66" cy="746.03" r="1.1" fill="#111"/>
<circle cx="480.64" cy="741.6" r="1.1" fill="#111"/>
<circle cx="477.65" cy="743.42" r="1.1" fill="#111"/>
<circle cx="482.75" cy="742.86" r="1.1" fill="#111"/>
<circle cx="481.21" cy="744.93" r="1.1" fill="#111"/>
<circle cx="481.12" cy="744.42" r="1.1" fill="#111"/>
<circle cx="482.84" cy="745.14" r="1.1" fill="#111"/>
<circle cx="481.25" cy="745.44" r="1.1" fill="#111"/>
<circle cx="479.01" cy="742.64" r="1.1" fill="#111"/>
<circle cx="478.98" cy="744.96" r="1.1" fill="#111"/>
<circle cx="478.38" cy="743.98" r="1.1" fill="#111"/>
<circle cx="477.75" cy="744.45" r="1.1" fill="#111"/>
<circle cx="481.94" cy="740.8" r="1.1" fill="#111"/>
<circle cx="482.3" cy="743.32" r="1.1" fill="#111"/>
<circle cx="479.26" cy="741.51" r="1.1" fill="#111"/>
<circle cx="478.64" cy="741.98" r="1.1" fill="#111"/>
<circle cx="481.17" cy="742.67" r="1.1" fill="#111"/>
<circle cx="482.34" cy="743.89" r="1.1" fill="#111"/>
<circle cx="482.79" cy="741.36" r="1.1" fill="#111"/>
<circle cx="478.54" cy="744.75" r="1.1" fill="#111"/>
<circle cx="481.99" cy="745.12" r="1.1" fill="#111"/>
<circle cx="482.25" cy="744.78" r="1.1" fill="#111"/>
<circle cx="481.76" cy="742.42" r="1.1" fill="#111"/>
<circle cx="479.43" cy="745.56" r="1.1" fill="#111"/>
<circle cx="478.63" cy="743.85" r="1.1" fill="#111"/>
<circle cx="482.22" cy="745.29" r="1.1" fill="#111"/>
<circle cx="479.39" cy="746.42" r="1.1" fill="#111"/>
<circle cx="479.66" cy="742.06" r="1.1" fill="#111"/>
<circle cx="480.45" cy="719.27" r="1.1" fill="#111"/>
<circle cx="496.04" cy="740.12" r="1.1" fill="#111"/>
<circle cx="493.39" cy="745.87" r="1.1" fill="#111"/>
<circle cx="494.33" cy="742.03" r="1.1" fill="#111"/>
<circle cx="492.38" cy="741.38" r="1.1" fill="#111"/>
<circle cx="492.62" cy="738.43" r="1.1" fill="#111"/>
<circle cx="495.66" cy="742.96" r="1.1" fill="#111"/>
<circle cx="490.86" cy="744.2" r="1.1" fill="#111"/>
<circle cx="491.76" cy="745.51" r="1.1" fill="#111"/>
<circle cx="494.5" cy="744.95" r="1.1" fill="#111"/>
<circle cx="493.21" cy="737.85" r="1.1" fill="#111"/>
<circle cx="491.18" cy="745.89" r="1.1" fill="#111"/>
<circle cx="494.4" cy="744.8" r="1.1" fill="#111"/>
<circle cx="492.78" cy="746.56" r="1.1" fill="#111"/>
<circle cx="493.95" cy="739.83" r="1.1" fill="#111"/>
<circle cx="493.03" cy="743.45" r="1.1" fill="#111"/>
<circle cx="493.67" cy="741.76" r="1.1" fill="#111"/>
<circle cx="493.86" cy="743.47" r="1.1" fill="#111"/>
<circle cx="492.92" cy="743.36" r="1.1" fill="#111"/>
<circle cx="491.34" cy="740.18" r="1.1" fill="#111"/>
<circle cx="491.71" cy="744.95" r="1.1" fill="#111"/>
<circle cx="495.68" cy="743.33" r="1.1" fill="#111"/>
<circle cx="493.77" cy="743.92" r="1.1" fill="#111"/>
<circle cx="491.33" cy="745.47" r="1.1" fill="#111"/>
<circle cx="495.53" cy="743.22" r="1.1" fill="#111"/>
<circle cx="492.12" cy="739.08" r="1.1" fill="#111"/>
<circle cx="491.23" cy="737.71" r="1.1" fill="#111"/>
<circle cx="493.67" cy="742.09" r="1.1" fill="#111"/>
<circle cx="492.11" cy="745.68" r="1.1" fill="#111"/>
<circle cx="493.44" cy="742.17" r="1.1" fill="#111"/>
<circle cx="493.8" cy="742.46" r="1.1" fill="#111"/>
<circle cx="505.82" cy="737" r="1.1" fill="#111"/>
<circle cx="508.05" cy="737.93" r="1.1" fill="#111"/>
<circle cx="506.33" cy="743.81" r="1.1" fill="#111"/>
<circle cx="505.01" cy="743.94" r="1.1" fill="#111"/>
<circle cx="509.1" cy="731" r="1.1" fill="#111"/>
<circle cx="507.22" cy="734.48" r="1.1" fill="#111"/>
<circle cx="508.06" cy="743.23" r="1.1" fill="#111"/>
<circle cx="508.73" cy="734.34" r="1.1" fill="#111"/>
<circle cx="509.51" cy="731.9" r="1.1" fill="#111"/>
<circle cx="504.28" cy="742.43" r="1.1" fill="#111"/>
<circle cx="506.12" cy="737.15" r="1.1" fill="#111"/>
<circle cx="505.05" cy="742.9" r="1.1" fill="#111"/>
<circle cx="507.01" cy="744.27" r="1.1" fill="#111"/>
<circle cx="509.09" cy="739.92" r="1.1" fill="#111"/>
<circle cx="508.68" cy="736.64" r="1.1" fill="#111"/>
<circle cx="504.4" cy="740.86" r="1.1" fill="#111"/>
<circle cx="505.22" cy="739.19" r="1.1" fill="#111"/>
<circle cx="508.78" cy="736.19" r="1.1" fill="#111"/>
<circle cx="508.01" cy="737.15" r="1.1" fill="#111"/>
<circle cx="506.4" cy="730.79" r="1.1" fill="#111"/>
<circle cx="506.86" cy="733.85" r="1.1" fill="#111"/>
<circle cx="505.09" cy="733.46" r="1.1" fill="#111"/>
<circle cx="508.93" cy="732.01" r="1.1" fill="#111"/>
<circle cx="506.4" cy="739.91" r="1.1" fill="#111"/>
<circle cx="509.09" cy="728.01" r="1.1" fill="#111"/>
<circle cx="507.62" cy="744.6" r="1.1" fill="#111"/>
<circle cx="504.62" cy="743.47" r="1.1" fill="#111"/>
<circle cx="506.04" cy="732.57" r="1.1" fill="#111"/>
<circle cx="505.41" cy="728.97" r="1.1" fill="#111"/>
<circle cx="509.21" cy="741.42" r="1.1" fill="#111"/>
<circle cx="507.5" cy="738.9" r="1.1" fill="#111"/>
<circle cx="504.44" cy="736.86" r="1.1" fill="#111"/>
<circle cx="505.15" cy="745.27" r="1.1" fill="#111"/>
<circle cx="506.22" cy="732.62" r="1.1" fill="#111"/>
<circle cx="506.82" cy="737.29" r="1.1" fill="#111"/>
<circle cx="519.69" cy="730.39" r="1.1" fill="#111"/>
<circle cx="518.95" cy="743.73" r="1.1" fill="#111"/>
<circle cx="518.37" cy="731.49" r="1.1" fill="#111"/>
<circle cx="519.69" cy="729.05" r="1.1" fill="#111"/>
<circle cx="519.73" cy="740.41" r="1.1" fill="#111"/>
<circle cx="522.07" cy="724.74" r="1.1" fill="#111"/>
<circle cx="521.09" cy="732.84" r="1.1" fill="#111"/>
<circle cx="523.25" cy="733.1" r="1.1" fill="#111"/>
<circle cx="519.91" cy="727.76" r="1.1" fill="#111"/>
<circle cx="523.16" cy="711.79" r="1.1" fill="#111"/>
<circle cx="521.27" cy="727.12" r="1.1" fill="#111"/>
<circle cx="518.45" cy="718.96" r="1.1" fill="#111"/>
<circle cx="519" cy="725.59" r="1.1" fill="#111"/>
<circle cx="521.25" cy="730.89" r="1.1" fill="#111"/>
<circle cx="523.53" cy="721.5" r="1.1" fill="#111"/>
<circle cx="520" cy="716.04" r="1.1" fill="#111"/>
<circle cx="522.34" cy="732.14" r="1.1" fill="#111"/>
<circle cx="520.4" cy="723.05" r="1.1" fill="#111"/>
<circle cx="522.86" cy="725.55" r="1.1" fill="#111"/>
<circle cx="518.38" cy="727.31" r="1.1" fill="#111"/>
<circle cx="520.71" cy="739.61" r="1.1" fill="#111"/>
<circle cx="523.03" cy="731.72" r="1.1" fill="#111"/>
<circle cx="519.54" cy="728.64" r="1.1" fill="#111"/>
<circle cx="519.44" cy="733.56" r="1.1" fill="#111"/>
<circle cx="518.13" cy="731.17" r="1.1" fill="#111"/>
<circle cx="518.92" cy="743.54" r="1.1" fill="#111"/>
<circle cx="519.5" cy="729.16" r="1.1" fill="#111"/>
<circle cx="521.94" cy="726.95" r="1.1" fill="#111"/>
<circle cx="520.52" cy="700.39" r="1.1" fill="#111"/>
<path d="M480.4 678.6V665.5H520.8V670.8" stroke="#555" stroke-width="0.5" fill="none"/>
<text font-size="5.4" text-anchor="middle" transform="translate(500.4 663) scale(1.12 1)">&lt;0.0001</text>
<path d="M493.5 685V680.2H520.8V685" stroke="#555" stroke-width="0.5" fill="none"/>
<text font-size="5.4" text-anchor="middle" transform="translate(507.7 678.2) scale(1.12 1)">&lt;0.0001</text>
<path d="M507 721V694.3H520.8V697.5" stroke="#555" stroke-width="0.5" fill="none"/>
<text font-size="5.4" text-anchor="middle" transform="translate(514.9 691.8) scale(1.12 1)">&lt;0.0001</text>
<text font-size="6.8" text-anchor="middle" transform="translate(605.6 652.4) scale(1.12 1)">Cristae density</text>
<line x1="575.1" y1="689" x2="575.1" y2="746.8" stroke="#4a4a4a" stroke-width="0.6"/>
<line x1="572.1" y1="746.8" x2="575.1" y2="746.8" stroke="#4a4a4a" stroke-width="0.6"/>
<text font-size="5.8" text-anchor="end" transform="translate(570.9 748.83) scale(1.12 1)">0</text>
<line x1="572.1" y1="735.12" x2="575.1" y2="735.12" stroke="#4a4a4a" stroke-width="0.6"/>
<text font-size="5.8" text-anchor="end" transform="translate(570.9 737.15) scale(1.12 1)">0.05</text>
<line x1="572.1" y1="723.44" x2="575.1" y2="723.44" stroke="#4a4a4a" stroke-width="0.6"/>
<text font-size="5.8" text-anchor="end" transform="translate(570.9 725.47) scale(1.12 1)">0.10</text>
<line x1="572.1" y1="711.76" x2="575.1" y2="711.76" stroke="#4a4a4a" stroke-width="0.6"/>
<text font-size="5.8" text-anchor="end" transform="translate(570.9 713.79) scale(1.12 1)">0.15</text>
<line x1="572.1" y1="700.08" x2="575.1" y2="700.08" stroke="#4a4a4a" stroke-width="0.6"/>
<text font-size="5.8" text-anchor="end" transform="translate(570.9 702.11) scale(1.12 1)">0.20</text>
<line x1="572.1" y1="688.4" x2="575.1" y2="688.4" stroke="#4a4a4a" stroke-width="0.6"/>
<text font-size="5.8" text-anchor="end" transform="translate(570.9 690.43) scale(1.12 1)">0.25</text>
<line x1="575.1" y1="746.8" x2="634.8" y2="746.8" stroke="#4a4a4a" stroke-width="0.6"/>
<rect x="581.15" y="737.46" width="8.7" height="9.34" fill="#b9d7a3" stroke="#5e9c45" stroke-width="0.6"/>
<line x1="585.5" y1="746.8" x2="585.5" y2="749.8" stroke="#4a4a4a" stroke-width="0.6"/>
<path d="M585.5 736.46V738.46M583 736.46H588M583 738.46H588" stroke="#111" stroke-width="0.6" fill="none"/>
<text font-size="6.6" text-anchor="end" transform="translate(587.3 757) rotate(-45) scale(1.12 1)">Con</text>
<rect x="594.35" y="737.46" width="8.7" height="9.34" fill="#f7d792" stroke="#d9a441" stroke-width="0.6"/>
<line x1="598.7" y1="746.8" x2="598.7" y2="749.8" stroke="#4a4a4a" stroke-width="0.6"/>
<path d="M598.7 736.06V738.86M596.2 736.06H601.2M596.2 738.86H601.2" stroke="#111" stroke-width="0.6" fill="none"/>
<text font-size="6.6" text-anchor="end" transform="translate(600.5 757) rotate(-45) scale(1.12 1)">IPA</text>
<rect x="607.85" y="734.42" width="8.7" height="12.38" fill="#f5957b" stroke="#d8432f" stroke-width="0.6"/>
<line x1="612.2" y1="746.8" x2="612.2" y2="749.8" stroke="#4a4a4a" stroke-width="0.6"/>
<path d="M612.2 733.22V735.62M609.7 733.22H614.7M609.7 735.62H614.7" stroke="#111" stroke-width="0.6" fill="none"/>
<text font-size="6.6" text-anchor="end" transform="translate(614 757) rotate(-45) scale(1.12 1)">CD3/CD28</text>
<rect x="621.65" y="722.27" width="8.7" height="24.53" fill="#7f7b9c" stroke="#3b3860" stroke-width="0.6"/>
<line x1="626" y1="746.8" x2="626" y2="749.8" stroke="#4a4a4a" stroke-width="0.6"/>
<path d="M626 720.67V723.87M623.5 720.67H628.5M623.5 723.87H628.5" stroke="#111" stroke-width="0.6" fill="none"/>
<text font-size="6.6" text-anchor="end" transform="translate(627.8 757) rotate(-45) scale(1.12 1)">CD3/CD28</text>
<text font-size="6.6" text-anchor="end" transform="translate(634.2 763.2) rotate(-45) scale(1.12 1)">+IPA</text>
<text font-size="6.6" text-anchor="middle" transform="translate(552.3 718.5) rotate(-90) scale(1.12 1)">Cristae density</text>
<circle cx="585.36" cy="739.41" r="1.1" fill="#111"/>
<circle cx="586.37" cy="726.48" r="1.1" fill="#111"/>
<circle cx="587.04" cy="739.47" r="1.1" fill="#111"/>
<circle cx="584.73" cy="722.22" r="1.1" fill="#111"/>
<circle cx="588.24" cy="742.15" r="1.1" fill="#111"/>
<circle cx="583.98" cy="726.1" r="1.1" fill="#111"/>
<circle cx="586.94" cy="740.69" r="1.1" fill="#111"/>
<circle cx="583.2" cy="733.99" r="1.1" fill="#111"/>
<circle cx="582.86" cy="732.05" r="1.1" fill="#111"/>
<circle cx="583.45" cy="739.19" r="1.1" fill="#111"/>
<circle cx="583.04" cy="729.66" r="1.1" fill="#111"/>
<circle cx="585.51" cy="736.17" r="1.1" fill="#111"/>
<circle cx="585.81" cy="737.19" r="1.1" fill="#111"/>
<circle cx="583.72" cy="736.03" r="1.1" fill="#111"/>
<circle cx="587.96" cy="732.32" r="1.1" fill="#111"/>
<circle cx="584.75" cy="734.72" r="1.1" fill="#111"/>
<circle cx="583.54" cy="738.43" r="1.1" fill="#111"/>
<circle cx="583.69" cy="744.87" r="1.1" fill="#111"/>
<circle cx="586.83" cy="733.5" r="1.1" fill="#111"/>
<circle cx="587.86" cy="742.89" r="1.1" fill="#111"/>
<circle cx="583.61" cy="730.25" r="1.1" fill="#111"/>
<circle cx="582.86" cy="741.75" r="1.1" fill="#111"/>
<circle cx="587.06" cy="740.56" r="1.1" fill="#111"/>
<circle cx="584.06" cy="741.85" r="1.1" fill="#111"/>
<circle cx="588.2" cy="735.89" r="1.1" fill="#111"/>
<circle cx="585.49" cy="733.05" r="1.1" fill="#111"/>
<circle cx="586.26" cy="731.69" r="1.1" fill="#111"/>
<circle cx="584.63" cy="737.3" r="1.1" fill="#111"/>
<circle cx="587.18" cy="738.41" r="1.1" fill="#111"/>
<circle cx="585.28" cy="729.31" r="1.1" fill="#111"/>
<circle cx="584.51" cy="737.61" r="1.1" fill="#111"/>
<circle cx="587.76" cy="721.22" r="1.1" fill="#111"/>
<circle cx="583.3" cy="738.09" r="1.1" fill="#111"/>
<circle cx="586.81" cy="723.45" r="1.1" fill="#111"/>
<circle cx="583.07" cy="745.23" r="1.1" fill="#111"/>
<circle cx="601.47" cy="738.56" r="1.1" fill="#111"/>
<circle cx="597.57" cy="743.67" r="1.1" fill="#111"/>
<circle cx="596.04" cy="738.45" r="1.1" fill="#111"/>
<circle cx="596.52" cy="728.03" r="1.1" fill="#111"/>
<circle cx="601.36" cy="740.74" r="1.1" fill="#111"/>
<circle cx="595.95" cy="740.25" r="1.1" fill="#111"/>
<circle cx="601" cy="740.65" r="1.1" fill="#111"/>
<circle cx="596.74" cy="733.03" r="1.1" fill="#111"/>
<circle cx="600.02" cy="739.81" r="1.1" fill="#111"/>
<circle cx="596.45" cy="740.85" r="1.1" fill="#111"/>
<circle cx="596.84" cy="741.73" r="1.1" fill="#111"/>
<circle cx="599.72" cy="730.51" r="1.1" fill="#111"/>
<circle cx="596.41" cy="733.18" r="1.1" fill="#111"/>
<circle cx="597.8" cy="740" r="1.1" fill="#111"/>
<circle cx="601.04" cy="737.46" r="1.1" fill="#111"/>
<circle cx="599.91" cy="741.66" r="1.1" fill="#111"/>
<circle cx="600.84" cy="735.84" r="1.1" fill="#111"/>
<circle cx="601.39" cy="736.12" r="1.1" fill="#111"/>
<circle cx="596.08" cy="740.94" r="1.1" fill="#111"/>
<circle cx="597.21" cy="739.07" r="1.1" fill="#111"/>
<circle cx="600.34" cy="730.66" r="1.1" fill="#111"/>
<circle cx="599.76" cy="730.65" r="1.1" fill="#111"/>
<circle cx="597.96" cy="698.91" r="1.1" fill="#111"/>
<circle cx="598.71" cy="703.58" r="1.1" fill="#111"/>
<circle cx="598.27" cy="712.93" r="1.1" fill="#111"/>
<circle cx="598.59" cy="717.6" r="1.1" fill="#111"/>
<circle cx="613.58" cy="744.25" r="1.1" fill="#111"/>
<circle cx="614.18" cy="736.62" r="1.1" fill="#111"/>
<circle cx="612.26" cy="740.52" r="1.1" fill="#111"/>
<circle cx="612.72" cy="740.13" r="1.1" fill="#111"/>
<circle cx="614.97" cy="739.14" r="1.1" fill="#111"/>
<circle cx="610.71" cy="739.84" r="1.1" fill="#111"/>
<circle cx="612.93" cy="733.9" r="1.1" fill="#111"/>
<circle cx="613.56" cy="736.04" r="1.1" fill="#111"/>
<circle cx="611.52" cy="724.87" r="1.1" fill="#111"/>
<circle cx="613.39" cy="738.41" r="1.1" fill="#111"/>
<circle cx="611.6" cy="726.09" r="1.1" fill="#111"/>
<circle cx="612.35" cy="737.35" r="1.1" fill="#111"/>
<circle cx="612.83" cy="737.49" r="1.1" fill="#111"/>
<circle cx="613.19" cy="743.04" r="1.1" fill="#111"/>
<circle cx="611.2" cy="735.24" r="1.1" fill="#111"/>
<circle cx="612.92" cy="735.9" r="1.1" fill="#111"/>
<circle cx="612.44" cy="730.72" r="1.1" fill="#111"/>
<circle cx="610.65" cy="733.23" r="1.1" fill="#111"/>
<circle cx="612.83" cy="730.68" r="1.1" fill="#111"/>
<circle cx="610.88" cy="726.37" r="1.1" fill="#111"/>
<circle cx="614.49" cy="735.37" r="1.1" fill="#111"/>
<circle cx="612.05" cy="735.09" r="1.1" fill="#111"/>
<circle cx="613.44" cy="735.54" r="1.1" fill="#111"/>
<circle cx="612.32" cy="735.21" r="1.1" fill="#111"/>
<circle cx="612.07" cy="719.64" r="1.1" fill="#111"/>
<circle cx="610.64" cy="732.18" r="1.1" fill="#111"/>
<circle cx="610.2" cy="737.67" r="1.1" fill="#111"/>
<circle cx="614.59" cy="735.69" r="1.1" fill="#111"/>
<circle cx="612.36" cy="738.74" r="1.1" fill="#111"/>
<circle cx="612.33" cy="727.25" r="1.1" fill="#111"/>
<circle cx="612.35" cy="725.24" r="1.1" fill="#111"/>
<circle cx="613.95" cy="730.61" r="1.1" fill="#111"/>
<circle cx="610.74" cy="731.5" r="1.1" fill="#111"/>
<circle cx="610.37" cy="736.63" r="1.1" fill="#111"/>
<circle cx="614" cy="746.25" r="1.1" fill="#111"/>
<circle cx="612.14" cy="707.09" r="1.1" fill="#111"/>
<circle cx="612.42" cy="712.93" r="1.1" fill="#111"/>
<circle cx="627.74" cy="711.54" r="1.1" fill="#111"/>
<circle cx="625.17" cy="734.65" r="1.1" fill="#111"/>
<circle cx="625.36" cy="713.9" r="1.1" fill="#111"/>
<circle cx="626.44" cy="731.12" r="1.1" fill="#111"/>
<circle cx="628.38" cy="727.39" r="1.1" fill="#111"/>
<circle cx="624.27" cy="725.03" r="1.1" fill="#111"/>
<circle cx="628.64" cy="721.81" r="1.1" fill="#111"/>
<circle cx="627.19" cy="732.46" r="1.1" fill="#111"/>
<circle cx="625.29" cy="703.96" r="1.1" fill="#111"/>
<circle cx="626.93" cy="723.22" r="1.1" fill="#111"/>
<circle cx="625.04" cy="715.01" r="1.1" fill="#111"/>
<circle cx="623.6" cy="730.22" r="1.1" fill="#111"/>
<circle cx="627.43" cy="724.82" r="1.1" fill="#111"/>
<circle cx="625.32" cy="727.74" r="1.1" fill="#111"/>
<circle cx="626.14" cy="725.37" r="1.1" fill="#111"/>
<circle cx="625.98" cy="736.5" r="1.1" fill="#111"/>
<circle cx="628.25" cy="720.79" r="1.1" fill="#111"/>
<circle cx="627.44" cy="729.35" r="1.1" fill="#111"/>
<circle cx="623.34" cy="726.84" r="1.1" fill="#111"/>
<circle cx="626.52" cy="727.63" r="1.1" fill="#111"/>
<circle cx="625.79" cy="732.32" r="1.1" fill="#111"/>
<circle cx="625.79" cy="712.95" r="1.1" fill="#111"/>
<circle cx="627.9" cy="723.71" r="1.1" fill="#111"/>
<circle cx="625.52" cy="719.74" r="1.1" fill="#111"/>
<circle cx="625.85" cy="734.61" r="1.1" fill="#111"/>
<circle cx="628.19" cy="724.81" r="1.1" fill="#111"/>
<circle cx="625.66" cy="726.36" r="1.1" fill="#111"/>
<circle cx="625.95" cy="719.04" r="1.1" fill="#111"/>
<circle cx="626.01" cy="698.91" r="1.1" fill="#111"/>
<path d="M585.5 721V663H626V667" stroke="#555" stroke-width="0.5" fill="none"/>
<text font-size="5.4" text-anchor="middle" transform="translate(605.6 661.2) scale(1.12 1)">&lt;0.0001</text>
<path d="M598.7 702V677.7H626V682" stroke="#555" stroke-width="0.5" fill="none"/>
<text font-size="5.4" text-anchor="middle" transform="translate(612.2 676) scale(1.12 1)">0.0005</text>
<path d="M612.2 705.3V692.1H626V696" stroke="#555" stroke-width="0.5" fill="none"/>
<text font-size="5.4" text-anchor="middle" transform="translate(620.7 690) scale(1.12 1)">0.0038</text>
</svg>
</body></html>
